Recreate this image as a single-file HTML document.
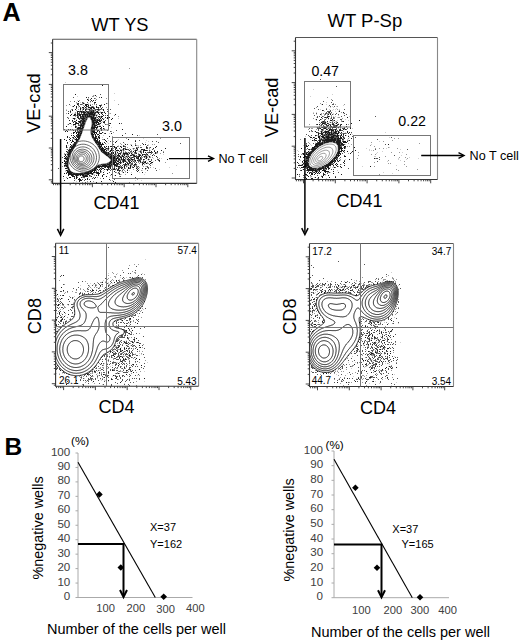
<!DOCTYPE html>
<html><head><meta charset="utf-8"><style>
html,body{margin:0;padding:0;background:#fff;}
body{width:520px;height:642px;overflow:hidden;}
svg{display:block;font-family:"Liberation Sans",sans-serif;}
</style></head><body>
<svg width="520" height="642" viewBox="0 0 520 642">
<text x="2.60" y="20.68" font-size="25.2" font-weight="bold" fill="#000">A</text>
<text x="4.60" y="454.68" font-size="24.5" font-weight="bold" fill="#000">B</text>
<clipPath id="cp1"><rect x="52.6" y="39.3" width="144.1" height="144.10000000000002"/></clipPath>
<g transform="translate(0,0.5)" stroke-width="1" fill="none" shape-rendering="crispEdges">
<path d="M102 85h1M75 94h1M95 95h1M86 97h1M101 97h1M91 98h1M87 99h1M88 100h1M91 100h1M93 100h1M78 101h1M94 102h2M78 103h1M83 103h1M77 104h1M85 104h3M104 104h1M74 105h1M85 105h2M88 105h1M90 105h1M99 105h2M73 106h1M76 106h1M86 106h1M96 106h1M100 106h1M76 107h1M82 107h2M85 107h1M88 107h2M91 107h3M96 107h1M98 107h1M80 108h1M90 108h2M93 108h2M101 108h1M75 109h1M80 109h1M83 109h1M85 109h1M89 109h1M97 109h2M103 109h1M72 110h1M85 110h1M93 110h1M103 110h1M70 111h1M77 111h2M80 111h2M83 111h1M86 111h1M91 111h1M93 111h1M97 111h1M77 112h1M81 112h1M83 112h3M87 112h2M90 112h4M95 112h1M97 112h2M101 112h2M104 112h1M68 113h1M77 113h1M84 113h1M88 113h5M94 113h1M98 113h1M101 113h1M105 113h1M71 114h1M74 114h2M77 114h1M79 114h2M82 114h6M89 114h6M99 114h1M102 114h1M115 114h1M70 115h1M74 115h1M77 115h1M79 115h2M82 115h1M85 115h1M87 115h1M89 115h1M93 115h2M96 115h1M103 115h1M107 115h1M80 116h1M82 116h2M85 116h1M87 116h5M93 116h1M98 116h2M101 116h2M108 116h1M77 117h1M80 117h1M83 117h1M86 117h1M91 117h3M95 117h1M101 117h1M105 117h1M107 117h1M109 117h1M73 118h2M78 118h1M81 118h4M91 118h5M100 118h1M102 118h1M107 118h1M112 118h1M82 119h2M86 119h1M91 119h2M94 119h1M97 119h1M99 119h1M103 119h1M111 119h1M69 120h1M72 120h1M76 120h1M81 120h1M83 120h2M92 120h4M97 120h3M101 120h1M74 121h1M78 121h3M82 121h3M92 121h2M96 121h2M99 121h2M104 121h1M73 122h1M76 122h1M79 122h2M82 122h2M92 122h7M103 122h2M70 123h1M75 123h4M82 123h3M93 123h2M96 123h1M98 123h1M100 123h1M108 123h1M110 123h1M119 123h1M73 124h3M81 124h1M83 124h1M92 124h3M97 124h2M80 125h4M92 125h1M94 125h3M109 125h1M66 126h1M75 126h1M80 126h1M82 126h1M92 126h1M94 126h1M97 126h1M99 126h2M103 126h1M75 127h1M78 127h3M82 127h2M91 127h7M101 127h1M77 128h6M91 128h4M96 128h1M100 128h1M103 128h1M68 129h1M70 129h1M77 129h2M80 129h3M91 129h2M101 129h1M122 129h1M66 130h1M73 130h1M75 130h1M77 130h1M79 130h4M91 130h4M97 130h2M101 130h1M65 131h1M67 131h1M75 131h1M80 131h2M92 131h3M97 131h1M99 131h1M73 132h2M76 132h1M78 132h2M81 132h1M93 132h4M102 132h1M73 133h1M76 133h1M78 133h1M80 133h2M91 133h2M94 133h1M96 133h1M100 133h2M105 133h1M111 133h1M77 134h2M80 134h1M91 134h3M95 134h1M97 134h2M132 134h1M71 135h1M73 135h1M76 135h1M78 135h3M92 135h1M95 135h1M99 135h1M122 135h1M67 136h1M74 136h1M77 136h3M92 136h2M95 136h2M98 136h1M109 136h1M67 137h1M73 137h1M75 137h1M77 137h3M92 137h2M95 137h1M98 137h2M70 138h1M76 138h1M78 138h2M94 138h3M99 138h1M64 139h1M69 139h1M75 139h4M94 139h2M97 139h1M104 139h1M128 139h1M66 140h1M70 140h1M72 140h1M76 140h2M94 140h4M99 140h1M105 140h1M72 141h2M76 141h1M95 141h3M99 141h1M106 141h1M116 141h1M135 141h1M67 142h1M71 142h1M74 142h3M95 142h6M104 142h1M115 142h1M74 143h2M96 143h1M98 143h3M102 143h1M70 144h1M73 144h3M97 144h7M125 144h1M143 144h1M145 144h1M66 145h1M71 145h1M73 145h3M99 145h1M101 145h1M112 145h1M131 145h1M135 145h1M66 146h1M70 146h1M72 146h3M98 146h4M104 146h1M106 146h1M108 146h1M110 146h2M114 146h1M120 146h1M123 146h1M156 146h1M66 147h1M71 147h3M99 147h2M102 147h1M114 147h1M116 147h1M121 147h1M146 147h1M155 147h1M71 148h3M99 148h1M101 148h3M106 148h1M108 148h1M111 148h1M116 148h1M123 148h1M136 148h1M153 148h1M165 148h1M69 149h4M100 149h3M104 149h2M111 149h1M115 149h1M123 149h1M125 149h2M137 149h1M141 149h2M144 149h1M68 150h3M72 150h1M101 150h4M106 150h1M110 150h2M116 150h3M120 150h2M129 150h1M135 150h2M143 150h4M161 150h1M66 151h1M69 151h3M101 151h1M103 151h2M110 151h1M133 151h1M135 151h1M140 151h1M143 151h1M151 151h1M154 151h1M157 151h1M67 152h1M69 152h2M103 152h4M108 152h1M111 152h1M113 152h1M115 152h1M117 152h1M135 152h1M143 152h1M145 152h1M149 152h2M155 152h1M68 153h3M104 153h3M108 153h1M111 153h3M115 153h1M119 153h2M123 153h5M129 153h1M131 153h1M136 153h1M155 153h1M65 154h1M67 154h3M105 154h4M110 154h1M112 154h1M118 154h1M124 154h1M127 154h1M132 154h1M139 154h1M142 154h1M144 154h1M147 154h1M65 155h1M68 155h1M106 155h2M111 155h1M113 155h1M117 155h3M122 155h1M124 155h1M130 155h2M133 155h2M139 155h2M142 155h1M152 155h1M64 156h1M66 156h1M68 156h2M108 156h1M110 156h3M114 156h1M119 156h1M122 156h2M126 156h1M128 156h1M134 156h2M138 156h2M144 156h1M146 156h1M149 156h1M156 156h1M65 157h1M67 157h1M109 157h6M117 157h1M120 157h2M129 157h1M132 157h1M136 157h1M138 157h1M140 157h1M146 157h1M64 158h5M110 158h5M116 158h2M121 158h1M123 158h1M128 158h1M134 158h1M137 158h2M140 158h1M146 158h1M66 159h3M111 159h3M116 159h1M118 159h2M121 159h1M123 159h2M127 159h1M129 159h1M131 159h2M143 159h1M148 159h1M167 159h1M64 160h1M67 160h2M111 160h1M113 160h2M116 160h1M123 160h2M128 160h1M135 160h1M137 160h1M139 160h1M159 160h1M64 161h1M66 161h2M110 161h2M113 161h1M115 161h1M117 161h2M120 161h1M123 161h1M125 161h1M129 161h1M131 161h1M140 161h1M145 161h1M149 161h2M62 162h1M65 162h1M67 162h1M109 162h7M119 162h2M123 162h1M129 162h2M142 162h1M144 162h2M151 162h2M64 163h4M109 163h2M112 163h3M116 163h3M120 163h1M125 163h1M127 163h1M143 163h1M146 163h1M150 163h1M67 164h1M101 164h1M103 164h3M107 164h3M111 164h1M113 164h3M117 164h1M125 164h2M128 164h1M134 164h2M142 164h1M64 165h4M98 165h1M102 165h5M109 165h2M112 165h1M114 165h3M124 165h1M130 165h1M66 166h2M97 166h14M116 166h1M118 166h2M124 166h1M130 166h1M134 166h1M67 167h2M95 167h2M98 167h2M105 167h1M107 167h2M110 167h1M112 167h1M122 167h1M124 167h1M128 167h1M130 167h1M133 167h1M65 168h2M68 168h1M94 168h3M100 168h1M102 168h2M108 168h1M110 168h1M114 168h1M118 168h1M121 168h1M128 168h1M136 168h1M145 168h1M68 169h1M92 169h1M94 169h2M97 169h1M99 169h1M101 169h1M104 169h1M107 169h1M112 169h3M118 169h1M137 169h1M66 170h2M69 170h1M90 170h1M92 170h4M100 170h1M107 170h1M117 170h1M119 170h1M127 170h1M138 170h1M67 171h4M88 171h5M94 171h1M100 171h1M114 171h1M137 171h1M67 172h6M85 172h4M90 172h2M93 172h2M96 172h3M103 172h1M123 172h1M127 172h1M142 172h1M64 173h1M66 173h1M68 173h4M73 173h2M76 173h2M80 173h3M84 173h9M97 173h3M107 173h1M119 173h1M68 174h16M87 174h2M92 174h1M98 174h1M103 174h1M111 174h2M131 174h1M68 175h1M71 175h2M76 175h2M80 175h1M82 175h2M85 175h2M89 175h1M96 175h1M98 175h1M102 175h1M115 175h1M63 176h1M72 176h3M76 176h1M83 176h5M91 176h1M102 176h1M106 176h1M69 177h2M76 177h1M81 177h1M95 177h1M67 178h1M74 178h1M76 178h1M79 178h1M87 178h1M94 178h1M103 178h1M127 178h1M78 179h3M85 179h1M87 179h1M109 179h1M64 180h1M79 180h3M79 181h1M90 181h1M101 181h1M113 181h1M96 182h1M115 182h1" stroke="#1a1a1a"/>
<path d="M100 94h1M73 97h1M88 97h1M99 97h1M94 98h1M90 99h1M95 100h1M74 101h1M90 101h1M92 101h1M82 102h1M87 102h1M77 103h1M94 103h1M106 103h1M69 104h1M78 104h1M80 104h2M96 104h1M78 105h1M101 105h1M79 106h1M84 106h1M87 106h2M92 106h1M80 107h1M90 107h1M97 107h1M102 107h1M76 108h1M83 108h1M86 108h1M98 108h1M72 109h1M86 109h1M88 109h1M91 109h1M95 109h2M99 109h2M107 109h1M110 109h1M89 110h4M95 110h1M98 110h1M68 111h1M79 111h1M82 111h1M84 111h1M87 111h4M92 111h1M96 111h1M107 111h1M70 112h1M79 112h1M82 112h1M89 112h1M94 112h1M96 112h1M78 113h2M81 113h1M83 113h1M86 113h2M93 113h1M95 113h1M78 114h1M81 114h1M88 114h1M73 115h1M75 115h1M83 115h2M86 115h1M88 115h1M90 115h3M105 115h1M77 116h2M81 116h1M84 116h1M86 116h1M92 116h1M67 117h1M78 117h1M81 117h2M84 117h2M87 117h1M90 117h1M94 117h1M97 117h1M99 117h1M68 118h1M79 118h2M85 118h2M98 118h1M74 119h1M79 119h1M84 119h2M93 119h1M95 119h2M101 119h1M80 120h1M82 120h1M85 120h1M96 120h1M100 120h1M105 120h1M72 121h1M75 121h1M81 121h1M85 121h1M94 121h2M75 122h1M84 122h1M108 122h1M69 123h1M80 123h2M92 123h1M99 123h1M109 123h1M121 123h1M68 124h1M78 124h1M80 124h1M82 124h1M84 124h1M99 124h1M105 124h1M78 125h2M93 125h1M76 126h1M81 126h1M83 126h1M93 126h1M95 126h1M63 127h1M101 128h1M64 129h1M72 129h1M79 129h1M93 129h2M96 129h1M104 129h1M107 130h1M116 130h1M77 131h3M91 131h1M110 131h1M77 132h1M80 132h1M91 132h2M99 132h1M79 133h1M99 133h1M104 133h1M125 133h1M79 134h1M157 134h1M77 135h1M93 135h1M137 135h1M76 136h1M69 137h1M72 137h1M94 137h1M96 137h1M73 138h1M93 138h1M97 138h1M107 138h1M135 140h1M139 140h1M77 141h1M98 141h1M110 141h1M152 141h1M156 141h1M123 142h1M158 142h1M67 143h1M76 143h1M97 143h1M105 143h1M142 143h1M180 143h1M113 144h1M127 144h1M98 145h1M123 145h1M147 145h1M113 146h1M117 146h1M124 146h2M146 146h1M70 147h1M104 147h2M108 147h1M115 147h1M136 147h1M138 147h1M140 147h2M147 147h1M150 147h1M189 147h1M100 148h1M107 148h1M115 148h1M119 148h1M124 148h2M133 148h1M137 148h1M146 148h2M67 149h1M103 149h1M108 149h1M127 149h2M130 149h1M143 149h1M152 149h1M71 150h1M113 150h1M123 150h1M147 150h1M149 150h1M154 150h1M102 151h1M105 151h1M109 151h1M115 151h1M119 151h1M121 151h1M130 151h2M68 152h1M102 152h1M107 152h1M121 152h1M123 152h1M125 152h2M128 152h1M134 152h1M140 152h2M147 152h2M151 152h2M157 152h1M163 152h1M107 153h1M109 153h1M118 153h1M135 153h1M141 153h1M146 153h1M151 153h1M109 154h1M111 154h1M114 154h2M120 154h1M123 154h1M126 154h1M128 154h1M133 154h1M138 154h1M143 154h1M145 154h2M153 154h1M69 155h1M108 155h3M112 155h1M115 155h1M136 155h1M145 155h1M154 155h1M109 156h1M113 156h1M115 156h2M118 156h1M120 156h1M133 156h1M136 156h2M141 156h1M145 156h1M62 157h1M68 157h1M115 157h1M118 157h1M123 157h2M127 157h1M131 157h1M133 157h1M137 157h1M144 157h1M149 157h1M157 157h1M115 158h1M118 158h2M125 158h1M130 158h2M136 158h1M141 158h1M114 159h2M122 159h1M128 159h1M133 159h2M138 159h4M144 159h1M151 159h1M157 159h2M112 160h1M115 160h1M118 160h3M122 160h1M125 160h1M129 160h2M132 160h1M134 160h1M138 160h1M140 160h1M151 160h1M155 160h1M158 160h1M65 161h1M112 161h1M114 161h1M122 161h1M124 161h1M128 161h1M133 161h1M135 161h1M138 161h1M143 161h1M159 161h1M66 162h1M116 162h1M121 162h1M126 162h2M134 162h1M136 162h1M140 162h1M107 163h2M111 163h1M128 163h2M131 163h2M135 163h1M142 163h1M65 164h2M102 164h1M106 164h1M110 164h1M112 164h1M116 164h1M119 164h1M123 164h2M131 164h2M136 164h1M149 164h1M99 165h2M107 165h2M111 165h1M117 165h1M120 165h1M122 165h1M125 165h1M133 165h2M150 165h1M64 166h1M96 166h1M112 166h1M114 166h1M117 166h1M121 166h1M126 166h1M136 166h1M138 166h1M147 166h1M97 167h1M101 167h1M104 167h1M109 167h1M114 167h1M118 167h4M132 167h1M137 167h1M147 167h2M58 168h1M67 168h1M112 168h1M116 168h1M119 168h1M124 168h1M129 168h2M138 168h1M142 168h1M148 168h1M155 168h1M69 169h1M93 169h1M106 169h1M108 169h2M111 169h1M115 169h1M117 169h1M123 169h1M68 170h1M91 170h1M98 170h1M110 170h1M118 170h1M120 170h1M122 170h1M136 170h1M147 170h1M156 170h1M96 171h1M119 171h1M89 172h1M95 172h1M100 172h1M109 172h1M115 172h1M118 172h1M72 173h1M75 173h1M78 173h2M83 173h1M96 173h1M84 174h3M119 174h1M73 175h1M75 175h1M78 175h1M84 175h1M87 175h1M120 176h1M74 177h1M77 177h1M83 177h2M93 177h1M135 177h1M92 178h1M82 179h1M89 179h1M114 179h1M74 180h1M84 180h1M85 182h1" stroke="#555"/>
<path d="M129 68h1M93 95h1M92 96h2M96 96h1M95 98h1M106 98h1M88 99h1M96 99h1M79 100h1M70 101h1M76 102h1M83 102h1M82 103h1M84 103h1M82 104h1M88 104h1M90 104h1M92 104h1M94 104h1M101 104h1M118 104h1M66 105h1M83 105h1M72 106h1M91 106h1M93 106h1M86 107h1M94 107h1M100 107h1M106 107h1M84 108h1M71 109h1M78 109h1M82 109h1M87 109h1M90 109h1M92 109h1M94 109h1M101 109h2M66 110h1M70 110h1M76 110h1M80 110h1M82 110h1M94 110h1M99 110h1M85 111h1M94 111h1M104 111h1M75 112h1M86 112h1M99 112h2M66 113h1M75 113h1M85 113h1M110 113h1M95 114h1M76 115h1M78 115h1M95 115h1M114 115h1M75 116h1M94 116h1M96 116h1M100 116h1M118 116h1M96 117h1M100 117h1M75 118h1M81 119h1M98 119h1M103 121h1M81 122h1M101 122h1M95 123h1M104 123h1M95 124h2M106 124h2M73 125h1M75 125h1M98 126h1M76 127h2M81 127h1M104 128h1M75 129h2M95 129h1M111 131h1M113 132h1M71 133h1M94 134h1M99 136h1M112 136h1M74 138h1M126 138h1M160 138h1M72 139h1M74 139h1M102 139h2M113 141h1M120 143h1M135 143h1M121 144h1M135 144h1M152 144h1M154 144h1M100 145h1M136 145h1M140 145h1M71 146h1M118 146h1M121 146h1M67 147h1M69 147h1M101 147h1M125 147h1M127 147h1M137 147h1M149 147h1M105 148h1M113 148h1M134 148h1M149 148h1M107 149h1M120 149h1M122 149h1M133 149h1M108 150h1M131 150h1M134 150h1M137 150h1M140 150h2M67 151h1M106 151h1M123 151h1M125 151h1M139 151h1M141 151h1M149 151h1M163 151h1M120 152h1M129 152h4M136 152h1M156 152h1M64 153h1M110 153h1M134 153h1M138 153h1M156 153h1M160 153h1M64 154h1M116 154h1M122 154h1M125 154h1M131 154h1M134 154h1M140 154h1M150 154h1M114 155h1M121 155h1M127 155h2M132 155h1M138 155h1M146 155h3M117 156h1M121 156h1M125 156h1M127 156h1M143 156h1M66 157h1M125 157h1M130 157h1M134 157h1M141 157h2M147 157h1M150 157h1M152 157h1M145 158h1M159 158h1M65 159h1M120 159h1M125 159h1M130 159h1M149 159h1M66 160h1M117 160h1M143 160h1M126 161h1M134 161h1M139 161h1M144 161h1M118 162h1M132 162h1M138 162h1M141 162h1M143 162h1M147 162h1M165 162h1M130 163h1M139 163h1M147 163h2M151 163h1M118 164h1M127 164h1M130 164h1M144 164h1M101 165h1M126 165h1M128 165h1M131 165h1M135 165h2M142 165h1M62 166h1M65 166h1M111 166h1M120 166h1M132 166h1M137 166h1M143 166h1M146 166h1M136 167h1M139 167h1M150 167h1M101 168h1M113 168h1M122 168h1M125 168h1M146 168h1M96 169h1M127 169h1M133 169h1M145 169h1M96 170h1M124 170h1M141 170h1M101 171h1M122 171h1M125 171h1M66 172h1M116 172h1M93 173h1M118 173h1M172 173h1M91 174h1M104 174h1M120 174h1M125 174h1M90 175h1M94 175h1M110 175h1M82 176h1M89 176h2M119 176h1M66 177h1M82 177h1M97 177h1M100 178h1M137 179h1M110 180h1M112 180h1M87 181h1M93 181h1M82 182h1M129 182h1" stroke="#999"/>
<path d="M65 82h1M114 93h1M94 95h1M77 96h1M88 98h1M77 100h1M114 100h1M80 102h1M90 102h1M76 103h1M88 103h1M107 103h1M70 105h1M96 105h1M78 106h1M78 107h1M99 107h1M81 108h2M85 108h1M87 108h3M66 109h1M93 109h1M86 110h1M97 110h1M95 111h1M98 111h1M100 111h1M80 112h1M103 112h1M72 113h1M74 113h1M102 113h1M109 113h1M96 114h2M97 115h1M101 115h1M68 117h1M72 118h1M96 118h1M103 118h2M106 118h1M118 118h1M76 119h1M80 119h1M100 119h1M73 121h1M102 121h1M78 122h1M100 122h1M67 124h1M71 124h1M79 124h1M108 124h1M97 125h1M99 125h2M102 125h1M108 125h1M71 126h1M108 127h1M111 127h1M76 128h1M97 128h1M103 132h1M93 133h1M109 133h1M97 135h1M103 135h1M139 135h1M102 137h1M98 138h1M143 138h1M98 139h1M118 139h1M75 140h1M108 140h1M117 140h1M146 140h1M69 141h1M75 141h1M148 141h1M102 142h1M107 142h1M145 142h1M73 143h1M108 143h1M124 143h1M106 144h1M130 144h2M148 144h1M68 145h1M72 145h1M118 145h1M124 145h1M137 145h2M148 145h1M132 146h1M138 146h1M112 147h1M109 148h1M129 148h1M132 148h1M66 149h1M106 149h1M117 149h1M121 149h1M124 149h1M135 149h2M149 149h1M153 149h1M107 150h1M112 150h1M115 150h1M122 150h1M124 150h1M128 150h1M150 150h1M114 151h1M116 151h2M138 151h1M109 152h1M124 152h1M127 152h1M66 153h1M116 153h2M121 153h2M128 153h1M132 153h1M148 153h1M154 153h1M157 153h1M66 154h1M163 154h1M116 155h1M123 155h1M126 155h1M135 155h1M141 155h1M124 156h1M129 156h2M147 156h2M150 156h1M116 157h1M126 157h1M145 157h1M120 158h1M126 158h2M148 158h1M153 158h1M157 158h1M161 158h1M126 159h1M137 159h1M147 159h1M121 160h1M127 160h1M131 160h1M133 160h1M146 160h1M148 160h1M116 161h1M132 161h1M142 161h1M153 161h1M122 162h1M121 163h1M144 163h2M64 164h1M152 164h1M127 165h1M129 165h1M176 165h1M115 166h1M123 166h1M127 166h1M131 166h1M145 166h1M66 167h1M102 167h1M126 167h1M129 167h1M153 167h1M169 167h1M99 168h1M109 168h1M137 168h1M67 169h1M100 169h1M105 169h1M116 169h1M122 169h1M139 169h1M159 169h1M65 170h1M103 170h1M115 170h1M129 170h1M142 170h1M65 171h1M98 171h1M104 171h1M121 171h1M101 172h1M119 172h1M122 172h1M125 172h1M131 172h1M139 172h1M145 172h1M117 173h1M89 174h1M93 174h2M121 174h1M144 174h1M79 175h1M81 175h1M114 175h1M77 176h1M88 177h1M109 177h1M63 178h1M84 178h1M75 179h1M135 180h1M141 180h1M76 181h1M73 182h1M87 182h1" stroke="#d0d0d0"/>
</g>
<g clip-path="url(#cp1)" fill="none" stroke="#333" stroke-width="0.75">
<path d="M89.8,117.5 90.1,117.9 90.4,118.4 90.8,119.0 91.2,119.7 91.5,120.4 91.8,121.3 92.0,122.1 92.1,123.0 92.1,123.9 92.0,125.0 91.7,126.1 91.5,127.2 91.2,128.3 91.0,129.4 90.8,130.5 90.8,131.5 90.9,132.4 91.0,133.2 91.2,134.0 91.4,134.8 91.6,135.6 91.9,136.4 92.3,137.2 92.7,138.0 93.2,138.9 93.7,139.8 94.3,140.8 95.0,141.8 95.6,142.7 96.3,143.7 96.9,144.6 97.5,145.5 98.1,146.4 98.6,147.3 99.2,148.2 99.7,149.0 100.2,149.8 100.7,150.6 101.3,151.4 101.8,152.0 102.3,152.5 102.8,153.0 103.3,153.4 103.9,153.7 104.4,154.0 104.9,154.4 105.4,154.7 106.0,155.2 106.6,155.7 107.4,156.3 108.2,156.9 109.0,157.6 109.7,158.2 110.4,158.9 110.8,159.5 111.0,160.0 111.0,160.5 110.8,161.0 110.4,161.4 110.0,161.8 109.4,162.2 108.7,162.6 108.0,163.0 107.2,163.3 106.3,163.6 105.3,163.8 104.2,164.0 103.0,164.1 101.8,164.3 100.6,164.5 99.6,164.7 98.6,165.0 97.8,165.4 97.0,165.8 96.4,166.3 95.8,166.8 95.2,167.3 94.5,167.8 93.9,168.2 93.2,168.7 92.5,169.1 91.7,169.6 91.0,170.0 90.2,170.4 89.4,170.8 88.6,171.2 87.7,171.6 86.8,171.9 85.8,172.2 84.7,172.5 83.6,172.8 82.4,173.0 81.3,173.2 80.2,173.4 79.1,173.5 78.1,173.5 77.2,173.5 76.3,173.4 75.4,173.3 74.6,173.1 73.8,172.9 73.0,172.6 72.3,172.3 71.7,171.9 71.1,171.5 70.6,170.9 70.1,170.4 69.7,169.8 69.3,169.1 69.0,168.4 68.7,167.7 68.5,167.0 68.3,166.3 68.2,165.5 68.2,164.7 68.2,163.9 68.2,163.1 68.3,162.2 68.4,161.4 68.5,160.6 68.6,159.8 68.8,159.0 69.0,158.2 69.3,157.4 69.6,156.6 69.9,155.8 70.2,155.0 70.6,154.1 71.0,153.2 71.5,152.3 72.0,151.4 72.6,150.5 73.1,149.5 73.7,148.6 74.3,147.6 74.9,146.6 75.5,145.6 76.1,144.5 76.8,143.5 77.4,142.4 78.1,141.3 78.7,140.2 79.3,139.1 79.8,138.0 80.3,136.9 80.7,135.8 81.1,134.7 81.5,133.6 81.9,132.6 82.3,131.5 82.6,130.4 83.0,129.4 83.4,128.4 83.7,127.3 84.1,126.3 84.4,125.3 84.8,124.3 85.1,123.4 85.4,122.6 85.7,121.8 86.0,121.1 86.3,120.5 86.5,120.0 86.8,119.5 87.0,119.1 87.3,118.7 87.5,118.4 87.8,118.1 88.1,117.8 88.3,117.6 88.5,117.4 88.8,117.2 89.0,117.1 89.3,117.1 89.5,117.3Z"/>
<path d="M91.2,143.1 93.0,144.2 94.5,145.6 95.9,147.1 97.1,148.9 98.0,150.7 98.7,152.6 99.1,154.6 99.3,156.7 99.2,158.7 98.8,160.7 98.2,162.6 97.3,164.4 96.1,166.1 94.8,167.7 93.3,169.0 91.5,170.1 89.7,171.0 87.8,171.6 85.7,172.0 83.7,172.1 81.6,171.9 79.6,171.5 77.6,170.8 75.8,169.9 74.0,168.8 72.5,167.4 71.1,165.9 69.9,164.1 69.0,162.3 68.3,160.4 67.9,158.4 67.7,156.3 67.8,154.3 68.2,152.3 68.8,150.4 69.7,148.6 70.9,146.9 72.2,145.3 73.7,144.0 75.5,142.9 77.3,142.0 79.2,141.4 81.3,141.0 83.3,140.9 85.4,141.1 87.4,141.5 89.4,142.2Z"/>
<path d="M89.7,146.0 91.2,147.0 92.5,148.1 93.7,149.4 94.6,150.9 95.4,152.4 96.0,154.0 96.4,155.7 96.5,157.4 96.4,159.1 96.1,160.7 95.6,162.3 94.8,163.8 93.9,165.3 92.8,166.5 91.5,167.6 90.0,168.5 88.5,169.3 86.9,169.8 85.2,170.1 83.5,170.2 81.7,170.1 80.1,169.7 78.4,169.1 76.9,168.4 75.4,167.4 74.1,166.3 72.9,165.0 72.0,163.5 71.2,162.0 70.6,160.4 70.2,158.7 70.1,157.0 70.2,155.3 70.5,153.7 71.0,152.1 71.8,150.6 72.7,149.1 73.8,147.9 75.1,146.8 76.6,145.9 78.1,145.1 79.7,144.6 81.4,144.3 83.1,144.2 84.9,144.3 86.5,144.7 88.2,145.3Z"/>
<path d="M88.4,148.4 89.6,149.2 90.7,150.2 91.7,151.2 92.5,152.4 93.1,153.7 93.6,155.1 93.9,156.5 94.0,157.9 93.9,159.3 93.6,160.7 93.2,162.1 92.6,163.3 91.8,164.5 90.8,165.6 89.8,166.5 88.6,167.3 87.3,167.9 85.9,168.4 84.5,168.6 83.1,168.7 81.7,168.6 80.2,168.3 78.9,167.8 77.6,167.2 76.4,166.4 75.3,165.4 74.3,164.4 73.5,163.2 72.9,161.9 72.4,160.5 72.1,159.1 72.0,157.7 72.1,156.3 72.4,154.9 72.8,153.5 73.4,152.3 74.2,151.1 75.2,150.0 76.2,149.1 77.4,148.3 78.7,147.7 80.1,147.2 81.5,147.0 82.9,146.9 84.3,147.0 85.8,147.3 87.1,147.8Z"/>
<path d="M87.1,150.5 88.2,151.2 89.1,152.0 89.9,152.9 90.6,153.9 91.1,154.9 91.5,156.0 91.8,157.2 91.9,158.4 91.8,159.5 91.6,160.7 91.3,161.8 90.8,162.8 90.1,163.8 89.3,164.7 88.4,165.4 87.4,166.1 86.4,166.6 85.2,166.9 84.1,167.1 82.9,167.2 81.7,167.1 80.5,166.8 79.3,166.4 78.3,165.9 77.2,165.2 76.3,164.4 75.5,163.5 74.8,162.5 74.3,161.5 73.9,160.4 73.6,159.2 73.5,158.0 73.6,156.9 73.8,155.7 74.1,154.6 74.6,153.6 75.3,152.6 76.1,151.7 77.0,151.0 78.0,150.3 79.0,149.8 80.2,149.5 81.3,149.3 82.5,149.2 83.7,149.3 84.9,149.6 86.1,150.0Z"/>
<path d="M85.9,152.0 86.8,152.5 87.6,153.2 88.2,153.9 88.8,154.8 89.3,155.6 89.6,156.6 89.8,157.5 89.9,158.5 89.9,159.4 89.7,160.4 89.4,161.3 89.0,162.1 88.4,162.9 87.8,163.7 87.1,164.3 86.2,164.8 85.4,165.2 84.4,165.5 83.5,165.7 82.5,165.7 81.5,165.6 80.5,165.4 79.6,165.1 78.7,164.6 77.8,164.1 77.0,163.4 76.4,162.7 75.8,161.8 75.3,161.0 75.0,160.0 74.8,159.1 74.7,158.1 74.7,157.2 74.9,156.2 75.2,155.3 75.6,154.5 76.2,153.7 76.8,152.9 77.5,152.3 78.4,151.8 79.2,151.4 80.2,151.1 81.1,150.9 82.1,150.9 83.1,151.0 84.1,151.2 85.0,151.5Z"/>
<path d="M85.0,153.3 85.7,153.7 86.3,154.3 86.8,154.8 87.2,155.5 87.6,156.2 87.8,156.9 88.0,157.7 88.0,158.5 88.0,159.3 87.8,160.1 87.6,160.8 87.2,161.5 86.8,162.2 86.3,162.7 85.7,163.3 85.0,163.7 84.3,164.0 83.6,164.3 82.8,164.4 82.0,164.5 81.3,164.4 80.5,164.3 79.8,164.0 79.0,163.7 78.4,163.3 77.8,162.7 77.3,162.2 76.9,161.5 76.5,160.8 76.3,160.1 76.1,159.3 76.0,158.5 76.1,157.7 76.3,156.9 76.5,156.2 76.9,155.5 77.3,154.8 77.8,154.3 78.4,153.7 79.0,153.3 79.8,153.0 80.5,152.7 81.3,152.6 82.0,152.5 82.8,152.6 83.6,152.7 84.3,153.0Z"/>
<path d="M84.1,154.7 84.6,155.0 85.0,155.4 85.4,155.8 85.7,156.3 86.0,156.9 86.2,157.4 86.3,158.0 86.3,158.6 86.2,159.2 86.1,159.8 85.9,160.4 85.7,160.9 85.3,161.4 84.9,161.9 84.5,162.3 84.0,162.6 83.4,162.9 82.9,163.1 82.3,163.2 81.7,163.3 81.1,163.3 80.6,163.2 80.0,163.0 79.5,162.7 79.0,162.4 78.6,162.0 78.2,161.6 77.9,161.1 77.6,160.5 77.4,160.0 77.3,159.4 77.3,158.8 77.4,158.2 77.5,157.6 77.7,157.0 77.9,156.5 78.3,156.0 78.7,155.5 79.1,155.1 79.6,154.8 80.2,154.5 80.7,154.3 81.3,154.2 81.9,154.1 82.5,154.1 83.0,154.2 83.6,154.4Z"/>
<path d="M82.7,156.2 83.1,156.4 83.3,156.7 83.6,156.9 83.8,157.3 83.9,157.6 84.0,158.0 84.1,158.3 84.1,158.7 84.1,159.1 84.0,159.5 83.8,159.8 83.7,160.2 83.5,160.5 83.2,160.8 82.9,161.1 82.6,161.3 82.3,161.5 81.9,161.6 81.5,161.7 81.2,161.7 80.8,161.7 80.4,161.7 80.1,161.6 79.8,161.4 79.4,161.2 79.2,160.9 78.9,160.7 78.7,160.3 78.6,160.0 78.5,159.6 78.4,159.3 78.4,158.9 78.4,158.5 78.5,158.1 78.7,157.8 78.8,157.4 79.0,157.1 79.3,156.8 79.6,156.5 79.9,156.3 80.2,156.1 80.6,156.0 81.0,155.9 81.3,155.9 81.7,155.9 82.1,155.9 82.4,156.0Z"/>
</g>
<clipPath id="cp2"><rect x="295.5" y="37.5" width="142.0" height="142.0"/></clipPath>
<g transform="translate(0,0.5)" stroke-width="1" fill="none" shape-rendering="crispEdges">
<path d="M322 104h1M322 110h1M339 111h1M329 112h1M343 112h1M320 114h1M328 114h1M330 114h1M328 116h1M321 117h1M325 117h1M327 117h1M347 117h1M328 118h1M316 119h1M320 119h1M332 119h1M319 120h1M330 120h2M334 120h1M359 120h1M323 121h1M327 121h1M343 121h1M321 122h1M325 122h1M337 122h1M322 123h3M327 123h1M336 123h1M351 123h1M317 124h1M319 124h1M326 124h1M332 124h2M338 124h1M341 124h1M346 124h1M350 124h1M328 125h1M330 125h1M336 125h1M340 125h1M327 126h1M331 126h1M334 126h1M336 126h1M346 126h1M322 127h1M324 127h3M332 127h4M338 127h1M350 127h1M320 128h1M324 128h2M344 128h1M350 128h1M321 129h2M326 129h1M329 129h3M335 129h1M340 129h1M343 129h1M345 129h1M329 130h1M331 130h3M335 130h1M339 130h2M315 131h1M321 131h1M325 131h4M331 131h1M335 131h2M338 131h1M347 131h1M316 132h1M321 132h1M323 132h1M325 132h2M328 132h2M331 132h1M334 132h2M338 132h1M341 132h1M347 132h1M349 132h1M318 133h1M321 133h2M325 133h1M327 133h1M329 133h1M331 133h1M333 133h1M335 133h4M348 133h1M318 134h1M321 134h2M326 134h1M328 134h5M337 134h1M341 134h1M343 134h1M350 134h1M315 135h1M324 135h1M328 135h1M333 135h3M337 135h2M341 135h1M345 135h1M318 136h2M321 136h3M326 136h3M331 136h3M336 136h2M340 136h1M348 136h1M310 137h2M313 137h1M318 137h2M322 137h3M326 137h8M338 137h1M340 137h2M343 137h1M315 138h2M319 138h1M324 138h1M327 138h2M331 138h2M334 138h2M337 138h5M344 138h1M351 138h1M314 139h1M321 139h1M325 139h11M337 139h2M342 139h1M312 140h1M315 140h2M319 140h2M322 140h14M337 140h4M349 140h1M319 141h2M324 141h1M326 141h6M333 141h2M336 141h5M343 141h3M347 141h1M318 142h2M322 142h1M324 142h4M334 142h1M336 142h5M343 142h4M316 143h7M337 143h3M341 143h2M315 144h8M337 144h3M341 144h3M388 144h1M306 145h1M308 145h1M315 145h3M319 145h2M338 145h3M343 145h1M306 146h2M314 146h5M338 146h2M344 146h2M312 147h3M317 147h1M338 147h4M344 147h1M354 147h1M301 148h1M312 148h5M338 148h5M344 148h1M309 149h1M311 149h5M338 149h2M341 149h1M312 150h3M338 150h1M341 150h2M344 150h1M355 150h1M308 151h1M311 151h3M338 151h4M343 151h1M347 151h1M352 151h1M307 152h1M309 152h3M337 152h3M303 153h1M306 153h1M308 153h4M337 153h4M350 153h1M303 154h1M306 154h5M336 154h1M338 154h1M340 154h1M304 155h1M308 155h3M336 155h4M300 156h1M304 156h5M336 156h1M338 156h1M344 156h2M303 157h2M306 157h4M334 157h4M306 158h3M333 158h3M374 158h1M308 159h1M332 159h1M334 159h1M336 159h1M349 159h1M304 160h1M306 160h3M331 160h2M334 160h2M337 160h1M339 160h1M302 161h1M304 161h3M308 161h1M330 161h4M335 161h1M338 161h1M344 161h1M297 162h1M304 162h1M306 162h2M329 162h4M334 162h1M343 162h1M303 163h1M305 163h4M328 163h3M336 163h1M344 163h1M302 164h1M305 164h4M326 164h5M332 164h1M335 164h1M337 164h1M298 165h4M305 165h4M324 165h7M333 165h1M336 165h1M344 165h1M303 166h4M308 166h2M322 166h2M325 166h4M337 166h1M340 166h1M370 166h1M301 167h3M307 167h5M322 167h2M325 167h1M327 167h2M334 167h1M341 167h1M307 168h1M309 168h7M318 168h6M325 168h2M328 168h2M303 169h1M307 169h7M315 169h1M317 169h4M323 169h1M301 170h1M307 170h10M319 170h1M322 170h4M312 171h1M315 171h2M319 171h1M324 171h5M333 171h1M307 172h1M310 172h1M314 172h1M316 172h1M318 172h1M320 172h1M325 172h1M309 173h1M311 173h2M315 173h1M317 173h1M319 173h1M323 173h1M333 173h1M297 174h1M305 174h2M311 174h2M314 174h1M323 174h2M341 174h1M307 175h1M323 175h1M328 175h1M308 176h1M322 176h1M305 177h1M315 177h1M318 177h1M322 177h1M329 177h1M335 177h1M306 178h1M311 178h2" stroke="#1a1a1a"/>
<path d="M320 79h1M336 86h1M332 100h1M323 101h1M331 102h1M332 104h2M329 105h1M317 106h1M330 106h1M334 106h1M314 108h1M318 109h1M326 109h1M344 109h1M323 110h1M330 110h1M327 111h4M326 112h1M328 112h1M331 112h1M316 113h1M325 113h2M330 113h1M336 113h1M344 113h1M325 114h1M332 114h1M335 114h1M338 114h1M346 114h1M314 115h1M344 115h1M317 116h1M319 116h1M322 116h1M327 116h1M329 116h1M341 116h1M375 116h1M317 117h1M324 117h1M326 117h1M331 117h1M333 117h1M322 118h1M331 118h1M333 118h1M325 119h1M340 119h2M324 120h1M322 121h1M324 121h1M342 121h1M322 122h3M330 122h1M332 122h1M334 122h1M325 123h1M328 123h1M332 123h2M316 124h1M321 124h2M325 124h1M329 124h2M337 124h1M340 124h1M321 125h1M323 125h1M326 125h2M333 125h3M337 125h1M323 126h2M330 126h1M333 126h1M335 126h1M340 126h1M317 127h1M319 127h1M321 127h1M323 127h1M330 127h1M340 127h1M344 127h1M309 128h1M317 128h3M323 128h1M328 128h1M330 128h1M332 128h1M336 128h1M342 128h2M347 128h1M318 129h1M327 129h1M332 129h3M336 129h1M339 129h1M346 129h1M311 130h1M318 130h1M322 130h1M328 130h1M337 130h1M341 130h2M309 131h1M312 131h1M324 131h1M333 131h1M317 132h2M324 132h1M327 132h1M330 132h1M333 132h1M336 132h1M339 132h1M351 132h1M319 133h2M328 133h1M332 133h1M334 133h1M340 133h1M343 133h3M306 134h1M324 134h2M327 134h1M333 134h2M308 135h1M311 135h1M316 135h1M318 135h1M320 135h1M322 135h2M325 135h3M329 135h4M336 135h1M340 135h1M343 135h1M309 136h1M325 136h1M329 136h1M334 136h2M338 136h1M342 136h2M352 136h1M314 137h1M325 137h1M334 137h4M355 137h1M391 137h1M321 138h1M323 138h1M325 138h2M329 138h2M333 138h1M336 138h1M319 139h2M322 139h3M336 139h1M339 139h2M343 139h1M377 139h1M314 140h1M318 140h1M336 140h1M317 141h1M322 141h2M325 141h1M332 141h1M342 141h1M317 142h1M320 142h2M323 142h1M328 142h1M333 142h1M335 142h1M341 142h1M306 143h1M313 143h1M323 143h2M336 143h1M340 143h1M340 144h1M344 144h1M385 144h1M318 145h1M341 145h2M340 146h2M315 147h2M345 147h1M307 148h1M308 149h1M375 149h1M407 149h1M339 150h1M304 151h1M310 151h1M306 152h1M312 152h1M344 152h1M351 152h1M302 153h1M342 153h1M298 154h1M337 154h1M307 155h1M344 155h1M394 155h1M298 156h1M309 156h1M335 156h1M300 157h1M340 157h1M379 157h1M336 158h2M376 158h2M299 159h1M306 159h2M333 159h1M379 159h1M303 160h1M333 160h1M344 160h1M307 161h1M334 161h1M377 161h1M302 162h1M298 163h1M331 163h1M333 163h1M331 164h1M340 164h1M302 165h1M307 166h1M324 166h1M297 167h1M305 167h2M319 167h3M324 167h1M335 167h1M306 168h1M316 168h1M324 168h1M348 168h1M296 169h1M314 169h1M316 169h1M321 169h1M324 169h1M326 169h1M328 169h1M331 169h1M333 169h1M300 170h1M306 170h1M317 170h2M308 171h1M317 171h1M309 172h1M311 172h1M313 172h1M329 172h1M338 172h1M304 173h1M327 173h1M299 174h1M303 175h1M310 175h1M317 175h1M299 176h1M321 176h1M335 176h1M318 178h1" stroke="#555"/>
<path d="M327 97h1M331 99h1M320 103h1M333 103h1M335 104h1M344 104h1M337 106h1M316 107h1M326 108h1M337 109h1M339 110h1M341 112h1M313 113h1M321 113h1M323 113h1M327 113h3M321 114h1M324 114h1M327 114h1M324 115h1M327 115h1M331 115h1M323 116h1M331 116h1M334 117h1M338 117h2M313 118h1M326 118h1M330 118h1M334 118h1M342 118h1M321 119h1M324 119h1M332 120h2M341 120h1M325 121h1M332 121h1M336 121h1M341 121h1M319 122h1M336 122h1M320 123h1M335 123h1M309 124h1M324 124h1M328 124h1M334 124h1M348 124h1M320 125h1M319 126h1M326 126h1M339 126h1M318 127h1M329 127h1M331 127h1M336 127h2M311 128h2M326 128h1M329 128h1M340 128h1M308 129h1M316 129h1M323 129h1M344 129h1M321 130h1M323 130h1M325 130h1M330 130h1M311 131h1M320 131h1M322 131h1M332 131h1M334 131h1M337 131h1M343 131h1M322 132h1M332 132h1M326 133h1M330 133h1M341 133h2M346 133h1M323 134h1M335 134h1M339 135h1M330 136h1M344 137h1M312 138h1M320 138h1M342 138h2M348 138h1M394 138h1M398 138h1M300 139h1M313 140h1M321 140h1M342 140h2M347 140h2M392 140h1M335 141h1M383 141h1M308 142h1M371 142h1M309 143h1M315 143h1M348 143h1M419 143h1M306 144h1M351 144h1M370 145h1M347 146h1M349 146h1M374 146h1M305 147h1M343 147h1M388 147h1M311 148h1M345 148h1M375 148h1M379 148h1M383 148h1M397 148h1M306 149h1M310 149h1M311 150h1M373 150h1M308 152h1M358 152h1M391 152h1M399 152h1M348 153h1M301 154h1M304 154h1M371 154h1M375 154h1M406 154h1M358 155h1M421 155h1M337 156h1M385 156h1M399 157h1M405 157h1M339 158h1M357 158h1M375 158h1M407 158h1M337 159h1M340 159h1M388 160h1M337 161h1M404 161h1M305 162h1M374 162h1M332 163h1M388 163h1M390 163h1M303 164h1M404 164h1M333 166h1M338 166h1M374 166h1M406 166h1M299 167h1M300 168h1M317 168h1M325 169h1M396 169h1M417 169h1M398 170h1M353 171h1M312 172h1M327 172h2M325 174h1M379 174h1M306 175h1M311 176h1M303 177h1M317 178h1" stroke="#999"/>
<path d="M313 89h1M332 94h1M310 96h1M326 102h1M321 104h1M326 104h1M343 105h1M328 106h1M332 106h1M336 106h1M330 107h1M333 107h1M336 108h1M320 109h1M329 109h1M333 109h1M335 109h1M339 109h1M332 110h1M324 111h1M335 111h1M338 111h1M313 112h1M316 112h1M331 113h1M333 113h1M343 113h1M316 114h1M333 114h1M321 115h1M338 115h1M333 116h1M335 116h1M349 116h1M316 117h1M328 117h1M337 117h1M315 119h1M328 119h1M330 119h1M345 119h1M316 120h1M337 120h1M348 120h1M321 121h1M329 121h1M333 121h1M335 121h1M326 122h2M329 122h1M331 122h1M338 123h1M331 124h1M319 125h1M321 126h1M325 126h1M329 126h1M316 127h1M328 127h1M339 127h1M327 128h1M338 128h1M352 128h1M327 130h1M336 130h1M314 131h1M329 131h1M339 131h1M345 132h1M385 132h1M323 133h1M351 133h1M336 134h1M352 134h1M317 135h1M319 135h1M346 135h1M348 135h1M305 136h1M310 136h1M315 136h1M320 136h1M324 136h1M320 137h2M349 137h1M389 137h1M314 138h1M322 138h1M310 139h1M347 139h1M314 141h1M379 141h1M315 142h1M310 144h1M345 144h1M371 144h1M303 145h1M311 145h1M389 147h1M366 148h1M386 148h1M340 149h1M369 149h1M400 149h1M297 150h1M309 150h1M343 150h1M369 150h1M371 150h1M298 151h1M305 151h1M309 151h1M344 151h1M382 151h1M305 152h1M341 152h1M377 152h1M402 152h1M307 153h1M376 153h1M302 154h1M339 154h1M401 155h1M374 156h2M409 157h1M398 158h1M418 158h1M304 159h1M335 159h1M345 159h1M398 159h1M406 159h1M300 160h1M305 160h1M340 160h1M400 160h1M387 161h1M303 162h1M299 164h1M301 164h1M333 164h1M341 164h1M304 165h1M396 165h1M330 166h1M362 166h1M326 167h1M329 167h2M332 167h2M340 167h1M308 168h1M302 169h1M337 170h1M313 171h2M318 171h1M321 171h1M315 172h1M323 172h1M330 172h1M383 172h1M318 173h1M392 173h1M299 175h1M304 175h1M321 175h1M325 175h1M310 176h1M310 177h1M314 177h1M326 178h1" stroke="#d0d0d0"/>
</g>
<g clip-path="url(#cp2)" fill="none" stroke="#555" stroke-width="0.6">
<path d="M337.0,144.6 337.2,144.9 337.3,145.1 337.5,145.4 337.6,145.7 337.7,146.0 337.8,146.3 337.9,146.6 338.0,146.9 338.0,147.2 338.1,147.5 338.1,147.9 338.1,148.2 338.1,148.6 338.1,149.0 338.1,149.3 338.0,149.7 337.9,150.1 337.8,150.5 337.7,150.9 337.6,151.3 337.5,151.7 337.3,152.1 337.2,152.5 337.0,152.9 336.8,153.3 336.6,153.8 336.4,154.2 336.1,154.6 335.9,155.0 335.6,155.4 335.4,155.9 335.1,156.3 334.8,156.7 334.5,157.1 334.1,157.5 333.8,157.9 333.4,158.4 333.1,158.8 332.7,159.2 332.3,159.6 331.9,160.0 331.6,160.3 331.1,160.7 330.7,161.1 330.3,161.5 329.9,161.9 329.4,162.2 329.0,162.6 328.5,162.9 328.1,163.2 327.6,163.6 327.2,163.9 326.7,164.2 326.2,164.5 325.7,164.8 325.3,165.0 324.8,165.3 324.3,165.6 323.8,165.8 323.3,166.0 322.8,166.3 322.3,166.5 321.9,166.7 321.4,166.9 320.9,167.0 320.4,167.2 320.0,167.3 319.5,167.5 319.0,167.6 318.5,167.7 318.1,167.8 317.6,167.9 317.2,168.0 316.8,168.0 316.3,168.0 315.9,168.1 315.5,168.1 315.1,168.1 314.7,168.1 314.3,168.0 313.9,168.0 313.5,167.9 313.2,167.9 312.8,167.8 312.5,167.7 312.2,167.6 311.9,167.5 311.6,167.3 311.3,167.2 311.0,167.0 310.7,166.8 310.5,166.6 310.2,166.4 310.0,166.2 309.8,166.0 309.6,165.8 309.4,165.5 309.3,165.3 309.1,165.0 309.0,164.7 308.9,164.4 308.8,164.1 308.7,163.8 308.6,163.5 308.6,163.2 308.5,162.9 308.5,162.5 308.5,162.2 308.5,161.8 308.5,161.4 308.5,161.1 308.6,160.7 308.7,160.3 308.8,159.9 308.9,159.5 309.0,159.1 309.1,158.7 309.3,158.3 309.4,157.9 309.6,157.5 309.8,157.1 310.0,156.6 310.2,156.2 310.5,155.8 310.7,155.4 311.0,155.0 311.2,154.5 311.5,154.1 311.8,153.7 312.1,153.3 312.5,152.9 312.8,152.5 313.2,152.0 313.5,151.6 313.9,151.2 314.3,150.8 314.7,150.4 315.0,150.1 315.5,149.7 315.9,149.3 316.3,148.9 316.7,148.5 317.2,148.2 317.6,147.8 318.1,147.5 318.5,147.2 319.0,146.8 319.4,146.5 319.9,146.2 320.4,145.9 320.9,145.6 321.3,145.4 321.8,145.1 322.3,144.8 322.8,144.6 323.3,144.4 323.8,144.1 324.3,143.9 324.7,143.7 325.2,143.5 325.7,143.4 326.2,143.2 326.6,143.1 327.1,142.9 327.6,142.8 328.1,142.7 328.5,142.6 329.0,142.5 329.4,142.4 329.8,142.4 330.3,142.4 330.7,142.3 331.1,142.3 331.5,142.3 331.9,142.3 332.3,142.4 332.7,142.4 333.1,142.5 333.4,142.5 333.8,142.6 334.1,142.7 334.4,142.8 334.7,142.9 335.0,143.1 335.3,143.2 335.6,143.4 335.9,143.6 336.1,143.8 336.4,144.0 336.6,144.2 336.8,144.4Z"/>
<path d="M335.3,146.0 335.8,146.9 336.1,148.0 336.2,149.2 336.1,150.5 335.7,151.9 335.2,153.3 334.4,154.8 333.4,156.3 332.3,157.8 331.0,159.2 329.5,160.6 328.0,161.9 326.3,163.1 324.6,164.1 322.9,165.0 321.2,165.8 319.5,166.4 317.8,166.7 316.3,166.9 314.9,166.9 313.6,166.7 312.4,166.3 311.5,165.7 310.7,165.0 310.2,164.1 309.9,163.0 309.8,161.8 309.9,160.5 310.3,159.1 310.8,157.7 311.6,156.2 312.6,154.7 313.7,153.2 315.0,151.8 316.5,150.4 318.0,149.1 319.7,147.9 321.4,146.9 323.1,146.0 324.8,145.2 326.5,144.6 328.2,144.3 329.7,144.1 331.1,144.1 332.4,144.3 333.6,144.7 334.5,145.3Z"/>
<path d="M332.1,148.7 332.5,149.4 332.8,150.3 332.9,151.2 332.8,152.3 332.5,153.4 332.0,154.5 331.4,155.7 330.6,156.9 329.7,158.1 328.7,159.3 327.5,160.4 326.3,161.4 324.9,162.3 323.6,163.2 322.2,163.9 320.8,164.5 319.5,164.9 318.2,165.2 316.9,165.4 315.8,165.4 314.8,165.2 313.9,164.9 313.1,164.4 312.5,163.8 312.1,163.1 311.8,162.3 311.7,161.3 311.8,160.3 312.1,159.2 312.6,158.0 313.2,156.8 314.0,155.6 314.9,154.4 315.9,153.3 317.1,152.2 318.3,151.2 319.7,150.2 321.0,149.4 322.4,148.6 323.8,148.1 325.1,147.6 326.4,147.3 327.7,147.2 328.8,147.2 329.8,147.3 330.7,147.6 331.5,148.1Z"/>
<path d="M328.9,151.4 329.2,151.9 329.4,152.6 329.5,153.3 329.4,154.1 329.2,154.9 328.9,155.8 328.4,156.7 327.8,157.5 327.1,158.4 326.4,159.3 325.5,160.1 324.6,160.9 323.6,161.6 322.6,162.2 321.5,162.8 320.5,163.2 319.5,163.5 318.5,163.8 317.6,163.9 316.7,163.9 316.0,163.7 315.3,163.5 314.7,163.2 314.3,162.7 314.0,162.2 313.8,161.5 313.7,160.8 313.8,160.0 314.0,159.2 314.3,158.3 314.8,157.4 315.4,156.6 316.1,155.7 316.8,154.8 317.7,154.0 318.6,153.2 319.6,152.5 320.6,151.9 321.7,151.3 322.7,150.9 323.7,150.6 324.7,150.3 325.6,150.2 326.5,150.2 327.2,150.4 327.9,150.6 328.5,150.9Z"/>
<path d="M325.7,154.1 326.0,154.4 326.1,154.9 326.1,155.3 326.1,155.9 325.9,156.4 325.7,157.0 325.4,157.6 325.0,158.2 324.6,158.7 324.1,159.3 323.5,159.9 322.9,160.4 322.2,160.8 321.6,161.3 320.9,161.6 320.2,161.9 319.5,162.1 318.9,162.3 318.3,162.3 317.7,162.3 317.2,162.3 316.7,162.1 316.4,161.9 316.1,161.6 315.8,161.2 315.7,160.8 315.7,160.3 315.7,159.8 315.9,159.2 316.1,158.7 316.4,158.1 316.8,157.5 317.2,156.9 317.7,156.3 318.3,155.8 318.9,155.3 319.6,154.8 320.2,154.4 320.9,154.0 321.6,153.7 322.3,153.5 322.9,153.4 323.5,153.3 324.1,153.3 324.6,153.4 325.1,153.5 325.4,153.8Z"/>
<path d="M322.6,156.8 322.7,156.9 322.7,157.2 322.8,157.4 322.7,157.6 322.7,157.9 322.6,158.2 322.4,158.5 322.2,158.8 322.0,159.1 321.8,159.3 321.5,159.6 321.2,159.9 320.9,160.1 320.5,160.3 320.2,160.5 319.9,160.6 319.5,160.7 319.2,160.8 318.9,160.8 318.6,160.8 318.4,160.8 318.2,160.7 318.0,160.6 317.8,160.4 317.7,160.3 317.7,160.0 317.6,159.8 317.7,159.6 317.7,159.3 317.8,159.0 318.0,158.7 318.2,158.4 318.4,158.1 318.6,157.9 318.9,157.6 319.2,157.3 319.5,157.1 319.9,156.9 320.2,156.7 320.5,156.6 320.9,156.5 321.2,156.4 321.5,156.4 321.8,156.4 322.0,156.4 322.2,156.5 322.4,156.6Z"/>
</g>
<clipPath id="cp3"><rect x="55.6" y="243.2" width="143.0" height="143.10000000000002"/></clipPath>
<g transform="translate(0,0.5)" stroke-width="1" fill="none" shape-rendering="crispEdges">
<path d="M63 275h1M116 280h1M102 282h1M114 282h1M100 285h1M113 285h1M61 287h1M63 290h1M92 290h2M57 294h1M63 295h1M61 298h1M68 299h1M58 304h1M58 305h1M59 312h1M64 312h1M59 313h1M68 314h1M64 316h1M61 317h1M130 318h1M56 319h1M62 319h1M61 320h1M122 320h1M137 323h1M56 325h1M126 325h1M56 326h1M124 326h1M134 327h1M128 328h1M126 330h1M132 330h1M129 333h1M127 337h1M136 338h1M134 339h1M124 342h1M132 342h1M137 342h1M126 343h1M139 345h1M118 347h1M140 347h1M120 348h1M124 348h1M126 348h1M120 349h1M137 349h1M122 350h1M126 350h1M110 351h1M117 351h1M120 351h1M112 352h1M129 352h1M113 355h1M129 355h1M114 356h1M120 356h1M119 357h1M122 357h1M136 358h1M123 359h1M125 359h1M139 359h1M121 361h1M101 363h1M118 363h1M133 364h1M118 365h1M141 365h1M94 367h1M124 367h1M139 369h1M60 370h1M112 370h1M126 370h1M94 371h1M131 371h1M99 372h1M108 372h1M133 372h1M118 373h1M87 374h1M103 374h1M126 374h1M113 375h1M104 377h1M116 377h1M144 378h1M111 379h1M76 380h1M108 380h1M93 381h1M120 382h1M66 384h1" stroke="#1a1a1a"/>
<path d="M108 247h1M136 266h1M128 268h1M135 270h1M123 272h1M128 273h1M130 273h1M141 274h1M61 275h1M120 275h1M138 275h1M60 276h1M123 277h1M130 277h1M132 277h1M138 277h1M142 277h1M105 278h1M122 278h1M118 280h1M123 280h1M82 281h1M110 281h1M116 281h1M119 281h1M78 282h1M111 282h1M117 282h1M94 283h1M98 283h1M107 283h1M63 284h1M99 284h1M102 284h1M88 285h1M92 285h1M95 285h1M108 285h1M112 285h1M100 286h1M108 286h1M78 287h1M105 287h1M73 288h1M87 288h1M98 288h1M76 289h1M88 289h1M92 289h1M105 289h1M56 290h1M90 290h1M96 290h1M99 290h2M103 290h1M60 291h2M67 291h1M87 291h1M91 291h1M98 291h1M80 292h1M95 292h1M100 292h1M79 293h2M82 293h1M84 293h1M88 293h1M92 293h1M99 293h1M79 294h1M82 294h1M60 295h1M62 295h1M79 296h1M70 297h1M72 297h1M57 298h1M72 298h1M57 299h1M60 299h1M74 299h1M58 300h1M57 301h1M60 301h1M69 301h1M144 301h1M61 302h1M60 303h1M62 303h1M56 304h1M59 304h1M62 304h2M68 304h1M71 304h2M57 305h1M73 306h1M142 306h1M57 307h1M61 307h2M71 307h2M58 308h1M63 308h1M140 308h1M145 308h1M70 309h1M56 310h1M68 310h1M71 310h1M138 310h1M60 311h1M72 312h1M142 312h1M139 313h1M59 314h1M62 314h1M74 314h1M135 314h1M60 315h1M134 315h2M58 316h1M71 316h2M129 316h1M131 316h1M57 317h1M60 317h1M133 317h1M62 318h1M125 318h1M129 318h1M61 319h1M64 319h1M70 319h1M120 319h1M129 319h2M136 319h1M138 319h1M56 320h1M60 320h1M117 320h1M126 320h2M137 320h1M58 321h1M60 321h2M65 321h2M114 321h1M116 321h1M130 321h1M138 321h1M59 322h1M63 322h1M65 322h1M116 322h1M118 322h1M120 322h2M123 322h1M128 322h1M130 322h1M135 322h1M60 323h1M63 323h1M65 323h1M116 323h1M124 323h1M126 323h2M56 324h1M58 324h1M130 324h1M62 325h1M118 325h1M61 326h1M120 326h1M127 326h1M60 327h1M118 327h1M124 327h1M144 327h1M131 328h1M140 328h1M122 329h2M129 329h1M124 330h2M129 330h1M56 331h2M124 331h3M125 332h3M131 332h1M125 333h1M128 333h1M136 333h1M125 334h1M130 334h2M121 335h2M124 335h2M127 335h1M121 336h2M143 336h1M119 337h6M134 337h1M118 338h1M127 338h2M117 339h1M133 339h1M117 340h2M121 340h1M129 340h1M134 340h1M138 340h1M116 341h2M120 341h1M124 341h1M126 341h1M131 341h2M134 341h1M119 342h1M121 342h1M125 342h2M128 342h1M133 342h1M136 342h1M138 342h1M119 343h1M125 343h1M127 343h1M129 343h1M139 343h2M120 344h1M128 344h1M132 344h1M114 345h2M118 345h2M122 345h1M126 345h1M131 345h1M133 345h2M142 345h1M118 346h2M127 346h2M132 346h1M135 346h1M116 347h2M124 347h1M136 347h1M139 347h1M116 348h1M128 348h2M131 348h1M135 348h1M144 348h1M113 349h1M115 349h1M124 349h1M112 350h1M116 350h2M120 350h1M127 350h1M129 350h1M132 350h1M121 351h1M124 351h1M127 351h1M129 351h1M131 351h1M137 351h1M110 352h1M115 352h1M119 352h1M123 352h1M131 352h1M113 353h4M118 353h1M121 353h1M126 353h1M130 353h1M132 353h1M105 354h2M113 354h3M118 354h1M120 354h2M123 354h1M125 354h3M129 354h1M132 354h2M143 354h1M104 355h1M106 355h1M111 355h2M118 355h1M130 355h1M132 355h1M136 355h2M102 356h1M104 356h1M107 356h1M109 356h1M111 356h1M117 356h2M121 356h1M126 356h1M129 356h2M101 357h1M111 357h1M116 357h1M127 357h2M131 357h1M134 357h1M144 357h1M114 358h2M119 358h1M123 358h1M125 358h1M129 358h1M102 359h1M105 359h1M116 359h3M120 359h1M126 359h1M135 359h1M108 360h1M120 360h1M122 360h3M102 361h1M110 361h1M120 361h1M122 361h1M125 361h1M129 361h1M135 361h1M137 361h1M98 362h1M106 362h1M112 362h4M122 362h1M103 363h1M110 363h1M112 363h1M116 363h1M121 363h1M123 363h1M126 363h1M129 363h1M144 363h1M100 364h1M107 364h1M109 364h1M115 364h2M119 364h1M122 364h1M124 364h1M132 364h1M136 364h1M57 365h1M102 365h1M115 365h1M126 365h1M131 365h1M56 366h1M95 366h1M98 366h1M120 366h1M126 366h1M132 366h1M135 366h1M137 366h1M144 366h1M57 367h1M108 367h1M112 367h1M115 367h1M117 367h1M120 367h1M129 367h2M141 367h1M56 368h2M59 368h1M96 368h1M106 368h1M114 368h1M122 368h1M124 368h1M129 368h1M143 368h1M56 369h1M59 369h1M92 369h1M101 369h2M110 369h1M112 369h1M128 369h3M62 370h1M96 370h1M98 370h1M103 370h1M110 370h1M113 370h2M116 370h2M123 370h1M127 370h1M130 370h1M132 370h1M135 370h1M63 371h1M90 371h1M92 371h1M95 371h1M108 371h1M119 371h1M63 372h1M89 372h1M95 372h1M103 372h2M123 372h5M66 373h1M86 373h3M99 373h1M106 373h1M108 373h1M116 373h1M69 374h1M85 374h1M88 374h2M101 374h1M104 374h1M129 374h1M138 374h1M80 375h1M84 375h1M90 375h1M92 375h1M99 375h1M105 375h1M107 375h2M115 375h1M119 375h1M122 375h2M130 375h1M135 375h1M86 376h1M91 376h1M97 376h1M102 376h1M107 376h1M115 376h3M119 376h1M122 376h1M124 376h1M129 376h1M81 377h1M90 377h1M108 377h1M120 377h1M83 378h1M88 378h1M90 378h3M95 378h1M100 378h1M111 378h1M115 378h2M120 378h1M132 378h1M134 378h1M136 378h1M139 378h1M80 379h1M88 379h2M91 379h1M95 379h1M102 379h1M112 379h1M117 379h1M122 379h1M127 379h1M129 379h1M139 379h1M80 380h1M83 380h1M85 380h1M87 380h1M91 380h1M98 380h1M122 380h1M126 380h1M129 380h1M67 381h1M88 381h1M104 381h1M121 381h1M125 381h1M115 382h1M130 382h1M133 382h1M77 383h1M88 383h1M99 383h1M117 383h1M83 384h1M103 384h1M111 384h1M124 384h1M128 384h1M83 385h1M111 385h1M129 385h1" stroke="#555"/>
<path d="M134 264h1M138 264h1M129 265h1M122 270h1M132 271h1M112 272h1M134 272h2M113 273h1M135 273h1M116 274h1M144 274h1M108 275h1M114 276h2M137 276h1M115 277h1M129 277h1M136 277h1M108 278h1M124 278h1M132 278h2M107 279h1M112 279h1M123 279h1M145 279h1M59 280h1M111 280h1M113 280h1M119 280h1M124 280h1M85 281h1M97 282h1M100 282h2M105 282h1M118 282h1M87 283h1M110 283h1M64 284h1M95 284h1M101 284h1M109 284h1M96 285h1M109 285h1M89 286h1M95 286h1M102 286h1M110 286h1M88 287h1M90 287h1M94 287h1M96 287h1M99 287h1M80 288h1M99 288h1M104 288h1M106 288h1M108 288h1M80 289h1M83 289h1M87 289h1M76 290h1M84 290h1M63 291h1M72 291h1M85 291h1M88 291h1M92 291h1M65 292h1M67 292h1M75 292h2M90 292h1M93 292h1M64 293h1M83 294h2M86 294h1M56 295h1M82 295h1M69 296h1M78 297h1M59 298h1M62 298h1M58 299h1M74 300h1M58 301h1M59 302h1M73 303h1M67 304h1M73 304h1M63 305h1M64 306h1M72 306h1M59 307h1M64 307h2M72 308h1M142 308h1M60 309h1M59 310h1M74 310h1M139 310h1M141 310h1M58 311h1M74 311h1M140 311h1M136 312h1M57 313h1M65 313h1M72 313h1M137 313h1M132 315h2M61 316h1M73 316h1M132 316h1M138 316h1M56 317h1M63 317h1M67 317h1M141 317h1M70 318h1M69 319h1M121 319h1M124 319h1M66 320h1M118 320h1M121 320h1M129 320h1M133 320h1M133 321h1M118 324h1M116 325h1M129 325h1M60 326h1M125 326h1M59 327h1M116 327h2M57 328h1M58 329h1M124 329h1M130 331h1M124 332h1M131 333h1M139 333h1M123 334h1M133 334h1M120 336h1M124 336h1M131 337h1M134 338h1M118 339h2M128 339h1M116 340h1M123 341h1M130 341h1M117 343h1M123 343h1M130 343h1M122 344h1M143 344h1M117 345h1M127 345h1M114 346h1M116 346h1M133 346h1M115 347h1M129 347h1M142 347h1M114 348h1M117 348h1M133 348h1M112 349h1M114 349h1M117 349h3M128 349h1M133 349h1M110 350h1M121 350h1M111 351h1M113 351h2M125 351h1M139 351h1M142 351h1M107 352h1M122 352h1M132 352h1M106 353h1M109 353h1M120 353h1M122 353h1M124 353h1M128 353h1M141 353h1M107 354h1M134 354h2M103 355h1M107 355h1M119 355h1M125 355h1M128 355h1M119 356h1M122 356h2M127 356h1M109 357h1M112 357h1M117 357h1M132 357h1M105 358h1M113 358h1M128 358h1M133 358h1M100 359h1M108 359h1M113 359h1M124 359h1M128 359h1M129 360h1M145 360h1M108 361h1M113 361h1M124 361h1M119 362h1M129 362h1M135 362h1M139 362h1M99 363h1M106 363h1M113 363h1M124 363h1M127 364h1M96 365h1M103 365h1M129 365h1M133 365h1M58 366h1M107 366h1M118 366h1M121 366h1M124 366h1M96 367h1M100 367h1M102 367h2M95 368h1M99 368h2M103 368h1M107 368h1M116 368h2M121 368h1M125 368h1M60 369h1M93 369h1M113 369h2M123 369h1M91 370h2M94 370h1M100 370h1M120 370h1M91 371h1M118 371h1M120 371h1M122 371h1M126 371h1M128 371h1M130 371h1M140 371h1M62 372h1M64 372h1M92 372h1M94 372h1M101 372h1M117 372h1M136 372h1M64 373h1M90 373h1M92 373h1M101 373h1M115 373h1M117 373h1M119 373h1M131 373h1M59 374h1M68 374h1M84 374h1M96 374h1M105 374h1M88 375h1M97 375h1M101 375h1M114 375h1M139 375h1M79 376h1M81 376h1M83 376h1M92 376h1M80 377h1M97 377h1M103 377h1M81 378h1M102 378h1M90 379h1M93 379h1M118 379h1M88 380h1M86 381h1M106 381h1M136 381h1M85 382h1M94 383h1M82 384h1M136 385h1" stroke="#999"/>
<path d="M145 259h1M108 273h1M117 273h1M142 273h1M110 277h1M120 277h1M126 277h1M137 277h1M140 277h1M119 279h1M103 280h1M102 281h1M105 281h1M108 282h1M90 283h1M108 283h1M112 283h1M93 284h1M96 284h1M108 284h1M80 285h1M89 285h1M102 285h1M111 286h1M97 287h1M91 288h1M96 289h1M82 292h1M58 296h1M74 296h1M73 297h1M73 302h1M60 305h1M62 305h1M68 305h1M62 309h1M143 309h1M63 311h1M61 313h1M65 315h1M62 316h1M57 318h1M122 318h1M63 321h1M115 321h1M122 321h1M131 321h1M129 323h1M63 324h1M58 327h1M119 328h1M121 328h1M57 330h1M131 331h1M56 333h1M129 334h1M128 337h2M117 338h1M120 340h1M126 340h1M119 341h1M133 343h1M130 345h1M132 345h1M115 346h1M113 347h1M121 347h1M126 347h1M125 349h1M113 350h1M139 350h1M109 351h1M123 351h1M108 352h1M113 352h1M118 352h1M125 353h1M135 353h1M139 353h1M104 354h1M109 354h1M141 354h1M123 355h1M139 355h1M124 356h1M106 357h1M135 357h1M107 360h1M116 362h2M147 362h1M104 363h1M107 363h1M115 363h1M101 364h1M103 364h1M112 365h1M110 366h1M56 367h1M126 367h1M98 368h1M108 368h1M61 370h1M99 370h1M97 371h1M121 371h1M144 371h1M56 373h1M59 373h1M62 373h1M91 373h1M97 373h1M86 375h1M98 375h1M127 375h1M137 375h1M93 376h1M105 376h1M112 376h1M84 378h1M97 378h1M129 378h1M68 379h1M92 379h1M100 379h1M104 379h1M101 380h1M104 380h2M108 381h1M144 381h1M63 382h1M92 382h1M72 383h1M124 383h1M102 384h1" stroke="#d0d0d0"/>
</g>
<g clip-path="url(#cp3)" fill="none" stroke="#111" stroke-width="0.95">
<path d="M77.1,375.7 76.6,375.7 76.2,375.7 75.8,375.7 75.3,375.7 74.8,375.6 74.3,375.6 73.8,375.5 73.4,375.4 73.1,375.4 72.6,375.3 72.1,375.2 71.8,375.2 71.3,375.0 71.0,374.9 70.6,374.8 70.2,374.7 69.8,374.6 69.5,374.4 69.1,374.3 68.8,374.2 68.3,374.0 68.1,373.9 67.6,373.7 67.3,373.6 67.1,373.4 66.6,373.2 66.3,373.1 66.1,372.9 65.7,372.7 65.3,372.5 65.1,372.3 64.8,372.2 64.5,371.9 64.1,371.7 63.9,371.5 63.6,371.3 63.4,371.1 63.1,370.9 62.8,370.7 62.5,370.4 62.2,370.2 61.9,369.9 61.6,369.7 61.4,369.4 61.1,369.2 60.9,369.0 60.6,368.7 60.4,368.4 60.1,368.2 59.9,367.9 59.7,367.7 59.4,367.4 59.2,367.2 59.0,366.9 58.8,366.7 58.6,366.4 58.4,366.1 58.1,365.7 57.9,365.4 57.7,365.2 57.5,364.9 57.4,364.7 57.1,364.3 56.9,363.9 56.7,363.7 56.6,363.4 56.4,363.0 56.2,362.7 56.0,362.4 55.9,362.1 55.7,361.7 55.5,361.4 55.4,361.0 55.2,360.7 55.1,360.4 54.9,359.9 54.8,359.7 54.6,359.3 54.5,358.9 54.4,358.6 54.2,358.2 54.1,357.9 54.0,357.4 53.9,357.1 53.7,356.7 53.6,356.2 53.5,355.9 53.4,355.4 53.4,355.1 53.3,354.7 53.2,354.2 53.1,353.9 53.0,353.4 52.9,352.9 52.9,352.4 52.8,352.2 52.8,351.7 52.7,351.2 52.7,350.7 52.7,350.2 52.6,349.7 52.6,349.2 52.6,348.7 52.6,348.2 52.6,347.7 52.6,347.2 52.7,346.7 52.7,346.2 52.7,345.7 52.8,345.2 52.9,344.8 52.9,344.4 53.0,343.9 53.0,343.4 53.1,343.2 53.2,342.7 53.3,342.2 53.4,341.9 53.5,341.4 53.6,340.9 53.7,340.7 53.8,340.2 53.9,339.9 54.0,339.4 54.1,339.2 54.3,338.7 54.4,338.4 54.5,337.9 54.6,337.7 54.8,337.2 54.9,336.9 55.1,336.6 55.3,336.2 55.4,335.9 55.6,335.5 55.8,335.2 55.9,334.9 56.1,334.5 56.3,334.2 56.4,333.9 56.6,333.7 56.9,333.2 57.0,332.9 57.2,332.7 57.4,332.4 57.6,332.1 57.9,331.7 58.0,331.4 58.2,331.2 58.4,330.9 58.6,330.7 58.9,330.4 59.1,330.0 59.4,329.7 59.6,329.4 59.8,329.2 60.0,328.9 60.3,328.7 60.5,328.4 60.7,328.2 61.0,327.9 61.2,327.7 61.5,327.4 61.7,327.2 62.0,326.9 62.3,326.7 62.5,326.4 62.8,326.2 63.1,326.0 63.4,325.8 63.6,325.6 63.9,325.3 64.1,325.1 64.4,324.9 64.7,324.7 65.0,324.4 65.3,324.2 65.6,324.0 65.8,323.8 66.1,323.7 66.4,323.4 66.7,323.2 67.1,323.0 67.3,322.8 67.6,322.6 67.8,322.4 68.2,322.2 68.6,321.9 68.8,321.8 69.1,321.6 69.3,321.4 69.7,321.2 70.0,320.9 70.3,320.7 70.6,320.5 70.8,320.3 71.1,320.1 71.3,319.9 71.6,319.7 71.9,319.4 72.2,319.2 72.4,318.9 72.7,318.7 72.9,318.4 73.1,318.2 73.3,317.9 73.6,317.5 73.8,317.2 73.9,316.9 74.1,316.5 74.2,316.2 74.3,315.8 74.4,315.4 74.5,314.9 74.6,314.6 74.7,314.2 74.7,313.7 74.7,313.2 74.7,312.7 74.7,312.2 74.7,311.7 74.6,311.2 74.6,310.7 74.6,310.4 74.5,309.9 74.5,309.4 74.4,308.9 74.4,308.4 74.3,308.2 74.3,307.7 74.2,307.2 74.2,306.7 74.2,306.2 74.2,305.7 74.2,305.2 74.3,304.7 74.3,304.2 74.4,303.9 74.5,303.4 74.6,302.9 74.7,302.7 74.8,302.2 74.9,301.9 75.1,301.6 75.3,301.2 75.4,300.9 75.6,300.7 75.8,300.3 76.1,299.9 76.3,299.7 76.5,299.4 76.7,299.2 76.9,298.9 77.2,298.7 77.4,298.4 77.7,298.2 78.0,297.9 78.3,297.7 78.6,297.5 78.8,297.3 79.1,297.2 79.5,296.9 79.8,296.7 80.1,296.6 80.4,296.4 80.8,296.2 81.1,296.1 81.5,295.9 81.8,295.8 82.1,295.7 82.6,295.5 82.8,295.4 83.3,295.3 83.7,295.2 84.1,295.1 84.6,295.0 84.8,294.9 85.3,294.8 85.8,294.8 86.3,294.7 86.6,294.7 87.1,294.6 87.6,294.6 88.1,294.5 88.6,294.5 89.1,294.5 89.6,294.5 90.1,294.5 90.6,294.5 91.1,294.5 91.6,294.5 92.1,294.5 92.6,294.5 93.1,294.5 93.6,294.5 94.1,294.5 94.4,294.4 94.8,294.4 95.3,294.4 95.8,294.4 96.3,294.3 96.8,294.2 97.1,294.2 97.6,294.1 98.1,294.0 98.3,293.9 98.8,293.8 99.1,293.7 99.6,293.5 99.8,293.4 100.3,293.2 100.6,293.1 100.9,292.9 101.3,292.8 101.6,292.6 102.0,292.4 102.3,292.3 102.6,292.1 102.9,291.9 103.3,291.7 103.6,291.6 103.9,291.4 104.3,291.2 104.6,291.0 104.8,290.9 105.1,290.7 105.6,290.4 105.8,290.3 106.1,290.1 106.4,289.9 106.8,289.7 107.1,289.5 107.3,289.4 107.6,289.2 108.0,288.9 108.3,288.7 108.6,288.6 108.8,288.4 109.2,288.2 109.6,288.0 109.8,287.8 110.1,287.7 110.5,287.4 110.8,287.2 111.1,287.1 111.3,286.9 111.7,286.7 112.1,286.5 112.3,286.3 112.6,286.2 113.0,285.9 113.3,285.7 113.6,285.6 113.9,285.4 114.3,285.2 114.6,285.1 114.8,284.9 115.3,284.7 115.6,284.5 115.8,284.4 116.3,284.2 116.6,284.0 116.8,283.9 117.3,283.7 117.6,283.6 117.8,283.4 118.3,283.2 118.6,283.1 119.0,282.9 119.3,282.8 119.6,282.7 120.1,282.5 120.3,282.4 120.8,282.2 121.1,282.2 121.6,282.0 121.8,281.9 122.3,281.7 122.6,281.7 123.1,281.5 123.3,281.4 123.8,281.3 124.2,281.2 124.6,281.1 125.1,280.9 125.3,280.9 125.8,280.7 126.1,280.7 126.6,280.5 126.9,280.4 127.3,280.3 127.8,280.2 128.1,280.1 128.6,280.0 128.8,279.9 129.3,279.7 129.6,279.7 130.1,279.5 130.3,279.4 130.8,279.3 131.1,279.2 131.6,279.1 132.0,278.9 132.3,278.8 132.8,278.7 133.1,278.6 133.6,278.5 133.8,278.4 134.3,278.3 134.8,278.2 135.1,278.2 135.6,278.1 136.1,278.0 136.6,277.9 136.8,277.9 137.3,277.9 137.8,277.9 138.3,277.9 138.8,277.9 139.3,277.9 139.6,277.9 140.1,278.0 140.6,278.1 140.9,278.2 141.3,278.3 141.7,278.4 142.1,278.6 142.3,278.7 142.8,278.9 143.1,279.1 143.3,279.3 143.6,279.5 143.9,279.7 144.2,279.9 144.5,280.2 144.7,280.4 144.9,280.7 145.2,280.9 145.3,281.2 145.6,281.6 145.8,281.9 146.0,282.2 146.1,282.4 146.3,282.9 146.5,283.2 146.6,283.5 146.7,283.9 146.8,284.3 147.0,284.7 147.1,285.2 147.1,285.4 147.2,285.9 147.3,286.4 147.3,286.7 147.4,287.2 147.4,287.7 147.5,288.2 147.5,288.7 147.5,289.2 147.5,289.7 147.4,290.2 147.4,290.7 147.3,291.1 147.3,291.4 147.3,291.9 147.2,292.4 147.1,292.9 147.1,293.2 147.0,293.7 146.9,294.2 146.8,294.4 146.7,294.9 146.6,295.4 146.5,295.7 146.4,296.2 146.3,296.4 146.2,296.9 146.1,297.2 146.0,297.7 145.8,298.0 145.7,298.4 145.6,298.7 145.4,299.2 145.3,299.4 145.1,299.9 145.0,300.2 144.8,300.7 144.7,300.9 144.6,301.2 144.4,301.7 144.3,301.9 144.1,302.3 143.9,302.7 143.8,302.9 143.6,303.2 143.4,303.7 143.2,303.9 143.1,304.2 142.8,304.6 142.6,304.9 142.4,305.2 142.3,305.4 142.1,305.7 141.8,306.1 141.6,306.4 141.4,306.7 141.2,306.9 141.0,307.2 140.8,307.4 140.6,307.7 140.3,308.0 140.1,308.3 139.8,308.6 139.6,308.9 139.3,309.2 139.1,309.4 138.8,309.7 138.6,309.9 138.3,310.2 138.1,310.4 137.8,310.7 137.6,310.9 137.3,311.1 137.1,311.3 136.8,311.5 136.6,311.8 136.3,312.0 136.0,312.2 135.7,312.4 135.4,312.7 135.1,312.9 134.8,313.1 134.6,313.3 134.3,313.4 133.9,313.7 133.6,313.9 133.3,314.1 133.1,314.2 132.7,314.4 132.3,314.7 132.1,314.8 131.8,314.9 131.4,315.2 131.1,315.3 130.8,315.5 130.3,315.7 130.1,315.8 129.8,315.9 129.3,316.2 129.1,316.3 128.6,316.4 128.3,316.6 128.0,316.7 127.6,316.9 127.3,316.9 126.8,317.1 126.6,317.2 126.1,317.4 125.8,317.5 125.3,317.6 125.1,317.7 124.6,317.8 124.2,317.9 123.8,318.1 123.3,318.2 123.1,318.3 122.6,318.4 122.3,318.4 121.8,318.6 121.3,318.7 121.1,318.8 120.6,318.9 120.3,318.9 119.8,319.1 119.3,319.2 119.1,319.3 118.6,319.4 118.3,319.5 117.8,319.6 117.6,319.7 117.1,319.9 116.8,320.0 116.3,320.1 116.1,320.3 115.7,320.4 115.3,320.6 115.1,320.8 114.8,320.9 114.5,321.2 114.2,321.4 113.9,321.7 113.7,321.9 113.5,322.2 113.3,322.4 113.1,322.9 113.0,323.2 112.9,323.7 112.9,324.2 113.0,324.7 113.1,325.2 113.2,325.4 113.3,325.7 113.6,326.1 113.8,326.4 114.1,326.6 114.3,326.8 114.6,327.0 114.9,327.2 115.3,327.4 115.6,327.5 116.0,327.7 116.3,327.8 116.8,327.9 117.1,328.0 117.6,328.1 117.9,328.2 118.3,328.3 118.8,328.4 119.2,328.4 119.6,328.5 120.1,328.7 120.3,328.7 120.8,328.9 121.1,328.9 121.6,329.1 121.8,329.2 122.3,329.4 122.6,329.6 122.8,329.8 123.1,329.9 123.4,330.2 123.7,330.4 123.8,330.7 124.1,331.1 124.2,331.4 124.3,331.9 124.2,332.4 124.1,332.8 123.9,333.2 123.7,333.4 123.5,333.7 123.3,333.9 123.0,334.2 122.6,334.4 122.3,334.6 122.1,334.7 121.7,334.9 121.3,335.1 121.1,335.2 120.6,335.4 120.3,335.6 120.1,335.7 119.6,335.9 119.3,336.1 119.1,336.2 118.7,336.4 118.4,336.7 118.1,336.9 117.8,337.2 117.6,337.4 117.4,337.7 117.2,337.9 117.1,338.2 116.8,338.6 116.7,338.9 116.6,339.2 116.4,339.7 116.3,339.9 116.2,340.4 116.1,340.7 115.9,341.2 115.8,341.5 115.7,341.9 115.6,342.3 115.5,342.7 115.3,343.1 115.2,343.4 115.1,343.7 114.9,344.2 114.8,344.4 114.6,344.9 114.5,345.2 114.3,345.4 114.1,345.9 113.9,346.2 113.8,346.4 113.6,346.8 113.3,347.1 113.1,347.4 113.0,347.7 112.8,347.9 112.6,348.2 112.3,348.5 112.1,348.8 111.8,349.1 111.6,349.3 111.3,349.6 111.1,349.8 110.8,350.1 110.6,350.3 110.3,350.5 110.1,350.7 109.8,350.9 109.4,351.2 109.1,351.4 108.8,351.6 108.6,351.7 108.3,351.9 107.8,352.2 107.6,352.3 107.3,352.5 106.9,352.7 106.6,352.9 106.3,353.0 106.0,353.2 105.6,353.4 105.3,353.6 105.1,353.7 104.7,353.9 104.3,354.2 104.1,354.4 103.8,354.5 103.6,354.7 103.3,355.0 103.1,355.2 102.8,355.4 102.6,355.7 102.3,356.0 102.1,356.2 101.8,356.6 101.6,356.9 101.4,357.2 101.2,357.4 101.0,357.7 100.8,357.9 100.6,358.3 100.4,358.7 100.2,358.9 100.0,359.2 99.8,359.5 99.6,359.9 99.4,360.2 99.3,360.4 99.1,360.7 98.8,361.1 98.6,361.4 98.5,361.7 98.3,361.9 98.1,362.3 97.8,362.7 97.7,362.9 97.5,363.2 97.3,363.4 97.1,363.8 96.8,364.1 96.6,364.4 96.4,364.7 96.2,364.9 96.0,365.2 95.8,365.4 95.6,365.8 95.3,366.1 95.1,366.4 94.8,366.7 94.6,366.9 94.4,367.2 94.2,367.4 93.9,367.7 93.7,367.9 93.4,368.2 93.2,368.4 92.9,368.7 92.7,368.9 92.4,369.2 92.1,369.4 91.8,369.7 91.6,369.9 91.3,370.1 91.1,370.3 90.8,370.5 90.6,370.7 90.3,370.9 90.0,371.2 89.6,371.4 89.3,371.6 89.1,371.8 88.8,372.0 88.5,372.2 88.1,372.4 87.8,372.6 87.6,372.7 87.2,372.9 86.8,373.1 86.6,373.3 86.2,373.4 85.8,373.6 85.6,373.7 85.1,373.9 84.8,374.1 84.5,374.2 84.1,374.4 83.8,374.5 83.3,374.6 83.1,374.7 82.6,374.9 82.3,374.9 81.8,375.1 81.3,375.2 81.1,375.2 80.6,375.3 80.1,375.4 79.8,375.5 79.3,375.5 78.8,375.6 78.3,375.6 77.8,375.7 77.3,375.7 77.1,375.7Z"/>
<path d="M77.8,373.2 77.3,373.2 76.8,373.3 76.3,373.3 75.8,373.3 75.3,373.2 74.8,373.2 74.6,373.2 74.1,373.1 73.6,373.1 73.1,373.0 72.8,372.9 72.3,372.8 71.8,372.7 71.6,372.6 71.1,372.5 70.8,372.4 70.3,372.3 70.1,372.2 69.6,372.0 69.3,371.9 68.8,371.7 68.6,371.6 68.3,371.4 67.8,371.3 67.6,371.1 67.3,370.9 66.8,370.7 66.6,370.6 66.3,370.4 66.0,370.2 65.6,370.0 65.3,369.8 65.1,369.6 64.8,369.4 64.5,369.2 64.2,368.9 63.9,368.7 63.6,368.5 63.4,368.3 63.1,368.1 62.9,367.8 62.6,367.6 62.4,367.4 62.1,367.1 61.9,366.9 61.6,366.6 61.4,366.3 61.1,366.0 60.9,365.8 60.6,365.5 60.4,365.2 60.2,364.9 60.0,364.7 59.8,364.4 59.6,364.2 59.4,363.8 59.1,363.4 58.9,363.2 58.8,362.9 58.6,362.7 58.4,362.2 58.2,361.9 58.0,361.7 57.9,361.3 57.6,360.9 57.5,360.7 57.4,360.4 57.2,359.9 57.0,359.7 56.9,359.3 56.7,358.9 56.6,358.6 56.4,358.2 56.3,357.9 56.2,357.4 56.1,357.2 55.9,356.7 55.8,356.4 55.7,355.9 55.6,355.6 55.5,355.2 55.4,354.7 55.3,354.4 55.2,353.9 55.1,353.4 55.1,353.2 55.0,352.7 54.9,352.2 54.9,351.7 54.9,351.3 54.8,350.9 54.8,350.4 54.8,349.9 54.7,349.4 54.7,348.9 54.7,348.4 54.7,347.9 54.8,347.4 54.8,346.9 54.8,346.4 54.9,346.2 54.9,345.7 55.0,345.2 55.0,344.7 55.1,344.3 55.2,343.9 55.2,343.4 55.4,343.0 55.4,342.7 55.5,342.2 55.6,341.9 55.7,341.4 55.9,341.0 56.0,340.7 56.1,340.3 56.2,339.9 56.4,339.5 56.5,339.2 56.6,338.9 56.8,338.4 56.9,338.2 57.1,337.7 57.2,337.4 57.4,337.2 57.6,336.7 57.7,336.4 57.9,336.2 58.1,335.8 58.3,335.4 58.4,335.2 58.6,334.9 58.9,334.5 59.1,334.2 59.2,333.9 59.4,333.7 59.6,333.4 59.9,333.1 60.1,332.7 60.3,332.4 60.5,332.2 60.7,331.9 61.0,331.7 61.2,331.4 61.4,331.2 61.6,330.9 61.9,330.7 62.1,330.4 62.4,330.2 62.6,329.9 62.9,329.7 63.2,329.4 63.5,329.2 63.7,328.9 64.0,328.7 64.3,328.5 64.6,328.3 64.8,328.1 65.1,327.9 65.3,327.7 65.7,327.4 66.1,327.2 66.3,327.0 66.6,326.8 66.8,326.7 67.2,326.4 67.6,326.2 67.8,326.1 68.1,325.9 68.5,325.7 68.8,325.5 69.1,325.4 69.5,325.2 69.8,325.0 70.1,324.9 70.5,324.7 70.8,324.5 71.1,324.4 71.6,324.2 71.8,324.1 72.1,323.9 72.6,323.7 72.8,323.6 73.2,323.4 73.6,323.3 73.8,323.2 74.3,322.9 74.6,322.8 74.9,322.7 75.3,322.5 75.6,322.3 75.8,322.2 76.3,321.9 76.6,321.7 76.8,321.6 77.1,321.4 77.4,321.2 77.7,320.9 78.0,320.7 78.2,320.4 78.4,320.2 78.6,319.9 78.8,319.7 79.1,319.3 79.3,318.9 79.4,318.7 79.6,318.2 79.7,317.9 79.8,317.4 79.9,317.2 80.0,316.7 80.0,316.2 80.1,315.7 80.0,315.2 80.0,314.7 80.0,314.2 79.9,313.7 79.8,313.4 79.7,312.9 79.6,312.6 79.5,312.2 79.3,311.8 79.2,311.4 79.1,311.2 78.9,310.7 78.8,310.4 78.6,310.0 78.5,309.7 78.3,309.4 78.1,308.9 78.0,308.7 77.8,308.2 77.7,307.9 77.6,307.5 77.5,307.2 77.3,306.7 77.3,306.4 77.2,305.9 77.1,305.4 77.1,305.2 77.1,304.7 77.1,304.2 77.1,303.9 77.2,303.4 77.3,302.9 77.3,302.7 77.5,302.2 77.6,301.9 77.8,301.5 78.0,301.2 78.1,300.9 78.3,300.7 78.6,300.3 78.8,300.0 79.1,299.8 79.3,299.5 79.6,299.3 79.8,299.1 80.1,298.9 80.3,298.7 80.7,298.4 81.1,298.2 81.3,298.1 81.6,297.9 82.1,297.7 82.3,297.6 82.6,297.4 83.1,297.3 83.3,297.2 83.8,297.0 84.1,296.9 84.6,296.8 85.0,296.7 85.3,296.6 85.8,296.5 86.3,296.5 86.6,296.4 87.1,296.4 87.6,296.3 88.1,296.3 88.6,296.3 89.1,296.3 89.6,296.3 90.1,296.3 90.6,296.3 91.1,296.3 91.6,296.4 92.1,296.4 92.6,296.4 92.9,296.4 93.3,296.5 93.8,296.5 94.3,296.6 94.8,296.6 95.3,296.6 95.8,296.6 96.3,296.6 96.8,296.6 97.3,296.5 97.8,296.4 98.1,296.4 98.6,296.3 98.9,296.2 99.3,296.1 99.7,295.9 100.1,295.8 100.3,295.7 100.8,295.5 101.1,295.3 101.4,295.2 101.8,295.0 102.1,294.8 102.3,294.7 102.8,294.4 103.1,294.3 103.3,294.1 103.6,293.9 104.0,293.7 104.3,293.5 104.6,293.3 104.8,293.2 105.2,292.9 105.5,292.7 105.8,292.5 106.1,292.3 106.3,292.2 106.7,291.9 107.1,291.7 107.3,291.5 107.6,291.3 107.8,291.2 108.2,290.9 108.5,290.7 108.8,290.5 109.1,290.3 109.3,290.2 109.7,289.9 110.1,289.7 110.3,289.5 110.6,289.3 110.8,289.2 111.2,288.9 111.6,288.7 111.8,288.5 112.1,288.4 112.4,288.2 112.8,287.9 113.1,287.8 113.3,287.6 113.6,287.4 114.1,287.2 114.3,287.0 114.6,286.9 114.9,286.7 115.3,286.5 115.6,286.3 115.9,286.2 116.3,285.9 116.6,285.8 116.8,285.7 117.3,285.4 117.6,285.3 117.9,285.2 118.3,285.0 118.6,284.9 119.0,284.7 119.3,284.5 119.6,284.4 120.1,284.2 120.3,284.1 120.8,283.9 121.1,283.8 121.5,283.7 121.8,283.6 122.2,283.4 122.6,283.3 123.0,283.2 123.3,283.1 123.7,282.9 124.1,282.8 124.5,282.7 124.8,282.6 125.3,282.4 125.6,282.3 126.0,282.2 126.3,282.1 126.8,281.9 127.1,281.8 127.5,281.7 127.8,281.6 128.2,281.4 128.6,281.3 128.9,281.2 129.3,281.0 129.6,280.9 130.1,280.8 130.3,280.7 130.8,280.5 131.1,280.4 131.6,280.2 131.8,280.1 132.3,280.0 132.6,279.9 133.1,279.7 133.3,279.7 133.8,279.5 134.1,279.4 134.6,279.3 135.1,279.2 135.3,279.2 135.8,279.1 136.3,279.0 136.8,279.0 137.1,278.9 137.6,278.9 138.1,278.9 138.6,278.9 138.9,278.9 139.3,279.0 139.8,279.1 140.3,279.2 140.6,279.3 141.1,279.4 141.3,279.5 141.8,279.7 142.1,279.9 142.3,280.0 142.7,280.2 143.0,280.4 143.3,280.7 143.6,280.9 143.8,281.2 144.1,281.4 144.3,281.7 144.5,281.9 144.7,282.2 144.9,282.4 145.1,282.9 145.3,283.2 145.4,283.4 145.6,283.9 145.7,284.2 145.8,284.6 146.0,284.9 146.1,285.4 146.2,285.7 146.3,286.2 146.3,286.7 146.4,286.9 146.4,287.4 146.4,287.9 146.5,288.4 146.5,288.9 146.5,289.4 146.4,289.9 146.4,290.4 146.4,290.9 146.3,291.2 146.3,291.7 146.2,292.2 146.1,292.7 146.1,292.9 146.0,293.4 145.8,293.9 145.8,294.2 145.7,294.7 145.6,294.9 145.4,295.4 145.3,295.8 145.2,296.2 145.1,296.6 145.0,296.9 144.8,297.3 144.7,297.7 144.6,298.0 144.4,298.4 144.3,298.7 144.1,299.2 144.0,299.4 143.8,299.8 143.7,300.2 143.5,300.4 143.3,300.8 143.2,301.2 143.0,301.4 142.8,301.8 142.6,302.2 142.5,302.4 142.3,302.7 142.1,303.1 141.9,303.4 141.7,303.7 141.6,303.9 141.3,304.3 141.1,304.7 140.9,304.9 140.7,305.2 140.5,305.4 140.3,305.7 140.1,306.0 139.8,306.3 139.6,306.7 139.3,306.9 139.1,307.2 138.9,307.4 138.7,307.7 138.5,307.9 138.2,308.2 138.0,308.4 137.7,308.7 137.5,308.9 137.2,309.2 136.9,309.4 136.7,309.7 136.4,309.9 136.1,310.2 135.8,310.4 135.6,310.6 135.3,310.8 135.1,311.0 134.8,311.2 134.5,311.4 134.2,311.7 133.8,311.9 133.6,312.1 133.3,312.2 133.0,312.4 132.6,312.7 132.3,312.9 132.1,313.0 131.8,313.2 131.3,313.4 131.1,313.6 130.8,313.7 130.4,313.9 130.1,314.1 129.8,314.2 129.3,314.4 129.1,314.5 128.7,314.7 128.3,314.8 128.1,314.9 127.6,315.1 127.3,315.2 126.8,315.4 126.6,315.5 126.1,315.7 125.8,315.7 125.3,315.9 125.1,316.0 124.6,316.1 124.3,316.2 123.8,316.3 123.3,316.4 123.1,316.5 122.6,316.6 122.2,316.7 121.8,316.8 121.3,316.9 121.0,316.9 120.6,317.0 120.1,317.1 119.7,317.2 119.3,317.3 118.8,317.4 118.3,317.4 118.1,317.5 117.6,317.6 117.1,317.7 116.8,317.7 116.3,317.8 115.8,317.9 115.6,318.0 115.1,318.1 114.7,318.2 114.3,318.3 113.9,318.4 113.6,318.5 113.2,318.7 112.8,318.8 112.6,318.9 112.1,319.2 111.8,319.3 111.6,319.5 111.3,319.7 111.0,319.9 110.7,320.2 110.5,320.4 110.3,320.7 110.1,321.0 109.8,321.4 109.7,321.7 109.6,321.9 109.4,322.4 109.3,322.7 109.2,323.2 109.1,323.7 109.1,324.2 109.1,324.7 109.2,325.2 109.2,325.7 109.3,326.2 109.4,326.4 109.6,326.9 109.7,327.2 109.9,327.4 110.1,327.8 110.3,328.2 110.6,328.4 110.8,328.7 111.1,328.9 111.3,329.1 111.6,329.3 111.8,329.5 112.2,329.7 112.6,329.9 112.8,330.0 113.2,330.2 113.6,330.4 113.8,330.5 114.3,330.6 114.6,330.7 115.1,330.9 115.4,330.9 115.8,331.1 116.3,331.2 116.6,331.2 117.1,331.3 117.6,331.4 117.8,331.5 118.3,331.7 118.6,331.9 118.8,332.2 118.6,332.7 118.3,332.9 118.1,333.1 117.8,333.3 117.6,333.5 117.3,333.7 116.9,333.9 116.7,334.2 116.4,334.4 116.2,334.7 116.0,334.9 115.8,335.2 115.6,335.5 115.3,335.9 115.2,336.2 115.1,336.4 114.9,336.9 114.8,337.2 114.6,337.7 114.6,337.9 114.4,338.4 114.3,338.8 114.2,339.2 114.1,339.7 114.1,339.9 113.9,340.4 113.8,340.7 113.7,341.2 113.6,341.5 113.5,341.9 113.3,342.2 113.2,342.7 113.1,342.9 112.8,343.4 112.7,343.7 112.6,343.9 112.3,344.3 112.1,344.7 112.0,344.9 111.8,345.2 111.6,345.5 111.3,345.8 111.1,346.1 110.8,346.3 110.6,346.6 110.3,346.8 110.1,347.0 109.8,347.2 109.5,347.4 109.2,347.7 108.8,347.9 108.6,348.0 108.2,348.2 107.8,348.4 107.6,348.5 107.1,348.6 106.8,348.7 106.3,348.9 106.0,348.9 105.6,349.0 105.1,349.1 104.8,349.2 104.3,349.3 103.8,349.4 103.6,349.5 103.1,349.7 102.8,349.8 102.6,349.9 102.1,350.2 101.8,350.4 101.6,350.6 101.3,350.8 101.1,351.1 100.8,351.4 100.6,351.7 100.4,351.9 100.2,352.2 100.0,352.4 99.8,352.7 99.6,353.1 99.4,353.4 99.3,353.7 99.1,354.0 98.9,354.4 98.8,354.7 98.6,355.0 98.4,355.4 98.3,355.7 98.1,356.0 97.9,356.4 97.8,356.7 97.6,357.0 97.4,357.4 97.3,357.7 97.1,358.0 96.9,358.4 96.8,358.7 96.6,359.0 96.4,359.4 96.2,359.7 96.1,359.9 95.8,360.4 95.7,360.7 95.5,360.9 95.3,361.2 95.1,361.7 94.9,361.9 94.8,362.2 94.6,362.4 94.3,362.8 94.1,363.2 93.9,363.4 93.7,363.7 93.5,363.9 93.3,364.2 93.1,364.5 92.8,364.8 92.6,365.1 92.3,365.4 92.1,365.7 91.9,365.9 91.7,366.2 91.4,366.4 91.2,366.7 90.9,366.9 90.7,367.2 90.4,367.4 90.1,367.7 89.9,367.9 89.6,368.2 89.3,368.4 89.1,368.6 88.8,368.8 88.6,369.0 88.3,369.2 88.0,369.4 87.6,369.7 87.3,369.9 87.1,370.0 86.8,370.2 86.4,370.4 86.1,370.6 85.8,370.8 85.5,370.9 85.1,371.2 84.8,371.3 84.5,371.4 84.1,371.6 83.8,371.8 83.4,371.9 83.1,372.0 82.7,372.2 82.3,372.3 81.9,372.4 81.6,372.5 81.1,372.7 80.8,372.7 80.3,372.8 79.8,372.9 79.6,373.0 79.1,373.1 78.6,373.1 78.1,373.2 77.8,373.2Z"/>
<path d="M78.1,370.5 77.6,370.5 77.1,370.5 76.6,370.6 76.1,370.6 75.6,370.6 75.1,370.5 74.6,370.5 74.1,370.4 73.8,370.4 73.3,370.3 72.8,370.2 72.6,370.2 72.1,370.1 71.6,369.9 71.3,369.9 70.8,369.7 70.6,369.6 70.1,369.4 69.8,369.3 69.5,369.2 69.1,369.0 68.8,368.9 68.4,368.7 68.1,368.5 67.8,368.4 67.5,368.2 67.1,368.0 66.8,367.8 66.6,367.6 66.3,367.4 66.0,367.2 65.6,366.9 65.3,366.7 65.1,366.5 64.8,366.3 64.6,366.1 64.3,365.9 64.1,365.7 63.9,365.4 63.6,365.2 63.4,364.9 63.1,364.7 62.9,364.4 62.6,364.1 62.4,363.8 62.1,363.5 61.9,363.2 61.7,362.9 61.5,362.7 61.3,362.4 61.1,362.2 60.9,361.8 60.6,361.4 60.5,361.2 60.3,360.9 60.1,360.6 59.9,360.2 59.8,359.9 59.6,359.6 59.4,359.2 59.3,358.9 59.1,358.6 58.9,358.2 58.8,357.9 58.6,357.4 58.5,357.2 58.4,356.7 58.3,356.4 58.1,355.9 58.0,355.7 57.9,355.2 57.8,354.9 57.7,354.4 57.6,354.0 57.5,353.7 57.4,353.2 57.4,352.7 57.3,352.4 57.3,351.9 57.2,351.4 57.1,350.9 57.1,350.4 57.1,350.2 57.1,349.7 57.1,349.2 57.1,348.7 57.1,348.2 57.1,347.7 57.1,347.4 57.1,346.9 57.2,346.4 57.2,345.9 57.3,345.4 57.4,345.2 57.4,344.7 57.5,344.2 57.6,343.9 57.7,343.4 57.8,342.9 57.9,342.7 58.0,342.2 58.1,341.9 58.3,341.4 58.4,341.2 58.5,340.7 58.6,340.4 58.8,339.9 58.9,339.7 59.1,339.4 59.3,338.9 59.4,338.7 59.6,338.3 59.8,337.9 59.9,337.7 60.1,337.4 60.4,337.0 60.5,336.7 60.7,336.4 60.9,336.2 61.1,335.8 61.4,335.5 61.6,335.2 61.8,334.9 62.0,334.7 62.2,334.4 62.4,334.2 62.6,333.9 62.9,333.7 63.1,333.4 63.4,333.1 63.6,332.9 63.9,332.6 64.1,332.4 64.3,332.2 64.6,331.9 64.9,331.7 65.2,331.4 65.5,331.2 65.8,331.0 66.1,330.8 66.3,330.6 66.6,330.4 67.0,330.2 67.3,330.0 67.6,329.8 67.8,329.7 68.2,329.4 68.6,329.2 68.8,329.1 69.2,328.9 69.6,328.8 69.8,328.6 70.3,328.4 70.6,328.3 70.9,328.2 71.3,328.0 71.6,327.9 72.1,327.8 72.3,327.7 72.8,327.5 73.1,327.4 73.6,327.3 74.0,327.2 74.3,327.1 74.8,327.0 75.1,326.9 75.6,326.8 76.0,326.7 76.3,326.6 76.8,326.5 77.2,326.4 77.6,326.4 78.1,326.2 78.3,326.2 78.8,326.1 79.2,325.9 79.6,325.8 80.0,325.7 80.3,325.6 80.7,325.4 81.1,325.3 81.3,325.2 81.8,324.9 82.1,324.8 82.3,324.6 82.6,324.4 82.9,324.2 83.2,323.9 83.4,323.7 83.7,323.4 83.9,323.2 84.1,322.9 84.3,322.5 84.6,322.2 84.7,321.9 84.8,321.7 85.1,321.2 85.2,320.9 85.3,320.5 85.5,320.2 85.6,319.7 85.7,319.4 85.8,318.9 85.9,318.7 86.0,318.2 86.1,317.7 86.1,317.3 86.1,316.9 86.2,316.4 86.2,315.9 86.2,315.4 86.2,314.9 86.1,314.4 86.1,314.2 86.0,313.7 85.9,313.2 85.8,312.9 85.6,312.6 85.4,312.2 85.2,311.9 85.1,311.7 84.8,311.4 84.6,311.1 84.3,310.8 84.1,310.5 83.8,310.3 83.6,310.0 83.3,309.7 83.1,309.5 82.8,309.2 82.6,309.0 82.3,308.7 82.1,308.4 81.9,308.2 81.7,307.9 81.5,307.7 81.3,307.4 81.1,307.1 80.8,306.7 80.7,306.4 80.6,306.2 80.4,305.7 80.3,305.4 80.2,304.9 80.1,304.5 80.1,304.2 80.1,303.7 80.1,303.4 80.2,302.9 80.3,302.5 80.5,302.2 80.6,301.9 80.8,301.5 81.1,301.2 81.3,300.9 81.5,300.7 81.8,300.4 82.1,300.2 82.3,300.0 82.6,299.8 82.8,299.7 83.2,299.4 83.6,299.3 83.8,299.2 84.3,298.9 84.6,298.9 85.1,298.7 85.3,298.6 85.8,298.5 86.1,298.4 86.6,298.4 87.1,298.3 87.6,298.3 88.1,298.2 88.6,298.2 89.1,298.2 89.6,298.2 90.1,298.3 90.6,298.3 91.1,298.4 91.6,298.4 91.8,298.5 92.3,298.6 92.8,298.7 93.1,298.7 93.6,298.8 94.1,298.9 94.3,299.0 94.8,299.1 95.3,299.2 95.6,299.2 96.1,299.3 96.6,299.3 97.1,299.4 97.6,299.4 98.1,299.3 98.6,299.3 99.1,299.2 99.3,299.1 99.8,299.0 100.1,298.9 100.6,298.7 100.8,298.6 101.1,298.4 101.6,298.2 101.8,298.1 102.1,297.9 102.4,297.7 102.8,297.4 103.1,297.3 103.3,297.1 103.6,296.9 103.9,296.7 104.2,296.4 104.6,296.2 104.8,296.0 105.1,295.8 105.3,295.6 105.6,295.4 105.9,295.2 106.2,294.9 106.5,294.7 106.8,294.5 107.1,294.3 107.3,294.1 107.6,293.9 107.8,293.7 108.2,293.4 108.5,293.2 108.8,292.9 109.1,292.8 109.3,292.6 109.6,292.4 109.9,292.2 110.2,291.9 110.5,291.7 110.8,291.5 111.1,291.3 111.3,291.1 111.6,290.9 112.0,290.7 112.3,290.4 112.6,290.3 112.8,290.1 113.1,289.9 113.5,289.7 113.8,289.5 114.1,289.3 114.3,289.1 114.7,288.9 115.1,288.7 115.3,288.5 115.6,288.4 115.9,288.2 116.3,288.0 116.6,287.8 116.9,287.7 117.3,287.4 117.6,287.3 117.8,287.2 118.3,286.9 118.6,286.8 118.8,286.7 119.3,286.5 119.6,286.4 120.0,286.2 120.3,286.0 120.6,285.9 121.1,285.7 121.3,285.6 121.8,285.4 122.1,285.3 122.4,285.2 122.8,285.0 123.1,284.9 123.6,284.8 123.8,284.7 124.3,284.5 124.6,284.4 125.0,284.2 125.3,284.1 125.7,283.9 126.1,283.8 126.3,283.7 126.8,283.5 127.1,283.4 127.4,283.2 127.8,283.0 128.1,282.9 128.6,282.7 128.8,282.6 129.2,282.4 129.6,282.3 129.8,282.1 130.3,281.9 130.6,281.8 130.9,281.7 131.3,281.5 131.6,281.4 132.1,281.2 132.3,281.1 132.8,281.0 133.1,280.9 133.6,280.7 133.8,280.6 134.3,280.5 134.6,280.4 135.1,280.3 135.6,280.2 135.8,280.2 136.3,280.1 136.8,280.1 137.3,280.0 137.8,280.0 138.3,280.1 138.8,280.1 139.3,280.2 139.6,280.2 140.1,280.4 140.4,280.4 140.8,280.6 141.1,280.7 141.5,280.9 141.8,281.1 142.1,281.3 142.3,281.5 142.6,281.7 142.9,281.9 143.2,282.2 143.4,282.4 143.6,282.7 143.8,283.1 144.1,283.4 144.2,283.7 144.4,283.9 144.6,284.4 144.7,284.7 144.8,285.1 145.0,285.4 145.1,285.9 145.2,286.2 145.3,286.7 145.3,287.2 145.4,287.4 145.4,287.9 145.4,288.4 145.4,288.9 145.4,289.4 145.4,289.9 145.4,290.4 145.3,290.7 145.3,291.2 145.2,291.7 145.1,292.2 145.1,292.4 145.0,292.9 144.9,293.4 144.8,293.7 144.7,294.2 144.6,294.5 144.5,294.9 144.3,295.3 144.2,295.7 144.1,296.1 144.0,296.4 143.8,296.7 143.7,297.2 143.6,297.4 143.4,297.9 143.2,298.2 143.1,298.5 142.9,298.9 142.8,299.2 142.6,299.6 142.4,299.9 142.3,300.2 142.1,300.5 141.8,300.9 141.7,301.2 141.6,301.4 141.3,301.8 141.1,302.2 140.9,302.4 140.8,302.7 140.6,302.9 140.3,303.3 140.1,303.7 139.9,303.9 139.7,304.2 139.5,304.4 139.3,304.7 139.1,305.0 138.8,305.3 138.6,305.6 138.3,305.8 138.1,306.1 137.8,306.4 137.6,306.7 137.3,306.9 137.1,307.2 136.8,307.4 136.6,307.6 136.3,307.9 136.1,308.1 135.8,308.3 135.6,308.5 135.3,308.8 135.1,309.0 134.8,309.2 134.5,309.4 134.1,309.7 133.8,309.9 133.6,310.1 133.3,310.3 133.1,310.4 132.7,310.7 132.3,310.9 132.1,311.1 131.8,311.2 131.5,311.4 131.1,311.7 130.8,311.8 130.5,311.9 130.1,312.2 129.8,312.3 129.5,312.4 129.1,312.6 128.8,312.8 128.4,312.9 128.1,313.1 127.8,313.2 127.3,313.4 127.1,313.4 126.6,313.6 126.3,313.7 125.8,313.9 125.6,313.9 125.1,314.1 124.7,314.2 124.3,314.3 123.8,314.4 123.6,314.5 123.1,314.6 122.6,314.7 122.3,314.7 121.8,314.8 121.3,314.9 121.1,315.0 120.6,315.0 120.1,315.1 119.6,315.2 119.3,315.2 118.8,315.3 118.3,315.3 117.8,315.4 117.3,315.4 117.1,315.5 116.6,315.5 116.1,315.6 115.6,315.6 115.1,315.7 114.7,315.7 114.3,315.7 113.8,315.8 113.3,315.8 112.8,315.9 112.6,316.0 112.1,316.0 111.6,316.1 111.2,316.2 110.8,316.3 110.3,316.4 110.1,316.5 109.6,316.7 109.3,316.8 108.9,316.9 108.6,317.1 108.3,317.3 108.0,317.4 107.7,317.7 107.4,317.9 107.1,318.2 106.9,318.4 106.7,318.7 106.5,318.9 106.3,319.2 106.1,319.7 106.0,319.9 105.8,320.2 105.7,320.7 105.6,321.0 105.5,321.4 105.4,321.9 105.3,322.2 105.3,322.7 105.2,323.2 105.1,323.7 105.1,324.2 105.1,324.5 105.1,324.9 105.1,325.4 105.1,325.9 105.1,326.4 105.1,326.9 105.1,327.2 105.1,327.7 105.2,328.2 105.2,328.7 105.3,329.2 105.3,329.7 105.3,330.0 105.4,330.4 105.5,330.9 105.6,331.4 105.7,331.7 105.8,332.2 105.9,332.4 106.1,332.9 106.3,333.2 106.4,333.4 106.6,333.7 106.8,334.0 107.1,334.3 107.3,334.5 107.6,334.7 107.9,334.9 108.2,335.2 108.6,335.4 108.8,335.7 109.1,335.9 109.3,336.2 109.4,336.4 109.6,336.7 109.8,337.2 109.9,337.4 109.9,337.9 110.0,338.4 110.0,338.9 109.9,339.4 109.8,339.7 109.6,340.2 109.5,340.4 109.3,340.8 109.1,341.1 108.8,341.4 108.6,341.6 108.3,341.8 108.1,341.9 107.6,342.1 107.1,342.1 106.6,342.1 106.1,342.0 105.8,341.9 105.4,341.7 105.1,341.6 104.8,341.4 104.3,341.3 104.1,341.2 103.6,341.1 103.1,341.0 102.6,341.1 102.3,341.2 101.8,341.4 101.6,341.5 101.3,341.7 100.9,341.9 100.6,342.2 100.4,342.4 100.1,342.7 99.9,342.9 99.7,343.2 99.5,343.4 99.3,343.7 99.1,344.0 98.8,344.4 98.7,344.7 98.5,344.9 98.3,345.3 98.2,345.7 98.0,345.9 97.8,346.4 97.7,346.7 97.6,347.0 97.4,347.4 97.3,347.7 97.2,348.2 97.1,348.4 96.9,348.9 96.8,349.2 96.7,349.7 96.6,349.9 96.4,350.4 96.3,350.7 96.2,351.2 96.1,351.5 95.9,351.9 95.8,352.2 95.7,352.7 95.6,353.0 95.5,353.4 95.3,353.8 95.2,354.2 95.1,354.5 94.9,354.9 94.8,355.2 94.6,355.7 94.5,355.9 94.3,356.4 94.2,356.7 94.1,357.0 93.9,357.4 93.8,357.7 93.6,358.1 93.4,358.4 93.3,358.7 93.1,359.1 92.9,359.4 92.8,359.7 92.6,360.0 92.4,360.4 92.2,360.7 92.1,360.9 91.8,361.3 91.6,361.7 91.4,361.9 91.2,362.2 91.0,362.4 90.8,362.7 90.6,363.0 90.3,363.4 90.1,363.7 89.9,363.9 89.6,364.2 89.4,364.4 89.2,364.7 88.9,364.9 88.7,365.2 88.4,365.4 88.2,365.7 87.9,365.9 87.6,366.2 87.3,366.4 87.1,366.6 86.8,366.8 86.6,367.0 86.3,367.2 86.0,367.4 85.6,367.7 85.3,367.9 85.1,368.0 84.8,368.2 84.3,368.4 84.1,368.6 83.8,368.7 83.4,368.9 83.1,369.1 82.8,369.2 82.3,369.4 82.1,369.5 81.6,369.7 81.3,369.7 80.8,369.9 80.6,370.0 80.1,370.1 79.7,370.2 79.3,370.3 78.8,370.4 78.3,370.4 78.1,370.5Z"/>
<path d="M118.8,313.0 118.3,313.0 117.8,313.0 117.3,313.0 116.8,313.0 116.3,313.0 115.8,313.0 115.3,313.0 114.8,313.0 114.3,313.0 113.8,313.0 113.6,312.9 113.1,312.9 112.6,312.9 112.1,312.9 111.6,312.8 111.1,312.8 110.6,312.7 110.1,312.7 109.8,312.7 109.3,312.7 108.8,312.6 108.3,312.6 107.8,312.6 107.3,312.5 106.8,312.5 106.3,312.5 105.8,312.5 105.6,312.4 105.1,312.4 104.6,312.4 104.1,312.4 103.6,312.4 103.1,312.4 102.6,312.4 102.1,312.4 101.6,312.4 101.1,312.4 100.6,312.4 100.1,312.3 99.7,312.2 99.3,312.0 99.1,311.8 98.9,311.4 98.7,311.2 98.6,310.9 98.4,310.4 98.3,310.2 98.2,309.7 98.1,309.4 98.0,308.9 97.9,308.4 97.8,308.2 97.8,307.7 97.9,307.4 98.1,306.9 98.3,306.7 98.5,306.4 98.8,306.2 99.1,306.0 99.3,305.8 99.6,305.5 99.8,305.3 100.1,305.1 100.3,304.9 100.6,304.6 100.8,304.4 101.1,304.2 101.3,303.9 101.6,303.7 101.8,303.4 102.1,303.1 102.3,302.9 102.6,302.6 102.8,302.3 103.1,302.1 103.3,301.8 103.6,301.5 103.8,301.3 104.1,301.0 104.3,300.7 104.6,300.4 104.8,300.2 105.0,299.9 105.3,299.7 105.5,299.4 105.7,299.2 106.0,298.9 106.2,298.7 106.5,298.4 106.7,298.2 107.0,297.9 107.2,297.7 107.5,297.4 107.7,297.2 108.0,296.9 108.2,296.7 108.5,296.4 108.8,296.2 109.0,295.9 109.3,295.7 109.6,295.4 109.8,295.2 110.1,295.0 110.3,294.8 110.6,294.6 110.8,294.4 111.1,294.1 111.3,293.9 111.6,293.7 112.0,293.4 112.3,293.2 112.6,292.9 112.8,292.8 113.1,292.6 113.3,292.4 113.6,292.2 113.9,291.9 114.3,291.7 114.6,291.5 114.8,291.3 115.1,291.2 115.4,290.9 115.8,290.7 116.1,290.5 116.3,290.4 116.6,290.2 117.0,289.9 117.3,289.8 117.6,289.6 117.9,289.4 118.3,289.2 118.6,289.1 118.8,288.9 119.3,288.7 119.6,288.6 119.8,288.4 120.3,288.2 120.6,288.1 120.9,287.9 121.3,287.7 121.6,287.6 122.0,287.4 122.3,287.3 122.6,287.2 123.1,286.9 123.3,286.8 123.6,286.7 124.1,286.5 124.3,286.3 124.7,286.2 125.1,286.0 125.3,285.9 125.7,285.7 126.1,285.5 126.3,285.3 126.6,285.2 127.1,285.0 127.3,284.8 127.6,284.7 128.0,284.4 128.3,284.3 128.6,284.2 129.0,283.9 129.3,283.8 129.6,283.6 130.0,283.4 130.3,283.3 130.6,283.1 131.0,282.9 131.3,282.8 131.6,282.7 132.1,282.5 132.3,282.4 132.8,282.2 133.1,282.1 133.5,281.9 133.8,281.8 134.3,281.7 134.6,281.6 135.1,281.5 135.3,281.4 135.8,281.4 136.3,281.3 136.8,281.3 137.3,281.2 137.8,281.2 138.3,281.3 138.8,281.4 139.2,281.4 139.6,281.5 140.0,281.7 140.3,281.8 140.6,281.9 141.1,282.2 141.3,282.4 141.6,282.6 141.8,282.8 142.1,283.0 142.3,283.3 142.6,283.5 142.8,283.9 143.1,284.2 143.2,284.4 143.4,284.7 143.6,285.2 143.7,285.4 143.8,285.9 143.9,286.2 144.1,286.7 144.1,286.9 144.2,287.4 144.3,287.9 144.3,288.4 144.3,288.9 144.3,289.4 144.3,289.9 144.3,290.4 144.2,290.9 144.2,291.4 144.1,291.9 144.1,292.2 144.0,292.7 143.8,293.1 143.8,293.4 143.6,293.9 143.6,294.2 143.4,294.7 143.3,294.9 143.2,295.4 143.1,295.7 142.9,296.2 142.8,296.4 142.6,296.8 142.4,297.2 142.3,297.4 142.1,297.9 142.0,298.2 141.8,298.4 141.6,298.9 141.4,299.2 141.3,299.4 141.1,299.8 140.8,300.2 140.7,300.4 140.5,300.7 140.3,301.0 140.1,301.3 139.8,301.7 139.7,301.9 139.5,302.2 139.3,302.4 139.1,302.7 138.8,303.0 138.6,303.3 138.3,303.6 138.1,303.9 137.9,304.2 137.6,304.4 137.4,304.7 137.2,304.9 136.9,305.2 136.7,305.4 136.4,305.7 136.1,305.9 135.9,306.2 135.6,306.4 135.3,306.6 135.1,306.9 134.8,307.1 134.6,307.3 134.3,307.5 134.0,307.7 133.7,307.9 133.3,308.2 133.1,308.4 132.8,308.5 132.6,308.7 132.2,308.9 131.8,309.2 131.6,309.3 131.3,309.5 130.9,309.7 130.6,309.9 130.3,310.0 129.9,310.2 129.6,310.4 129.3,310.5 128.8,310.7 128.6,310.8 128.2,310.9 127.8,311.1 127.6,311.2 127.1,311.4 126.8,311.5 126.3,311.6 126.1,311.7 125.6,311.8 125.2,311.9 124.8,312.1 124.3,312.2 124.1,312.2 123.6,312.3 123.1,312.4 122.8,312.5 122.3,312.6 121.8,312.6 121.5,312.7 121.1,312.8 120.6,312.8 120.1,312.9 119.6,312.9 119.1,312.9 118.8,313.0Z"/>
<path d="M94.1,307.7 93.6,307.8 93.1,307.9 92.6,307.9 92.1,307.9 91.6,307.9 91.1,307.9 90.6,307.9 90.1,307.8 89.6,307.7 89.3,307.7 88.8,307.6 88.3,307.5 88.1,307.4 87.6,307.2 87.3,307.1 86.9,306.9 86.6,306.8 86.3,306.7 86.0,306.4 85.6,306.2 85.3,306.0 85.1,305.7 84.8,305.5 84.6,305.2 84.5,304.9 84.3,304.7 84.2,304.2 84.2,303.7 84.2,303.2 84.3,302.9 84.6,302.5 84.8,302.2 85.1,301.9 85.3,301.8 85.6,301.6 85.9,301.4 86.3,301.3 86.6,301.2 87.1,301.0 87.6,301.0 87.8,300.9 88.3,300.9 88.8,300.9 89.3,300.9 89.6,301.0 90.1,301.1 90.6,301.2 90.8,301.2 91.3,301.4 91.6,301.5 92.1,301.7 92.3,301.8 92.6,302.0 93.0,302.2 93.3,302.4 93.6,302.6 93.8,302.8 94.1,303.0 94.3,303.3 94.6,303.5 94.8,303.8 95.1,304.1 95.3,304.4 95.5,304.7 95.7,304.9 95.8,305.2 96.1,305.7 96.1,305.9 96.2,306.4 96.1,306.7 95.8,307.0 95.6,307.2 95.1,307.4 94.8,307.5 94.3,307.7 94.1,307.7Z"/>
<path d="M77.1,367.5 76.6,367.5 76.1,367.5 75.6,367.5 75.1,367.5 74.6,367.5 74.3,367.4 73.8,367.4 73.3,367.3 73.0,367.2 72.6,367.1 72.1,367.0 71.8,366.9 71.3,366.8 71.1,366.7 70.6,366.5 70.3,366.4 70.0,366.2 69.6,366.0 69.3,365.9 69.0,365.7 68.6,365.5 68.3,365.3 68.1,365.2 67.7,364.9 67.4,364.7 67.1,364.5 66.8,364.3 66.6,364.1 66.3,363.9 66.1,363.7 65.8,363.4 65.6,363.2 65.3,362.9 65.0,362.7 64.8,362.4 64.6,362.2 64.3,361.9 64.1,361.6 63.9,361.3 63.6,361.0 63.4,360.7 63.2,360.4 63.0,360.2 62.9,359.9 62.6,359.5 62.4,359.2 62.3,358.9 62.1,358.6 61.9,358.2 61.7,357.9 61.6,357.7 61.4,357.2 61.3,356.9 61.1,356.5 61.0,356.2 60.9,355.8 60.7,355.4 60.6,355.0 60.5,354.7 60.4,354.2 60.3,353.9 60.2,353.4 60.1,353.0 60.0,352.7 60.0,352.2 59.9,351.7 59.9,351.4 59.8,350.9 59.8,350.4 59.7,349.9 59.7,349.4 59.7,348.9 59.7,348.4 59.8,347.9 59.8,347.4 59.8,346.9 59.9,346.7 59.9,346.2 60.0,345.7 60.1,345.3 60.2,344.9 60.3,344.4 60.4,344.2 60.5,343.7 60.6,343.3 60.7,342.9 60.9,342.5 61.0,342.2 61.1,341.9 61.3,341.4 61.4,341.2 61.6,340.7 61.7,340.4 61.9,340.2 62.1,339.7 62.3,339.4 62.4,339.2 62.6,338.9 62.9,338.5 63.0,338.2 63.2,337.9 63.4,337.7 63.6,337.4 63.9,337.1 64.1,336.8 64.3,336.5 64.6,336.3 64.8,336.0 65.1,335.7 65.3,335.5 65.6,335.3 65.8,335.0 66.1,334.8 66.3,334.6 66.6,334.4 66.9,334.2 67.2,333.9 67.6,333.7 67.8,333.5 68.1,333.4 68.4,333.2 68.8,332.9 69.1,332.8 69.3,332.7 69.8,332.4 70.1,332.3 70.3,332.2 70.8,332.0 71.1,331.9 71.6,331.7 71.8,331.6 72.3,331.5 72.6,331.4 73.1,331.3 73.5,331.2 73.8,331.1 74.3,331.0 74.8,330.9 75.1,330.9 75.6,330.9 76.1,330.8 76.6,330.8 77.1,330.7 77.6,330.7 78.1,330.7 78.6,330.7 78.6,330.7 79.1,330.7 79.6,330.7 80.1,330.7 80.6,330.7 81.1,330.8 81.6,330.8 82.1,330.8 82.6,330.8 83.1,330.8 83.6,330.8 84.1,330.8 84.6,330.8 85.1,330.8 85.6,330.8 86.1,330.7 86.3,330.7 86.8,330.5 87.2,330.4 87.6,330.3 87.8,330.2 88.3,329.9 88.6,329.7 88.8,329.5 89.1,329.3 89.3,329.0 89.6,328.7 89.8,328.4 90.0,328.2 90.1,327.9 90.3,327.5 90.5,327.2 90.6,326.9 90.8,326.5 91.0,326.2 91.1,325.9 91.3,325.4 91.4,325.2 91.6,324.7 91.7,324.4 91.8,324.1 92.0,323.7 92.1,323.4 92.3,323.0 92.5,322.7 92.6,322.4 92.8,321.9 92.9,321.7 93.1,321.4 93.3,320.9 93.5,320.7 93.6,320.4 93.8,320.0 94.0,319.7 94.2,319.4 94.4,319.2 94.6,318.9 94.8,318.6 95.1,318.3 95.3,318.0 95.6,317.8 95.8,317.6 96.1,317.4 96.6,317.2 96.8,317.2 97.1,317.2 97.5,317.4 97.7,317.7 97.8,318.0 98.1,318.4 98.2,318.7 98.3,319.2 98.4,319.4 98.5,319.9 98.6,320.2 98.7,320.7 98.8,321.2 98.8,321.5 98.9,321.9 99.0,322.4 99.0,322.9 99.1,323.4 99.1,323.7 99.1,324.2 99.1,324.7 99.1,325.2 99.1,325.7 99.1,326.1 99.1,326.4 99.0,326.9 98.9,327.4 98.9,327.9 98.8,328.2 98.7,328.7 98.6,329.0 98.4,329.4 98.3,329.7 98.2,330.2 98.0,330.4 97.8,330.9 97.7,331.2 97.5,331.4 97.3,331.8 97.1,332.2 96.9,332.4 96.8,332.7 96.6,333.0 96.3,333.3 96.1,333.7 95.9,333.9 95.7,334.2 95.6,334.4 95.3,334.8 95.1,335.2 95.0,335.4 94.8,335.7 94.6,336.2 94.5,336.4 94.3,336.8 94.2,337.2 94.1,337.5 94.0,337.9 93.8,338.4 93.8,338.7 93.7,339.2 93.6,339.7 93.6,339.9 93.5,340.4 93.4,340.9 93.4,341.4 93.3,341.9 93.3,342.2 93.3,342.7 93.2,343.2 93.2,343.7 93.2,344.2 93.1,344.7 93.1,345.0 93.1,345.4 93.0,345.9 93.0,346.4 92.9,346.9 92.9,347.4 92.8,347.7 92.8,348.2 92.7,348.7 92.7,349.2 92.6,349.6 92.5,349.9 92.5,350.4 92.4,350.9 92.3,351.2 92.2,351.7 92.1,352.2 92.0,352.4 91.9,352.9 91.8,353.2 91.7,353.7 91.6,354.1 91.5,354.4 91.3,354.9 91.2,355.2 91.1,355.6 91.0,355.9 90.8,356.2 90.6,356.7 90.5,356.9 90.3,357.4 90.2,357.7 90.1,357.9 89.8,358.4 89.7,358.7 89.5,358.9 89.3,359.3 89.1,359.7 88.9,359.9 88.8,360.2 88.6,360.4 88.3,360.8 88.1,361.1 87.8,361.4 87.6,361.7 87.4,361.9 87.2,362.2 87.0,362.4 86.7,362.7 86.5,362.9 86.2,363.2 86.0,363.4 85.7,363.7 85.4,363.9 85.1,364.2 84.8,364.4 84.6,364.6 84.3,364.8 84.1,364.9 83.7,365.2 83.3,365.4 83.1,365.6 82.8,365.7 82.4,365.9 82.1,366.1 81.8,366.2 81.3,366.4 81.1,366.5 80.7,366.7 80.3,366.8 79.9,366.9 79.6,367.0 79.1,367.2 78.8,367.2 78.3,367.3 77.8,367.4 77.3,367.4 77.1,367.5Z"/>
<path d="M121.1,310.2 120.6,310.2 120.1,310.2 119.6,310.2 119.1,310.2 118.6,310.2 118.2,310.2 117.8,310.2 117.3,310.1 116.8,310.1 116.3,310.0 115.9,309.9 115.6,309.9 115.1,309.8 114.7,309.7 114.3,309.6 113.8,309.5 113.6,309.4 113.1,309.2 112.8,309.2 112.3,309.0 112.1,308.9 111.8,308.7 111.3,308.5 111.1,308.3 110.8,308.2 110.5,307.9 110.2,307.7 109.9,307.4 109.6,307.2 109.4,306.9 109.2,306.7 109.1,306.4 108.8,306.0 108.7,305.7 108.6,305.3 108.5,304.9 108.5,304.4 108.5,303.9 108.5,303.4 108.6,303.0 108.7,302.7 108.8,302.2 108.9,301.9 109.1,301.5 109.2,301.2 109.4,300.9 109.6,300.5 109.8,300.2 109.9,299.9 110.1,299.7 110.3,299.3 110.6,298.9 110.8,298.7 111.0,298.4 111.2,298.2 111.4,297.9 111.6,297.7 111.8,297.4 112.1,297.1 112.3,296.8 112.6,296.6 112.8,296.3 113.1,296.0 113.3,295.8 113.6,295.6 113.8,295.3 114.1,295.1 114.3,294.9 114.6,294.7 114.9,294.4 115.2,294.2 115.5,293.9 115.8,293.7 116.1,293.5 116.3,293.3 116.6,293.1 116.8,292.9 117.2,292.7 117.5,292.4 117.8,292.2 118.1,292.1 118.3,291.9 118.7,291.7 119.1,291.5 119.3,291.3 119.6,291.2 120.0,290.9 120.3,290.7 120.6,290.6 120.8,290.4 121.3,290.2 121.6,290.0 121.8,289.9 122.1,289.7 122.6,289.4 122.8,289.3 123.1,289.2 123.4,288.9 123.8,288.7 124.1,288.6 124.3,288.4 124.7,288.2 125.1,287.9 125.3,287.8 125.6,287.6 125.8,287.4 126.2,287.2 126.6,287.0 126.8,286.8 127.1,286.6 127.4,286.4 127.8,286.2 128.1,286.0 128.3,285.8 128.6,285.7 129.0,285.4 129.3,285.2 129.6,285.1 129.8,284.9 130.2,284.7 130.6,284.5 130.8,284.4 131.2,284.2 131.6,284.0 131.8,283.9 132.2,283.7 132.6,283.5 132.8,283.4 133.3,283.2 133.6,283.1 134.1,283.0 134.3,282.9 134.8,282.8 135.2,282.7 135.6,282.6 136.1,282.6 136.6,282.5 137.1,282.5 137.6,282.5 138.1,282.6 138.6,282.7 138.8,282.8 139.3,282.9 139.6,283.0 140.0,283.2 140.3,283.4 140.6,283.6 140.8,283.8 141.1,284.0 141.3,284.2 141.6,284.5 141.8,284.8 142.1,285.2 142.2,285.4 142.4,285.7 142.6,286.2 142.7,286.4 142.8,286.9 142.9,287.2 143.0,287.7 143.1,288.2 143.1,288.4 143.2,288.9 143.2,289.4 143.2,289.9 143.2,290.4 143.1,290.9 143.1,291.2 143.0,291.7 142.9,292.2 142.8,292.6 142.8,292.9 142.6,293.4 142.6,293.7 142.4,294.2 142.3,294.4 142.2,294.9 142.1,295.2 141.9,295.7 141.8,295.9 141.6,296.3 141.4,296.7 141.3,296.9 141.1,297.4 140.9,297.7 140.8,297.9 140.6,298.3 140.4,298.7 140.2,298.9 140.0,299.2 139.8,299.5 139.6,299.9 139.4,300.2 139.2,300.4 139.0,300.7 138.8,300.9 138.6,301.2 138.3,301.6 138.1,301.9 137.8,302.1 137.6,302.4 137.3,302.7 137.1,302.9 136.9,303.2 136.6,303.4 136.4,303.7 136.1,303.9 135.8,304.2 135.6,304.4 135.3,304.6 135.1,304.8 134.8,305.0 134.6,305.2 134.3,305.4 134.0,305.7 133.6,305.9 133.3,306.1 133.1,306.3 132.8,306.5 132.5,306.7 132.1,306.9 131.8,307.1 131.6,307.2 131.2,307.4 130.8,307.6 130.6,307.7 130.2,307.9 129.8,308.1 129.6,308.2 129.1,308.4 128.8,308.5 128.4,308.7 128.1,308.8 127.7,308.9 127.3,309.1 126.9,309.2 126.6,309.3 126.1,309.4 125.8,309.5 125.3,309.6 124.9,309.7 124.6,309.8 124.1,309.9 123.6,309.9 123.3,310.0 122.8,310.0 122.3,310.1 121.8,310.1 121.3,310.2 121.1,310.2Z"/>
<path d="M76.1,364.0 75.6,364.0 75.3,363.9 74.8,363.9 74.3,363.9 73.8,363.8 73.3,363.7 73.1,363.6 72.6,363.5 72.3,363.4 71.8,363.3 71.6,363.2 71.1,363.0 70.8,362.9 70.5,362.7 70.1,362.5 69.8,362.3 69.6,362.2 69.2,361.9 68.9,361.7 68.6,361.5 68.3,361.3 68.1,361.1 67.8,360.9 67.6,360.7 67.3,360.4 67.1,360.2 66.8,359.9 66.6,359.6 66.3,359.3 66.1,359.0 65.9,358.7 65.7,358.4 65.5,358.2 65.3,357.9 65.1,357.6 64.9,357.2 64.7,356.9 64.6,356.7 64.4,356.2 64.2,355.9 64.1,355.6 63.9,355.2 63.8,354.9 63.7,354.4 63.6,354.2 63.4,353.7 63.4,353.4 63.2,352.9 63.1,352.4 63.1,352.2 63.0,351.7 62.9,351.2 62.9,350.7 62.9,350.2 62.8,349.9 62.8,349.4 62.8,348.9 62.9,348.6 62.9,348.2 62.9,347.7 63.0,347.2 63.1,346.7 63.1,346.4 63.2,345.9 63.3,345.4 63.4,345.2 63.5,344.7 63.6,344.4 63.8,343.9 63.9,343.7 64.1,343.2 64.2,342.9 64.3,342.6 64.5,342.2 64.7,341.9 64.8,341.7 65.1,341.2 65.3,340.9 65.5,340.7 65.6,340.4 65.8,340.1 66.1,339.8 66.3,339.5 66.6,339.2 66.8,339.0 67.1,338.7 67.3,338.5 67.6,338.3 67.8,338.0 68.1,337.8 68.3,337.6 68.6,337.4 69.0,337.2 69.3,337.0 69.6,336.8 69.8,336.7 70.2,336.4 70.6,336.3 70.8,336.2 71.3,335.9 71.6,335.8 72.0,335.7 72.3,335.6 72.8,335.5 73.1,335.4 73.6,335.3 74.1,335.2 74.3,335.2 74.8,335.1 75.3,335.1 75.8,335.1 76.3,335.1 76.8,335.1 77.3,335.1 77.8,335.2 78.1,335.2 78.6,335.3 79.1,335.4 79.4,335.4 79.8,335.6 80.3,335.7 80.6,335.8 81.0,335.9 81.3,336.1 81.6,336.2 82.1,336.4 82.3,336.5 82.7,336.7 83.1,336.9 83.3,337.1 83.6,337.3 83.9,337.4 84.2,337.7 84.5,337.9 84.8,338.2 85.1,338.4 85.3,338.7 85.6,338.9 85.8,339.2 86.0,339.4 86.2,339.7 86.3,340.0 86.6,340.3 86.8,340.7 87.0,340.9 87.1,341.2 87.3,341.7 87.4,341.9 87.6,342.4 87.7,342.7 87.8,343.1 88.0,343.4 88.1,343.9 88.2,344.2 88.3,344.7 88.3,345.2 88.4,345.4 88.5,345.9 88.5,346.4 88.6,346.9 88.6,347.4 88.6,347.7 88.6,348.2 88.6,348.7 88.6,349.0 88.6,349.4 88.5,349.9 88.5,350.4 88.4,350.9 88.4,351.4 88.3,351.7 88.2,352.2 88.1,352.7 88.1,352.9 87.9,353.4 87.8,353.7 87.7,354.2 87.6,354.5 87.4,354.9 87.3,355.2 87.1,355.7 87.0,355.9 86.8,356.4 86.7,356.7 86.5,356.9 86.3,357.3 86.1,357.7 86.0,357.9 85.8,358.2 85.6,358.5 85.3,358.8 85.1,359.2 84.9,359.4 84.7,359.7 84.4,359.9 84.2,360.2 84.0,360.4 83.7,360.7 83.4,360.9 83.1,361.2 82.8,361.4 82.6,361.6 82.3,361.8 82.1,362.0 81.8,362.2 81.3,362.4 81.1,362.6 80.8,362.7 80.4,362.9 80.1,363.1 79.8,363.2 79.3,363.3 79.0,363.4 78.6,363.6 78.1,363.7 77.8,363.8 77.3,363.8 76.8,363.9 76.3,363.9 76.1,364.0Z"/>
<path d="M125.8,306.7 125.3,306.8 124.8,306.8 124.3,306.8 123.8,306.9 123.3,306.9 122.8,306.8 122.3,306.8 121.8,306.8 121.3,306.7 121.1,306.7 120.6,306.6 120.1,306.5 119.7,306.4 119.3,306.4 118.8,306.2 118.6,306.1 118.1,305.9 117.8,305.8 117.6,305.7 117.1,305.4 116.8,305.3 116.6,305.1 116.3,304.9 116.1,304.6 115.8,304.3 115.6,304.0 115.4,303.7 115.3,303.4 115.1,302.9 115.1,302.7 115.0,302.2 115.0,301.7 115.1,301.2 115.2,300.9 115.3,300.4 115.4,300.2 115.6,299.7 115.7,299.4 115.8,299.2 116.1,298.8 116.3,298.4 116.5,298.2 116.7,297.9 116.8,297.7 117.1,297.4 117.3,297.1 117.6,296.8 117.8,296.5 118.1,296.3 118.3,296.0 118.6,295.8 118.8,295.6 119.1,295.3 119.3,295.1 119.6,294.9 119.8,294.7 120.1,294.4 120.4,294.2 120.7,293.9 121.0,293.7 121.3,293.4 121.6,293.2 121.8,293.0 122.1,292.8 122.3,292.6 122.6,292.4 122.9,292.2 123.1,291.9 123.4,291.7 123.7,291.4 124.0,291.2 124.3,290.9 124.6,290.7 124.8,290.5 125.1,290.3 125.3,290.1 125.6,289.9 125.8,289.7 126.1,289.4 126.4,289.2 126.7,288.9 127.0,288.7 127.3,288.4 127.6,288.2 127.8,288.0 128.1,287.8 128.3,287.6 128.6,287.4 128.9,287.2 129.2,286.9 129.6,286.7 129.8,286.5 130.1,286.4 130.4,286.2 130.8,285.9 131.1,285.7 131.3,285.6 131.6,285.4 132.1,285.2 132.3,285.1 132.7,284.9 133.1,284.8 133.3,284.7 133.8,284.5 134.1,284.4 134.6,284.3 134.9,284.2 135.3,284.1 135.8,284.0 136.3,284.0 136.8,284.0 137.3,284.1 137.8,284.1 138.1,284.2 138.6,284.4 138.8,284.5 139.3,284.7 139.6,284.9 139.8,285.1 140.1,285.3 140.3,285.5 140.6,285.8 140.8,286.2 141.0,286.4 141.1,286.7 141.3,287.2 141.5,287.4 141.6,287.9 141.7,288.2 141.8,288.7 141.8,289.2 141.8,289.5 141.9,289.9 141.9,290.4 141.8,290.7 141.8,291.2 141.7,291.7 141.7,292.2 141.6,292.5 141.5,292.9 141.4,293.4 141.3,293.7 141.1,294.2 141.0,294.4 140.8,294.9 140.7,295.2 140.6,295.5 140.4,295.9 140.3,296.2 140.1,296.6 139.9,296.9 139.8,297.2 139.6,297.5 139.3,297.9 139.2,298.2 139.0,298.4 138.8,298.7 138.6,299.0 138.3,299.4 138.1,299.7 137.9,299.9 137.7,300.2 137.5,300.4 137.2,300.7 137.0,300.9 136.8,301.2 136.5,301.4 136.3,301.7 136.0,301.9 135.7,302.2 135.5,302.4 135.2,302.7 134.9,302.9 134.6,303.2 134.3,303.3 134.1,303.5 133.8,303.7 133.5,303.9 133.1,304.2 132.8,304.3 132.6,304.5 132.2,304.7 131.8,304.9 131.6,305.0 131.2,305.2 130.8,305.4 130.6,305.5 130.1,305.7 129.8,305.8 129.3,305.9 129.1,306.0 128.6,306.2 128.3,306.2 127.8,306.4 127.5,306.4 127.1,306.5 126.6,306.6 126.1,306.7 125.8,306.7Z"/>
<path d="M77.1,358.8 76.6,358.9 76.1,358.9 75.6,358.9 75.1,358.9 74.6,358.9 74.1,358.8 73.6,358.7 73.3,358.6 72.8,358.5 72.6,358.4 72.3,358.2 71.8,358.0 71.6,357.8 71.3,357.7 71.0,357.4 70.7,357.2 70.4,356.9 70.1,356.7 69.9,356.4 69.7,356.2 69.4,355.9 69.2,355.7 69.1,355.4 68.8,355.1 68.6,354.7 68.4,354.4 68.3,354.2 68.1,353.8 68.0,353.4 67.8,353.1 67.7,352.7 67.6,352.4 67.5,351.9 67.4,351.4 67.3,351.2 67.3,350.7 67.2,350.2 67.2,349.7 67.2,349.2 67.3,348.7 67.3,348.2 67.4,347.9 67.4,347.4 67.6,346.9 67.6,346.7 67.8,346.2 67.9,345.9 68.1,345.5 68.2,345.2 68.4,344.9 68.6,344.5 68.8,344.2 69.0,343.9 69.2,343.7 69.4,343.4 69.6,343.2 69.8,342.9 70.1,342.7 70.3,342.4 70.6,342.2 71.0,341.9 71.3,341.7 71.6,341.6 71.8,341.4 72.3,341.2 72.6,341.1 73.0,340.9 73.3,340.8 73.8,340.7 74.1,340.7 74.6,340.6 75.1,340.6 75.6,340.6 76.1,340.6 76.6,340.7 76.8,340.7 77.3,340.8 77.7,340.9 78.1,341.1 78.4,341.2 78.8,341.4 79.1,341.5 79.4,341.7 79.8,341.9 80.1,342.2 80.3,342.4 80.6,342.6 80.8,342.9 81.1,343.1 81.3,343.4 81.6,343.7 81.8,343.9 81.9,344.2 82.1,344.5 82.3,344.9 82.5,345.2 82.6,345.4 82.8,345.9 82.9,346.2 83.1,346.7 83.2,346.9 83.3,347.4 83.3,347.8 83.4,348.2 83.5,348.7 83.5,349.2 83.5,349.7 83.5,350.2 83.5,350.7 83.4,351.2 83.3,351.5 83.3,351.9 83.1,352.4 83.1,352.7 82.9,353.2 82.8,353.4 82.6,353.9 82.5,354.2 82.3,354.5 82.1,354.9 81.9,355.2 81.8,355.4 81.6,355.7 81.3,356.0 81.1,356.3 80.8,356.6 80.6,356.8 80.3,357.1 80.1,357.3 79.8,357.5 79.5,357.7 79.1,357.9 78.8,358.1 78.6,358.2 78.1,358.4 77.8,358.5 77.3,358.7 77.1,358.8Z"/>
<path d="M128.3,303.5 127.8,303.5 127.3,303.5 127.1,303.4 126.6,303.4 126.1,303.3 125.8,303.2 125.3,303.0 125.1,302.9 124.6,302.7 124.3,302.6 124.1,302.4 123.8,302.2 123.6,301.9 123.3,301.7 123.1,301.4 122.9,300.9 122.8,300.7 122.6,300.2 122.6,299.9 122.6,299.4 122.6,298.9 122.6,298.7 122.7,298.2 122.8,297.8 123.0,297.4 123.1,297.1 123.3,296.7 123.4,296.4 123.6,296.0 123.8,295.7 123.9,295.4 124.1,295.1 124.3,294.7 124.5,294.4 124.7,294.2 124.9,293.9 125.1,293.6 125.3,293.2 125.6,292.9 125.8,292.7 126.0,292.4 126.2,292.2 126.4,291.9 126.6,291.7 126.8,291.4 127.1,291.1 127.3,290.8 127.6,290.5 127.8,290.3 128.1,290.0 128.3,289.8 128.6,289.5 128.8,289.3 129.1,289.1 129.3,288.9 129.6,288.6 129.8,288.4 130.2,288.2 130.5,287.9 130.8,287.7 131.1,287.5 131.3,287.4 131.6,287.2 132.0,286.9 132.3,286.8 132.6,286.7 133.1,286.4 133.3,286.3 133.7,286.2 134.1,286.1 134.5,285.9 134.8,285.9 135.3,285.8 135.8,285.8 136.3,285.8 136.8,285.8 137.3,285.9 137.6,286.0 138.0,286.2 138.3,286.4 138.6,286.6 138.8,286.8 139.1,287.0 139.3,287.3 139.6,287.7 139.7,287.9 139.8,288.2 140.0,288.7 140.1,288.9 140.2,289.4 140.3,289.9 140.3,290.4 140.3,290.9 140.3,291.4 140.2,291.9 140.1,292.4 140.1,292.7 140.0,293.2 139.8,293.6 139.7,293.9 139.6,294.3 139.4,294.7 139.3,294.9 139.1,295.4 139.0,295.7 138.8,296.0 138.6,296.4 138.4,296.7 138.3,296.9 138.1,297.2 137.8,297.6 137.6,297.9 137.4,298.2 137.2,298.4 137.0,298.7 136.8,298.9 136.6,299.2 136.3,299.4 136.1,299.7 135.8,299.9 135.5,300.2 135.3,300.4 135.0,300.7 134.6,300.9 134.3,301.2 134.1,301.3 133.8,301.5 133.6,301.7 133.2,301.9 132.8,302.1 132.6,302.3 132.2,302.4 131.8,302.6 131.6,302.7 131.1,302.9 130.8,303.0 130.3,303.1 130.1,303.2 129.6,303.3 129.1,303.4 128.6,303.4 128.3,303.5Z"/>
<path d="M131.6,300.0 131.1,300.1 130.6,300.1 130.1,300.1 129.6,300.1 129.1,299.9 128.8,299.8 128.6,299.7 128.2,299.4 127.9,299.2 127.7,298.9 127.6,298.7 127.3,298.2 127.3,297.9 127.2,297.4 127.1,296.9 127.2,296.4 127.2,295.9 127.3,295.5 127.4,295.2 127.6,294.7 127.7,294.4 127.8,294.1 128.0,293.7 128.2,293.4 128.3,293.2 128.6,292.7 128.8,292.4 129.0,292.2 129.2,291.9 129.3,291.7 129.6,291.4 129.8,291.1 130.1,290.8 130.3,290.6 130.6,290.3 130.8,290.1 131.1,289.9 131.4,289.7 131.7,289.4 132.1,289.2 132.3,289.0 132.6,288.9 132.9,288.7 133.3,288.5 133.6,288.4 134.1,288.3 134.4,288.2 134.8,288.1 135.3,288.1 135.8,288.2 136.1,288.2 136.6,288.4 136.8,288.5 137.1,288.7 137.4,288.9 137.6,289.2 137.8,289.7 138.0,289.9 138.1,290.3 138.2,290.7 138.2,291.2 138.2,291.7 138.2,292.2 138.1,292.7 138.1,292.9 137.9,293.4 137.8,293.8 137.7,294.2 137.6,294.4 137.4,294.9 137.2,295.2 137.1,295.4 136.8,295.8 136.6,296.2 136.4,296.4 136.2,296.7 136.0,296.9 135.8,297.2 135.6,297.5 135.3,297.7 135.1,298.0 134.8,298.2 134.5,298.4 134.2,298.7 133.8,298.9 133.6,299.1 133.3,299.2 133.0,299.4 132.6,299.6 132.3,299.7 131.8,299.9 131.6,300.0Z"/>
<path d="M133.1,295.0 132.6,295.1 132.2,294.9 132.0,294.7 132.0,294.2 132.1,293.9 132.3,293.4 132.5,293.2 132.7,292.9 133.1,292.7 133.3,292.6 133.8,292.5 134.2,292.7 134.3,293.1 134.4,293.4 134.3,293.7 134.1,294.1 133.9,294.4 133.6,294.7 133.3,294.9 133.1,295.0Z"/>
</g>
<clipPath id="cp4"><rect x="309.5" y="243.5" width="144.0" height="143.0"/></clipPath>
<g transform="translate(0,0.5)" stroke-width="1" fill="none" shape-rendering="crispEdges">
<path d="M345 282h1M360 282h1M325 283h1M377 283h1M338 285h1M353 285h2M345 286h1M315 287h1M357 287h1M311 288h1M314 289h1M322 289h1M329 289h1M343 289h1M330 290h1M340 290h1M350 290h1M325 291h1M321 292h1M324 292h1M318 293h1M356 294h1M313 299h1M314 305h1M312 308h1M315 316h1M391 320h1M322 321h1M359 322h1M378 322h1M371 323h1M314 324h2M387 324h1M365 326h1M392 329h1M371 330h1M377 330h1M312 331h1M390 331h1M381 332h1M367 333h1M371 333h1M379 333h1M369 335h1M372 335h1M388 335h1M368 336h1M382 336h1M393 336h1M365 337h1M374 337h1M369 339h1M388 339h1M371 340h1M383 340h1M358 341h1M374 342h1M384 342h1M363 343h1M368 344h1M372 344h1M384 346h1M383 347h1M357 348h1M375 348h1M387 348h2M380 349h1M377 350h1M386 350h1M368 351h1M379 351h1M382 351h1M390 351h1M375 352h1M371 353h2M387 353h1M390 353h1M370 354h1M379 355h1M389 355h1M393 358h1M362 359h1M363 360h1M365 360h1M381 361h1M354 364h1M365 364h1M376 364h1M375 366h1M389 366h1M386 367h1M396 367h1M371 368h1M385 368h1M391 368h1M382 369h1M317 371h1M366 371h1M375 371h1M371 372h1M323 373h1M326 373h1M369 377h2M387 377h1M347 378h1M358 378h1M342 379h1M355 381h1M366 381h1M373 381h1M337 382h1M346 382h1" stroke="#1a1a1a"/>
<path d="M338 261h1M364 264h1M311 265h1M313 267h1M386 274h1M312 275h1M310 277h1M382 277h1M323 278h1M376 278h1M351 279h1M378 279h1M319 280h1M341 281h1M347 281h1M368 281h3M375 281h1M385 281h1M389 281h1M391 281h1M393 281h1M311 282h1M335 282h1M346 282h1M349 282h1M354 282h1M364 282h1M368 282h1M377 282h1M380 282h1M317 283h1M322 283h1M330 283h1M340 283h1M352 283h1M355 283h1M359 283h1M373 283h1M395 283h1M316 284h1M319 284h1M322 284h3M328 284h1M330 284h2M335 284h1M337 284h1M344 284h1M358 284h2M369 284h1M373 284h2M399 284h1M312 285h2M317 285h2M324 285h1M330 285h1M345 285h1M362 285h2M366 285h2M311 286h3M316 286h3M330 286h1M334 286h1M336 286h1M338 286h1M342 286h1M344 286h1M351 286h1M357 286h1M361 286h1M363 286h1M366 286h1M368 286h2M312 287h1M320 287h1M326 287h1M328 287h3M336 287h2M341 287h1M344 287h1M348 287h1M350 287h2M354 287h3M361 287h1M363 287h1M365 287h1M367 287h1M310 288h1M337 288h2M347 288h1M350 288h1M355 288h1M361 288h2M365 288h1M400 288h1M310 289h2M313 289h1M316 289h2M331 289h1M337 289h1M339 289h2M342 289h1M345 289h1M348 289h1M352 289h1M358 289h1M362 289h2M313 290h1M320 290h2M325 290h1M328 290h1M335 290h2M338 290h1M341 290h2M351 290h2M358 290h1M321 291h2M334 291h1M336 291h1M339 291h1M346 291h1M353 291h1M357 291h1M311 292h1M313 292h1M319 292h1M327 292h1M329 292h1M336 292h1M342 292h1M345 292h1M348 292h3M354 292h1M357 292h3M313 293h1M324 293h1M350 293h1M311 294h1M317 294h1M311 295h1M355 295h2M312 297h1M316 297h1M314 298h1M311 299h1M314 299h1M316 299h1M310 300h1M316 300h1M314 301h1M398 301h1M312 302h1M398 302h1M310 303h1M315 303h1M310 304h1M313 304h1M315 304h1M397 304h1M312 306h1M314 306h1M312 307h1M310 308h1M316 308h1M398 308h1M312 310h3M317 310h1M310 311h1M312 311h1M318 311h1M393 311h1M312 312h1M397 312h1M319 313h1M310 314h1M392 314h1M311 315h1M315 315h1M317 315h1M317 317h1M319 317h1M360 317h1M388 317h1M313 318h1M319 318h1M388 318h1M391 318h1M396 318h1M363 319h1M368 319h1M388 319h1M390 319h1M311 320h1M315 320h1M323 320h1M360 320h1M366 320h1M370 320h1M310 321h1M314 321h1M361 321h1M365 321h1M369 321h2M393 321h1M312 322h1M322 322h2M370 322h2M373 322h2M377 322h1M398 322h1M312 323h1M368 323h2M374 323h1M380 323h1M393 323h1M311 324h1M318 324h2M370 324h1M375 324h1M378 324h1M382 324h1M311 325h2M316 325h1M360 325h1M362 325h1M365 325h1M371 325h1M373 325h1M314 326h2M361 326h1M367 326h1M374 326h2M377 326h1M312 327h1M316 327h1M364 327h1M375 327h1M380 327h1M360 328h1M370 328h1M375 328h1M384 328h1M311 329h1M360 329h1M362 329h1M385 329h1M313 330h1M361 330h1M367 330h1M374 330h1M379 330h1M385 330h1M391 330h1M310 331h1M367 331h1M369 331h1M376 331h1M379 331h1M381 331h1M388 331h1M391 331h1M361 332h1M363 332h1M368 332h2M373 332h2M383 332h1M385 332h2M361 333h1M364 333h1M366 333h1M369 333h1M381 333h1M389 333h1M360 334h3M369 334h2M372 334h1M382 334h1M386 334h1M395 334h1M362 335h1M365 335h2M368 335h1M384 335h1M390 335h1M361 336h1M372 336h1M374 336h1M386 336h1M389 336h1M359 337h1M367 337h1M375 337h1M377 337h1M381 337h2M390 337h1M361 338h1M367 338h3M371 338h2M374 338h3M384 338h1M387 338h1M359 339h1M378 339h1M380 339h1M387 339h1M365 340h1M369 340h1M376 340h1M378 340h2M382 340h1M384 340h1M387 340h1M362 341h1M364 341h1M368 341h2M379 341h1M381 341h1M387 341h1M395 341h1M359 342h1M364 342h1M367 342h1M372 342h1M375 342h1M378 342h1M381 342h1M389 342h1M391 342h1M367 343h1M370 343h1M373 343h3M382 343h1M393 343h1M366 344h1M370 344h1M374 344h1M376 344h1M385 344h1M387 344h2M390 344h1M392 344h1M395 344h1M356 345h1M361 345h1M364 345h1M368 345h1M375 345h2M378 345h1M381 345h1M383 345h1M356 346h2M360 346h1M371 346h1M377 346h1M380 346h3M360 347h1M365 347h1M367 347h2M371 347h2M377 347h2M380 347h1M384 347h1M389 347h1M392 347h1M356 348h1M360 348h1M367 348h1M370 348h1M372 348h1M376 348h1M383 348h1M390 348h1M393 348h1M353 349h1M357 349h2M365 349h1M373 349h1M376 349h2M379 349h1M382 349h1M384 349h1M356 350h2M360 350h1M362 350h1M371 350h2M393 350h1M354 351h1M357 351h1M359 351h1M362 351h1M365 351h1M369 351h1M372 351h1M375 351h1M377 351h1M386 351h2M356 352h1M360 352h1M370 352h2M376 352h2M384 352h1M351 353h1M354 353h2M363 353h1M369 353h1M373 353h1M376 353h1M378 353h2M381 353h1M384 353h2M360 354h2M365 354h1M367 354h2M371 354h1M373 354h2M380 354h1M387 354h1M348 355h1M357 355h1M360 355h1M367 355h1M374 355h1M376 355h1M380 355h1M368 356h1M374 356h2M381 356h1M385 356h1M387 356h1M392 356h1M366 357h1M369 357h1M372 357h1M374 357h1M378 357h3M382 357h1M387 357h1M389 357h1M395 357h1M397 357h1M351 358h1M362 358h1M369 358h2M373 358h1M377 358h1M381 358h1M383 358h1M385 358h3M368 359h1M370 359h1M375 359h1M377 359h2M384 359h1M387 359h1M390 359h1M397 359h1M348 360h1M354 360h1M367 360h1M371 360h1M374 360h2M380 360h1M388 360h2M393 360h1M396 360h1M367 361h2M371 361h1M375 361h3M379 361h1M383 361h1M385 361h1M388 361h1M391 361h1M357 362h1M360 362h2M369 362h1M373 362h1M378 362h2M382 362h1M389 362h1M366 363h1M369 363h2M372 363h1M375 363h2M382 363h1M396 363h1M343 364h1M346 364h1M362 364h1M366 364h1M373 364h3M379 364h1M382 364h1M311 365h1M366 365h1M372 365h2M375 365h1M381 365h1M311 366h1M341 366h2M350 366h1M363 366h1M370 366h1M372 366h1M377 366h1M379 366h1M391 366h1M311 367h2M340 367h1M342 367h1M346 367h1M358 367h1M369 367h1M371 367h2M374 367h1M390 367h1M392 367h1M312 368h1M314 368h1M339 368h1M342 368h1M372 368h1M374 368h1M388 368h1M340 369h1M370 369h1M388 369h1M316 370h1M358 370h1M362 370h1M364 370h1M373 370h1M376 370h1M381 370h2M385 370h1M319 371h1M332 371h1M358 371h1M361 371h1M374 371h1M379 371h1M381 371h1M386 371h1M312 372h2M315 372h1M325 372h1M328 372h1M334 372h1M349 372h1M361 372h1M379 372h1M386 372h1M330 373h1M357 373h1M361 373h1M380 373h1M383 373h1M388 373h1M317 374h1M341 374h1M350 374h1M375 374h1M381 374h1M392 374h1M321 375h1M376 375h1M386 375h1M361 376h1M370 376h3M385 376h1M358 377h1M361 377h1M371 377h1M373 377h2M376 377h1M382 377h1M334 378h1M344 378h1M349 378h1M352 378h1M365 378h1M381 378h1M387 378h1M397 378h1M339 379h1M356 379h2M359 379h1M366 379h3M373 379h1M378 379h1M388 379h1M393 379h1M337 380h1M343 380h1M354 380h1M341 381h1M357 381h1M372 381h1M380 381h1M334 382h1M348 382h1M365 382h1M380 382h1M365 383h1M391 383h1M348 384h1M375 384h1M394 384h1" stroke="#555"/>
<path d="M388 275h1M386 276h1M362 277h1M392 277h1M378 278h1M381 278h1M392 278h2M375 279h1M383 279h3M393 279h1M396 279h1M356 280h1M383 280h1M387 280h1M394 280h1M327 281h1M331 281h1M359 281h1M378 281h1M386 281h2M392 281h1M395 281h1M371 282h2M393 282h1M395 282h1M311 283h2M320 283h1M363 283h1M312 284h1M341 284h1M343 284h1M351 284h1M354 284h1M363 284h2M368 284h1M371 284h1M315 285h1M320 285h3M328 285h1M352 285h1M358 285h1M364 285h1M368 285h1M396 285h1M322 286h1M329 286h1M332 286h1M343 286h1M346 286h1M349 286h1M353 286h1M355 286h1M358 286h1M367 286h1M313 287h1M316 287h1M321 287h1M334 287h1M342 287h1M353 287h1M366 287h1M343 288h1M346 288h1M359 288h1M364 288h1M315 289h1M319 289h1M334 289h1M336 289h1M360 289h2M398 289h1M315 290h1M324 290h1M332 290h1M344 290h1M359 290h2M317 291h1M328 291h1M330 291h1M335 291h1M345 291h1M348 291h1M361 291h1M312 292h1M325 292h1M338 292h3M351 293h1M359 293h1M316 294h1M320 294h2M316 295h1M319 295h1M317 297h1M317 298h1M398 299h1M311 300h1M313 301h1M314 303h1M315 305h1M316 306h1M396 306h1M398 307h1M396 308h1M313 309h1M315 309h1M317 309h1M395 309h1M310 310h1M316 311h1M395 311h1M318 312h1M314 313h1M396 313h1M312 314h1M317 314h1M395 314h1M316 315h1M320 315h1M392 315h1M389 316h1M311 317h1M322 317h1M363 317h1M362 318h1M323 319h1M361 319h1M314 320h1M318 320h1M371 320h1M384 320h1M315 321h2M366 321h1M372 321h2M375 321h1M377 321h1M318 322h1M369 322h1M380 322h1M386 322h1M311 323h1M361 323h1M388 323h1M392 323h1M310 324h1M313 324h1M317 324h1M376 324h1M379 324h2M374 325h1M312 326h1M376 326h1M385 326h1M361 329h1M368 329h1M372 329h1M379 329h1M311 332h1M389 332h1M311 333h1M363 334h1M377 334h1M385 334h1M382 335h1M369 337h1M371 337h1M387 337h1M377 338h1M382 338h1M368 339h1M374 339h1M377 339h1M385 339h1M391 339h1M361 340h1M366 341h2M360 342h1M388 342h1M395 342h1M377 343h1M384 343h1M357 344h1M363 344h1M367 344h1M379 344h1M372 345h1M368 346h1M376 346h1M379 346h1M355 347h1M374 347h1M385 347h1M382 348h1M384 348h1M373 350h1M375 350h1M356 351h1M380 352h1M393 352h1M366 353h1M377 353h1M372 354h1M362 355h1M371 355h3M379 356h1M382 356h1M365 357h1M347 358h1M361 358h1M378 358h1M345 359h1M380 359h1M383 359h1M370 360h1M373 360h1M352 361h1M363 361h1M359 362h1M372 362h1M396 362h1M357 363h1M360 363h1M387 363h1M349 364h1M368 364h1M342 365h1M344 365h1M352 365h2M367 365h1M371 365h1M391 365h1M351 366h2M365 366h1M390 366h1M313 367h1M373 367h1M313 368h1M338 368h1M392 368h1M335 369h1M338 369h1M346 369h1M379 369h1M315 370h1M333 370h1M378 370h1M380 370h1M391 370h1M311 371h1M333 371h1M335 371h1M337 371h1M341 371h1M343 371h1M316 372h1M322 372h1M324 372h1M329 372h1M331 372h1M338 372h1M355 372h1M373 372h1M328 373h1M334 373h1M352 373h1M367 373h1M376 373h1M381 373h1M320 374h1M377 374h1M338 375h1M345 375h1M362 375h2M366 375h1M387 375h1M360 376h1M364 376h1M340 377h1M344 377h1M372 377h1M392 377h1M339 378h1M361 378h1M363 378h1M369 378h2M334 379h1M362 379h1M382 379h1M341 380h1M342 381h1M349 382h1M351 382h1M362 382h1M340 383h1M343 385h1M366 385h1" stroke="#999"/>
<path d="M391 272h1M354 280h1M386 280h1M389 280h1M344 281h1M356 281h1M382 281h1M388 281h1M390 281h1M356 283h1M361 283h1M325 284h1M345 284h1M370 284h1M327 285h1M335 285h1M339 285h1M369 285h1M398 285h1M340 286h1M347 286h1M339 287h2M347 287h1M320 288h1M327 288h1M344 288h1M332 289h1M356 289h1M316 290h1M343 290h1M359 291h1M315 292h1M314 293h1M317 293h1M315 297h1M397 300h1M395 306h1M315 308h1M311 311h1M314 311h1M312 313h1M394 317h1M322 320h1M376 321h1M378 321h1M381 321h1M364 322h1M384 322h1M398 323h1M320 324h1M371 324h1M373 324h1M313 326h1M371 327h1M314 329h1M383 330h1M392 330h1M366 331h1M360 332h1M379 332h1M380 336h1M361 339h1M371 339h1M358 340h1M364 340h1M370 340h1M375 341h1M378 341h1M386 341h1M373 342h1M376 342h1M379 342h1M400 342h1M364 343h1M382 344h1M393 344h1M358 345h1M363 345h1M367 346h1M363 347h1M354 348h1M374 349h1M381 349h1M387 349h1M359 350h1M366 350h1M376 351h1M372 352h1M385 352h1M370 353h1M380 353h1M362 354h1M384 354h1M369 355h1M352 356h1M372 356h1M377 356h1M394 356h1M347 357h1M368 357h1M366 359h1M369 359h1M371 359h2M376 360h1M372 361h1M348 362h1M355 362h1M377 362h1M373 363h1M385 363h1M388 363h1M389 364h1M363 365h1M374 365h1M366 366h1M388 366h1M364 367h1M370 367h1M341 368h1M351 368h1M376 368h1M374 369h1M335 370h1M337 370h1M370 370h1M383 370h1M318 371h1M347 373h1M323 374h1M336 374h1M394 374h1M328 375h1M373 375h1M353 376h1M366 377h1M356 378h1M377 378h1M385 378h1M338 379h1M367 380h1M375 381h1M396 382h1M369 383h1M379 383h1M391 385h1" stroke="#d0d0d0"/>
</g>
<g clip-path="url(#cp4)" fill="none" stroke="#111" stroke-width="0.95">
<path d="M328.2,372.3 327.8,372.3 327.2,372.4 326.8,372.5 326.2,372.5 325.8,372.5 325.2,372.5 324.8,372.5 324.2,372.4 323.8,372.4 323.2,372.3 322.8,372.2 322.5,372.2 322.0,372.1 321.7,372.0 321.2,371.9 320.8,371.8 320.5,371.7 320.1,371.5 319.8,371.4 319.4,371.2 319.0,371.1 318.8,371.0 318.3,370.8 318.0,370.6 317.8,370.5 317.4,370.2 317.0,370.0 316.8,369.9 316.5,369.7 316.2,369.5 315.8,369.2 315.5,369.0 315.2,368.8 315.0,368.6 314.8,368.4 314.5,368.2 314.2,368.0 314.0,367.8 313.7,367.5 313.4,367.2 313.2,367.0 313.0,366.8 312.7,366.5 312.5,366.2 312.2,366.0 312.0,365.7 311.8,365.4 311.5,365.0 311.3,364.8 311.1,364.5 310.9,364.2 310.7,364.0 310.5,363.6 310.3,363.2 310.1,363.0 309.9,362.8 309.8,362.4 309.5,362.0 309.4,361.8 309.2,361.5 309.0,361.0 308.9,360.8 308.8,360.5 308.5,360.0 308.4,359.8 308.2,359.3 308.1,359.0 308.0,358.6 307.9,358.2 307.8,357.9 307.6,357.5 307.5,357.1 307.4,356.8 307.3,356.2 307.2,356.0 307.1,355.5 307.0,355.1 306.9,354.8 306.8,354.2 306.8,353.8 306.7,353.5 306.6,353.0 306.6,352.5 306.5,352.0 306.5,351.6 306.5,351.2 306.4,350.8 306.4,350.2 306.4,349.8 306.4,349.2 306.4,348.8 306.5,348.2 306.5,347.8 306.5,347.5 306.5,347.0 306.6,346.5 306.7,346.0 306.7,345.5 306.8,345.2 306.9,344.8 307.0,344.2 307.0,344.0 307.1,343.5 307.2,343.0 307.3,342.8 307.4,342.2 307.5,342.0 307.7,341.5 307.8,341.2 307.9,340.8 308.0,340.5 308.2,340.0 308.3,339.8 308.5,339.3 308.6,339.0 308.8,338.7 309.0,338.2 309.1,338.0 309.2,337.7 309.5,337.2 309.6,337.0 309.8,336.7 310.0,336.3 310.2,336.0 310.3,335.8 310.5,335.4 310.8,335.1 311.0,334.8 311.1,334.5 311.3,334.2 311.5,334.0 311.8,333.6 312.0,333.3 312.2,333.0 312.4,332.8 312.7,332.5 312.9,332.2 313.1,332.0 313.3,331.8 313.5,331.5 313.8,331.2 314.0,331.0 314.2,330.7 314.5,330.5 314.8,330.2 315.0,330.0 315.3,329.8 315.6,329.5 315.8,329.2 316.1,329.0 316.4,328.8 316.7,328.5 317.0,328.3 317.2,328.1 317.5,327.9 317.8,327.7 318.0,327.5 318.3,327.2 318.7,327.0 319.0,326.8 319.2,326.6 319.5,326.4 319.8,326.2 320.1,326.0 320.4,325.8 320.8,325.5 321.0,325.3 321.2,325.2 321.5,325.0 321.8,324.8 322.1,324.5 322.5,324.2 322.8,324.0 323.0,323.8 323.2,323.6 323.5,323.3 323.8,323.1 324.0,322.8 324.2,322.5 324.3,322.2 324.5,321.8 324.5,321.5 324.5,321.0 324.5,320.7 324.4,320.2 324.2,319.9 324.0,319.5 323.9,319.2 323.8,319.0 323.5,318.6 323.2,318.3 323.1,318.0 322.9,317.8 322.7,317.5 322.5,317.2 322.2,316.9 322.0,316.6 321.8,316.3 321.5,316.0 321.3,315.8 321.2,315.5 321.0,315.2 320.8,314.9 320.5,314.6 320.3,314.2 320.1,314.0 319.9,313.8 319.8,313.5 319.5,313.1 319.3,312.8 319.2,312.5 319.0,312.2 318.8,311.8 318.6,311.5 318.5,311.2 318.3,310.8 318.1,310.5 318.0,310.2 317.8,309.8 317.7,309.5 317.5,309.0 317.4,308.8 317.2,308.3 317.2,308.0 317.0,307.5 316.9,307.2 316.8,306.8 316.7,306.5 316.6,306.0 316.5,305.5 316.5,305.2 316.4,304.8 316.4,304.2 316.3,303.8 316.3,303.2 316.3,302.8 316.4,302.2 316.4,301.8 316.5,301.4 316.6,301.0 316.7,300.5 316.8,300.2 317.0,299.8 317.1,299.5 317.2,299.1 317.4,298.8 317.6,298.5 317.8,298.2 318.0,297.9 318.2,297.5 318.5,297.2 318.7,297.0 318.9,296.8 319.2,296.5 319.4,296.2 319.7,296.0 320.0,295.8 320.2,295.6 320.5,295.4 320.8,295.2 321.1,295.0 321.5,294.8 321.8,294.7 322.0,294.5 322.5,294.3 322.8,294.2 323.2,294.0 323.5,293.9 323.9,293.8 324.2,293.6 324.7,293.5 325.0,293.4 325.5,293.3 325.8,293.2 326.2,293.2 326.8,293.1 327.2,293.0 327.5,293.0 328.0,293.0 328.5,292.9 329.0,292.9 329.5,292.9 330.0,292.9 330.5,292.9 331.0,292.9 331.5,292.9 332.0,293.0 332.5,293.0 332.8,293.0 333.2,293.0 333.8,293.1 334.2,293.1 334.8,293.1 335.2,293.1 335.8,293.1 336.2,293.1 336.8,293.1 337.2,293.1 337.8,293.1 338.2,293.1 338.8,293.1 339.2,293.1 339.8,293.1 340.2,293.0 340.7,293.0 341.0,293.0 341.5,293.0 342.0,292.9 342.5,292.9 343.0,292.9 343.5,292.9 344.0,292.9 344.5,292.9 345.0,293.0 345.5,293.0 345.8,293.0 346.2,293.1 346.8,293.1 347.2,293.2 347.5,293.3 348.0,293.3 348.5,293.5 348.8,293.5 349.2,293.6 349.7,293.8 350.0,293.8 350.5,294.0 350.8,294.1 351.2,294.2 351.5,294.3 351.9,294.5 352.2,294.6 352.6,294.8 353.0,294.9 353.3,295.0 353.8,295.2 354.0,295.2 354.5,295.4 354.9,295.5 355.2,295.6 355.8,295.7 356.2,295.7 356.8,295.7 357.2,295.6 357.6,295.5 358.0,295.3 358.2,295.2 358.6,295.0 359.0,294.8 359.2,294.6 359.5,294.4 359.8,294.2 360.0,293.9 360.2,293.7 360.5,293.5 360.8,293.2 361.0,293.0 361.3,292.8 361.5,292.5 361.8,292.2 362.0,292.0 362.3,291.8 362.5,291.5 362.8,291.2 363.1,291.0 363.3,290.8 363.6,290.5 363.9,290.2 364.2,290.0 364.5,289.8 364.8,289.5 365.0,289.3 365.2,289.1 365.5,288.9 365.8,288.7 366.1,288.5 366.4,288.2 366.8,288.0 367.0,287.9 367.2,287.7 367.6,287.5 368.0,287.3 368.2,287.1 368.5,287.0 369.0,286.8 369.2,286.6 369.6,286.5 370.0,286.3 370.2,286.2 370.8,286.0 371.0,285.9 371.5,285.8 371.8,285.7 372.2,285.5 372.5,285.5 373.0,285.3 373.4,285.2 373.8,285.2 374.2,285.1 374.5,285.0 375.0,284.9 375.5,284.8 375.9,284.8 376.2,284.7 376.8,284.6 377.2,284.5 377.5,284.4 378.0,284.3 378.3,284.2 378.8,284.1 379.2,284.0 379.5,283.9 380.0,283.8 380.2,283.7 380.8,283.6 381.0,283.5 381.5,283.3 381.8,283.2 382.2,283.0 382.5,283.0 383.0,282.8 383.2,282.7 383.8,282.5 384.0,282.5 384.5,282.3 384.8,282.2 385.2,282.1 385.7,282.0 386.0,281.9 386.5,281.8 387.0,281.8 387.2,281.7 387.8,281.7 388.2,281.6 388.8,281.6 389.2,281.6 389.8,281.6 390.2,281.7 390.8,281.7 391.0,281.8 391.5,281.9 391.8,282.0 392.2,282.1 392.5,282.2 393.0,282.5 393.2,282.6 393.5,282.8 394.0,283.0 394.2,283.2 394.5,283.4 394.8,283.6 395.0,283.8 395.2,284.1 395.5,284.3 395.8,284.6 396.0,284.9 396.2,285.2 396.4,285.5 396.5,285.8 396.8,286.1 396.9,286.5 397.1,286.8 397.2,287.2 397.4,287.5 397.5,287.9 397.6,288.2 397.8,288.7 397.8,289.0 397.9,289.5 398.0,289.9 398.1,290.2 398.1,290.8 398.2,291.2 398.2,291.8 398.2,292.2 398.2,292.8 398.2,293.2 398.2,293.8 398.2,294.2 398.2,294.8 398.1,295.2 398.0,295.8 398.0,296.1 397.9,296.5 397.9,297.0 397.8,297.5 397.7,297.8 397.6,298.2 397.5,298.8 397.5,299.0 397.3,299.5 397.2,299.9 397.2,300.2 397.0,300.8 397.0,301.0 396.8,301.5 396.8,301.8 396.6,302.2 396.5,302.7 396.4,303.0 396.2,303.5 396.2,303.8 396.0,304.2 395.9,304.5 395.8,305.0 395.7,305.2 395.5,305.8 395.4,306.0 395.3,306.5 395.2,306.8 395.0,307.2 394.9,307.5 394.8,307.9 394.6,308.2 394.5,308.5 394.3,309.0 394.2,309.2 394.0,309.7 393.9,310.0 393.7,310.2 393.5,310.7 393.3,311.0 393.2,311.2 393.0,311.6 392.8,312.0 392.6,312.2 392.5,312.5 392.2,312.8 392.0,313.2 391.8,313.5 391.6,313.8 391.4,314.0 391.2,314.2 391.0,314.5 390.8,314.8 390.5,315.1 390.2,315.3 390.0,315.6 389.8,315.8 389.5,316.1 389.2,316.3 389.0,316.5 388.8,316.8 388.5,317.0 388.1,317.2 387.8,317.5 387.5,317.7 387.2,317.9 387.0,318.1 386.7,318.2 386.3,318.5 386.0,318.7 385.8,318.8 385.4,319.0 385.0,319.2 384.8,319.3 384.4,319.5 384.0,319.7 383.8,319.8 383.2,320.0 383.0,320.1 382.5,320.2 382.2,320.3 381.8,320.4 381.5,320.5 381.0,320.6 380.5,320.7 380.2,320.8 379.8,320.9 379.2,320.9 378.8,321.0 378.5,321.0 378.0,321.1 377.5,321.1 377.0,321.1 376.5,321.1 376.0,321.1 375.5,321.1 375.0,321.0 374.8,321.0 374.2,320.9 373.8,320.9 373.2,320.8 373.0,320.7 372.5,320.6 372.0,320.5 371.8,320.5 371.2,320.3 370.9,320.2 370.5,320.1 370.0,320.0 369.8,319.9 369.3,319.8 369.0,319.7 368.6,319.5 368.2,319.4 367.9,319.2 367.5,319.1 367.2,319.0 366.8,318.8 366.5,318.7 366.1,318.5 365.8,318.3 365.5,318.2 365.0,318.0 364.8,317.9 364.4,317.8 364.0,317.5 363.8,317.4 363.3,317.2 363.0,317.1 362.7,317.0 362.2,316.8 362.0,316.7 361.5,316.6 361.0,316.5 360.5,316.6 360.0,316.8 359.8,317.0 359.6,317.2 359.4,317.5 359.3,318.0 359.2,318.2 359.2,318.8 359.2,319.2 359.2,319.8 359.2,320.2 359.2,320.8 359.3,321.0 359.3,321.5 359.4,322.0 359.5,322.5 359.5,322.8 359.6,323.2 359.6,323.8 359.7,324.2 359.8,324.6 359.8,325.0 359.9,325.5 359.9,326.0 360.0,326.5 360.0,326.8 360.0,327.2 360.1,327.8 360.1,328.2 360.1,328.8 360.2,329.2 360.2,329.8 360.2,330.2 360.2,330.8 360.2,331.2 360.2,331.8 360.1,332.2 360.1,332.8 360.0,333.2 360.0,333.7 360.0,334.0 359.9,334.5 359.8,335.0 359.8,335.5 359.7,335.8 359.6,336.2 359.5,336.8 359.5,337.0 359.3,337.5 359.2,337.8 359.1,338.2 359.0,338.7 358.9,339.0 358.8,339.5 358.7,339.8 358.5,340.2 358.4,340.5 358.2,340.9 358.1,341.2 358.0,341.5 357.8,342.0 357.7,342.2 357.5,342.7 357.3,343.0 357.2,343.2 357.0,343.7 356.8,344.0 356.7,344.2 356.5,344.6 356.3,345.0 356.1,345.2 356.0,345.5 355.8,345.9 355.5,346.2 355.3,346.5 355.2,346.8 355.0,347.0 354.8,347.4 354.5,347.7 354.3,348.0 354.1,348.2 353.9,348.5 353.7,348.8 353.5,349.1 353.2,349.4 353.0,349.7 352.8,350.0 352.6,350.2 352.4,350.5 352.2,350.8 352.0,351.0 351.7,351.2 351.5,351.5 351.2,351.8 351.0,352.1 350.8,352.4 350.5,352.7 350.3,353.0 350.1,353.2 349.8,353.5 349.6,353.8 349.4,354.0 349.2,354.2 349.0,354.5 348.8,354.8 348.5,355.1 348.2,355.4 348.0,355.7 347.8,356.0 347.6,356.2 347.4,356.5 347.2,356.8 347.0,357.0 346.8,357.3 346.5,357.6 346.2,357.9 346.0,358.2 345.8,358.5 345.6,358.8 345.4,359.0 345.2,359.2 345.0,359.5 344.8,359.8 344.5,360.1 344.2,360.4 344.0,360.8 343.8,361.0 343.6,361.2 343.4,361.5 343.2,361.8 343.0,362.0 342.8,362.3 342.5,362.6 342.2,362.9 342.0,363.2 341.8,363.5 341.5,363.8 341.3,364.0 341.1,364.2 340.9,364.5 340.7,364.8 340.4,365.0 340.2,365.2 339.9,365.5 339.7,365.8 339.5,366.0 339.2,366.2 338.9,366.5 338.7,366.8 338.4,367.0 338.1,367.2 337.8,367.5 337.5,367.8 337.2,368.0 337.0,368.2 336.8,368.4 336.5,368.6 336.2,368.8 335.9,369.0 335.6,369.2 335.2,369.5 335.0,369.6 334.8,369.8 334.4,370.0 334.0,370.2 333.8,370.4 333.5,370.5 333.0,370.7 332.8,370.9 332.4,371.0 332.0,371.2 331.8,371.3 331.2,371.5 331.0,371.6 330.5,371.7 330.2,371.8 329.8,372.0 329.5,372.0 329.0,372.1 328.5,372.2 328.2,372.3Z"/>
<path d="M327.8,370.5 327.2,370.6 326.8,370.7 326.2,370.7 325.8,370.7 325.2,370.7 324.8,370.7 324.2,370.7 323.8,370.7 323.2,370.6 322.8,370.5 322.5,370.5 322.0,370.4 321.6,370.2 321.2,370.2 320.8,370.0 320.5,369.9 320.1,369.8 319.8,369.6 319.5,369.5 319.0,369.3 318.8,369.2 318.4,369.0 318.0,368.8 317.8,368.6 317.5,368.5 317.1,368.2 316.8,368.0 316.5,367.8 316.2,367.6 316.0,367.5 315.7,367.2 315.4,367.0 315.1,366.8 314.9,366.5 314.6,366.2 314.3,366.0 314.1,365.8 313.8,365.5 313.6,365.2 313.4,365.0 313.2,364.8 312.9,364.5 312.7,364.2 312.5,363.9 312.2,363.6 312.0,363.3 311.8,363.0 311.7,362.8 311.5,362.5 311.2,362.1 311.0,361.8 310.9,361.5 310.8,361.2 310.5,360.8 310.4,360.5 310.2,360.2 310.0,359.8 309.9,359.5 309.8,359.2 309.6,358.8 309.5,358.5 309.3,358.0 309.2,357.8 309.0,357.2 309.0,357.0 308.8,356.5 308.7,356.2 308.6,355.8 308.5,355.3 308.4,355.0 308.3,354.5 308.2,354.1 308.2,353.8 308.1,353.2 308.1,352.8 308.0,352.2 308.0,352.0 307.9,351.5 307.9,351.0 307.9,350.5 307.9,350.0 307.9,349.5 307.9,349.0 307.9,348.5 308.0,348.0 308.0,347.6 308.0,347.2 308.1,346.8 308.2,346.2 308.2,345.8 308.3,345.5 308.4,345.0 308.5,344.5 308.6,344.2 308.7,343.8 308.8,343.5 308.9,343.0 309.0,342.7 309.1,342.2 309.2,341.9 309.4,341.5 309.5,341.2 309.7,340.8 309.8,340.5 310.0,340.1 310.2,339.8 310.3,339.5 310.5,339.1 310.7,338.8 310.8,338.5 311.0,338.1 311.2,337.8 311.4,337.5 311.6,337.2 311.8,336.9 312.0,336.6 312.2,336.2 312.4,336.0 312.6,335.8 312.8,335.5 313.0,335.2 313.2,335.0 313.5,334.7 313.8,334.4 314.0,334.1 314.2,333.8 314.5,333.6 314.8,333.3 315.0,333.1 315.2,332.9 315.5,332.6 315.8,332.4 316.0,332.2 316.3,332.0 316.6,331.8 316.9,331.5 317.2,331.2 317.5,331.0 317.8,330.9 318.0,330.7 318.3,330.5 318.7,330.2 319.0,330.1 319.2,329.9 319.5,329.8 320.0,329.5 320.2,329.3 320.5,329.2 320.9,329.0 321.2,328.8 321.5,328.7 321.9,328.5 322.2,328.4 322.5,328.2 323.0,328.0 323.2,327.9 323.7,327.8 324.0,327.6 324.3,327.5 324.8,327.4 325.0,327.2 325.5,327.1 325.8,327.0 326.2,326.8 326.5,326.8 327.0,326.6 327.4,326.5 327.8,326.4 328.2,326.2 328.5,326.2 329.0,326.0 329.2,325.9 329.8,325.8 330.0,325.7 330.5,325.6 330.8,325.5 331.2,325.3 331.5,325.2 332.0,325.1 332.2,325.0 332.7,324.8 333.0,324.6 333.2,324.5 333.6,324.2 334.0,324.0 334.2,323.8 334.5,323.5 334.7,323.2 334.8,323.0 334.9,322.5 334.8,322.0 334.6,321.8 334.5,321.5 334.2,321.2 333.9,321.0 333.6,320.8 333.2,320.5 333.0,320.4 332.8,320.2 332.3,320.0 332.0,319.8 331.8,319.7 331.4,319.5 331.0,319.3 330.8,319.2 330.4,319.0 330.0,318.8 329.8,318.7 329.4,318.5 329.0,318.3 328.8,318.1 328.5,318.0 328.1,317.8 327.8,317.5 327.5,317.4 327.2,317.2 326.9,317.0 326.5,316.8 326.2,316.5 326.0,316.4 325.8,316.2 325.5,316.0 325.2,315.8 324.9,315.5 324.6,315.2 324.3,315.0 324.1,314.8 323.8,314.5 323.6,314.2 323.3,314.0 323.1,313.8 322.9,313.5 322.7,313.2 322.4,313.0 322.2,312.8 322.0,312.4 321.8,312.1 321.5,311.8 321.3,311.5 321.2,311.2 321.0,311.0 320.8,310.5 320.6,310.2 320.5,310.0 320.2,309.6 320.1,309.2 320.0,309.0 319.8,308.5 319.7,308.2 319.5,307.8 319.4,307.5 319.3,307.0 319.2,306.8 319.1,306.2 319.0,305.9 318.9,305.5 318.9,305.0 318.8,304.5 318.8,304.0 318.8,303.5 318.8,303.0 318.9,302.5 318.9,302.0 319.0,301.7 319.1,301.2 319.2,300.9 319.4,300.5 319.5,300.2 319.8,299.8 319.9,299.5 320.1,299.2 320.2,299.0 320.5,298.6 320.8,298.3 321.0,298.1 321.2,297.8 321.5,297.6 321.8,297.4 322.0,297.2 322.3,297.0 322.6,296.8 323.0,296.5 323.2,296.4 323.5,296.2 324.0,296.0 324.2,295.9 324.7,295.8 325.0,295.7 325.5,295.5 325.8,295.4 326.2,295.3 326.6,295.2 327.0,295.2 327.5,295.1 328.0,295.1 328.5,295.0 328.9,295.0 329.2,295.0 329.8,295.0 330.2,295.0 330.7,295.0 331.0,295.0 331.5,295.0 332.0,295.1 332.5,295.1 333.0,295.1 333.5,295.2 334.0,295.2 334.5,295.2 334.8,295.3 335.2,295.3 335.8,295.3 336.2,295.3 336.8,295.3 337.2,295.3 337.8,295.3 338.2,295.3 338.5,295.2 339.0,295.2 339.5,295.2 340.0,295.2 340.5,295.1 341.0,295.1 341.5,295.1 342.0,295.0 342.5,295.0 343.0,295.0 343.5,295.0 344.0,295.0 344.5,295.0 345.0,295.1 345.5,295.1 346.0,295.2 346.5,295.2 346.8,295.3 347.2,295.4 347.8,295.5 348.0,295.6 348.5,295.7 348.8,295.8 349.2,296.0 349.5,296.1 350.0,296.2 350.2,296.4 350.5,296.5 351.0,296.7 351.2,296.9 351.5,297.0 351.9,297.2 352.2,297.4 352.5,297.6 352.8,297.8 353.1,298.0 353.5,298.2 353.8,298.5 354.0,298.6 354.2,298.8 354.5,299.0 354.8,299.2 355.2,299.5 355.5,299.7 355.8,299.9 356.0,300.0 356.5,300.2 356.8,300.3 357.2,300.3 357.6,300.2 358.0,300.1 358.2,299.9 358.5,299.7 358.8,299.5 359.0,299.2 359.2,298.9 359.5,298.6 359.8,298.3 360.0,298.0 360.2,297.8 360.3,297.5 360.5,297.2 360.8,296.9 361.0,296.6 361.2,296.3 361.5,296.0 361.6,295.8 361.8,295.5 362.0,295.2 362.2,295.0 362.5,294.6 362.8,294.3 363.0,294.0 363.2,293.8 363.5,293.5 363.7,293.2 363.9,293.0 364.1,292.8 364.4,292.5 364.6,292.2 364.9,292.0 365.2,291.8 365.4,291.5 365.7,291.2 366.0,291.0 366.2,290.8 366.5,290.6 366.8,290.4 367.0,290.2 367.3,290.0 367.6,289.8 368.0,289.5 368.2,289.4 368.5,289.2 368.9,289.0 369.2,288.8 369.5,288.7 369.8,288.5 370.2,288.3 370.5,288.2 370.9,288.0 371.2,287.9 371.6,287.8 372.0,287.6 372.3,287.5 372.8,287.3 373.1,287.2 373.5,287.1 374.0,287.0 374.2,286.9 374.8,286.8 375.0,286.7 375.5,286.6 375.9,286.5 376.2,286.4 376.8,286.3 377.0,286.2 377.5,286.0 377.8,286.0 378.2,285.8 378.5,285.7 379.0,285.5 379.2,285.4 379.7,285.2 380.0,285.1 380.3,285.0 380.8,284.8 381.0,284.7 381.5,284.5 381.8,284.4 382.1,284.2 382.5,284.1 382.8,284.0 383.2,283.8 383.5,283.7 384.0,283.5 384.2,283.4 384.8,283.3 385.0,283.2 385.5,283.0 385.8,283.0 386.2,282.9 386.8,282.8 387.0,282.7 387.5,282.6 388.0,282.6 388.5,282.6 389.0,282.6 389.5,282.6 390.0,282.6 390.5,282.7 390.8,282.8 391.2,282.9 391.6,283.0 392.0,283.1 392.3,283.2 392.8,283.5 393.0,283.6 393.2,283.8 393.6,284.0 393.9,284.2 394.2,284.5 394.5,284.7 394.8,285.0 395.0,285.2 395.2,285.5 395.4,285.8 395.6,286.0 395.8,286.3 396.0,286.7 396.2,287.0 396.3,287.2 396.5,287.8 396.6,288.0 396.8,288.5 396.8,288.8 397.0,289.2 397.0,289.5 397.1,290.0 397.2,290.5 397.3,290.8 397.3,291.2 397.4,291.8 397.4,292.2 397.4,292.8 397.4,293.2 397.4,293.8 397.3,294.2 397.3,294.8 397.2,295.2 397.2,295.5 397.1,296.0 397.1,296.5 397.0,296.8 396.9,297.2 396.8,297.8 396.7,298.0 396.6,298.5 396.5,299.0 396.4,299.2 396.3,299.8 396.2,300.0 396.1,300.5 396.0,300.8 395.8,301.2 395.7,301.5 395.6,302.0 395.5,302.2 395.3,302.8 395.2,303.0 395.0,303.5 394.9,303.8 394.8,304.1 394.6,304.5 394.5,304.8 394.3,305.2 394.2,305.5 394.0,305.9 393.9,306.2 393.7,306.5 393.5,307.0 393.4,307.2 393.2,307.6 393.0,308.0 392.9,308.2 392.8,308.6 392.5,309.0 392.4,309.2 392.2,309.5 392.0,309.9 391.8,310.2 391.7,310.5 391.5,310.8 391.2,311.1 391.0,311.5 390.8,311.8 390.6,312.0 390.5,312.2 390.2,312.5 390.0,312.8 389.8,313.1 389.5,313.4 389.2,313.7 389.0,314.0 388.8,314.2 388.5,314.5 388.2,314.7 388.0,314.9 387.8,315.2 387.5,315.4 387.2,315.6 387.0,315.8 386.7,316.0 386.3,316.2 386.0,316.5 385.8,316.6 385.5,316.8 385.1,317.0 384.8,317.2 384.5,317.3 384.2,317.5 383.8,317.7 383.5,317.8 383.1,318.0 382.8,318.1 382.4,318.2 382.0,318.4 381.6,318.5 381.2,318.6 380.8,318.7 380.5,318.8 380.0,318.9 379.5,319.0 379.2,319.0 378.8,319.1 378.2,319.1 377.8,319.2 377.2,319.2 376.8,319.2 376.2,319.2 375.8,319.1 375.2,319.1 374.8,319.0 374.5,319.0 374.0,318.9 373.5,318.8 373.1,318.8 372.8,318.7 372.2,318.5 372.0,318.5 371.5,318.3 371.2,318.2 370.8,318.1 370.5,318.0 370.0,317.8 369.8,317.7 369.4,317.5 369.0,317.3 368.8,317.2 368.4,317.0 368.0,316.8 367.8,316.7 367.5,316.5 367.1,316.2 366.8,316.1 366.5,315.9 366.2,315.7 365.9,315.5 365.6,315.2 365.3,315.0 365.0,314.8 364.8,314.6 364.5,314.3 364.2,314.1 364.0,313.9 363.8,313.7 363.5,313.4 363.2,313.2 363.0,312.9 362.8,312.6 362.5,312.4 362.2,312.1 362.0,311.8 361.8,311.5 361.5,311.2 361.3,311.0 361.1,310.8 360.9,310.5 360.7,310.2 360.5,310.0 360.2,309.7 360.0,309.4 359.8,309.2 359.5,308.9 359.2,308.7 359.0,308.4 358.7,308.2 358.3,308.0 358.0,307.9 357.5,308.0 357.2,308.1 357.0,308.3 356.8,308.5 356.5,308.8 356.2,309.1 356.0,309.5 355.9,309.8 355.7,310.0 355.5,310.4 355.3,310.8 355.2,311.0 355.0,311.5 354.9,311.8 354.8,312.1 354.6,312.5 354.5,312.8 354.3,313.2 354.2,313.5 354.1,314.0 354.0,314.5 353.9,314.8 353.9,315.2 353.8,315.8 353.8,316.2 353.8,316.8 353.8,317.2 353.9,317.8 354.0,318.2 354.0,318.5 354.2,319.0 354.3,319.2 354.4,319.8 354.5,320.0 354.7,320.5 354.8,320.8 355.0,321.1 355.1,321.5 355.2,321.8 355.5,322.2 355.6,322.5 355.7,323.0 355.8,323.2 356.0,323.7 356.1,324.0 356.2,324.4 356.3,324.8 356.5,325.2 356.6,325.5 356.7,326.0 356.8,326.3 356.9,326.8 356.9,327.2 357.0,327.6 357.1,328.0 357.1,328.5 357.2,329.0 357.2,329.5 357.2,329.8 357.3,330.2 357.3,330.8 357.3,331.2 357.3,331.8 357.2,332.2 357.2,332.5 357.2,333.0 357.1,333.5 357.1,334.0 357.0,334.5 357.0,334.8 356.9,335.2 356.8,335.8 356.7,336.0 356.6,336.5 356.5,336.8 356.4,337.2 356.2,337.6 356.1,338.0 356.0,338.4 355.9,338.8 355.8,339.0 355.6,339.5 355.4,339.8 355.2,340.2 355.1,340.5 355.0,340.8 354.8,341.2 354.6,341.5 354.4,341.8 354.2,342.1 354.0,342.5 353.9,342.8 353.7,343.0 353.5,343.3 353.2,343.7 353.0,344.0 352.9,344.2 352.7,344.5 352.5,344.8 352.2,345.1 352.0,345.4 351.8,345.7 351.5,346.0 351.3,346.2 351.1,346.5 350.9,346.8 350.7,347.0 350.5,347.2 350.2,347.5 350.0,347.8 349.8,348.1 349.5,348.4 349.2,348.7 349.0,349.0 348.8,349.2 348.5,349.5 348.3,349.8 348.1,350.0 347.9,350.2 347.7,350.5 347.5,350.8 347.2,351.1 347.0,351.4 346.8,351.7 346.5,352.0 346.4,352.2 346.2,352.5 346.0,352.8 345.8,353.1 345.5,353.5 345.3,353.8 345.1,354.0 345.0,354.2 344.8,354.6 344.5,355.0 344.3,355.2 344.2,355.5 344.0,355.8 343.8,356.2 343.5,356.5 343.4,356.8 343.2,357.0 343.0,357.4 342.8,357.8 342.6,358.0 342.5,358.2 342.2,358.6 342.0,359.0 341.8,359.2 341.7,359.5 341.5,359.8 341.2,360.1 341.0,360.5 340.8,360.8 340.7,361.0 340.5,361.3 340.2,361.6 340.0,362.0 339.8,362.2 339.6,362.5 339.4,362.8 339.2,363.0 339.0,363.3 338.8,363.6 338.5,363.9 338.2,364.2 338.0,364.4 337.8,364.7 337.5,365.0 337.2,365.2 337.0,365.5 336.8,365.7 336.5,366.0 336.2,366.2 336.0,366.4 335.8,366.6 335.5,366.8 335.2,367.1 335.0,367.2 334.7,367.5 334.3,367.8 334.0,368.0 333.8,368.1 333.5,368.3 333.2,368.5 332.8,368.7 332.5,368.9 332.2,369.0 331.8,369.2 331.5,369.4 331.2,369.5 330.8,369.7 330.5,369.8 330.0,370.0 329.8,370.1 329.2,370.2 329.0,370.3 328.5,370.4 328.0,370.5 327.8,370.5Z"/>
<path d="M377.5,317.0 377.0,317.0 376.5,317.0 376.2,317.0 375.8,317.0 375.2,316.9 374.8,316.8 374.3,316.8 374.0,316.7 373.5,316.6 373.2,316.5 372.8,316.4 372.4,316.2 372.0,316.1 371.7,316.0 371.2,315.8 371.0,315.7 370.5,315.5 370.2,315.4 370.0,315.2 369.6,315.0 369.2,314.8 369.0,314.7 368.8,314.5 368.4,314.2 368.1,314.0 367.8,313.8 367.5,313.6 367.2,313.4 367.0,313.1 366.8,312.9 366.5,312.7 366.2,312.4 366.0,312.1 365.8,311.9 365.5,311.6 365.2,311.3 365.0,311.0 364.8,310.8 364.7,310.5 364.5,310.2 364.2,309.9 364.0,309.5 363.9,309.2 363.7,309.0 363.5,308.5 363.4,308.2 363.2,308.0 363.0,307.5 362.9,307.2 362.8,306.8 362.6,306.5 362.5,306.0 362.4,305.8 362.3,305.2 362.2,304.9 362.2,304.5 362.1,304.0 362.1,303.5 362.1,303.0 362.1,302.5 362.1,302.0 362.2,301.5 362.2,301.2 362.4,300.8 362.5,300.2 362.6,300.0 362.7,299.5 362.8,299.2 363.0,298.8 363.1,298.5 363.2,298.2 363.5,297.8 363.6,297.5 363.8,297.2 364.0,296.8 364.2,296.5 364.3,296.2 364.5,296.0 364.8,295.6 365.0,295.3 365.2,295.0 365.4,294.8 365.6,294.5 365.8,294.2 366.1,294.0 366.3,293.8 366.5,293.5 366.8,293.2 367.1,293.0 367.3,292.8 367.6,292.5 367.9,292.2 368.2,292.0 368.5,291.8 368.8,291.6 369.0,291.5 369.3,291.2 369.7,291.0 370.0,290.8 370.2,290.7 370.6,290.5 371.0,290.3 371.2,290.2 371.7,290.0 372.0,289.8 372.2,289.7 372.8,289.5 373.0,289.4 373.5,289.3 373.8,289.2 374.2,289.0 374.5,288.9 374.9,288.8 375.2,288.6 375.6,288.5 376.0,288.4 376.3,288.2 376.8,288.1 377.0,288.0 377.5,287.8 377.8,287.6 378.0,287.5 378.5,287.3 378.8,287.1 379.0,287.0 379.5,286.8 379.8,286.6 380.0,286.5 380.5,286.2 380.8,286.1 381.0,286.0 381.4,285.8 381.8,285.6 382.0,285.5 382.5,285.2 382.8,285.1 383.0,285.0 383.5,284.8 383.8,284.7 384.2,284.5 384.5,284.4 384.9,284.2 385.2,284.1 385.8,284.0 386.0,283.9 386.5,283.8 386.9,283.8 387.2,283.7 387.8,283.6 388.2,283.6 388.8,283.6 389.2,283.6 389.8,283.7 390.2,283.7 390.5,283.8 391.0,283.9 391.2,284.0 391.8,284.2 392.0,284.3 392.4,284.5 392.8,284.7 393.0,284.9 393.2,285.1 393.5,285.3 393.8,285.5 394.0,285.8 394.2,286.0 394.5,286.3 394.8,286.7 395.0,287.0 395.1,287.2 395.3,287.5 395.5,288.0 395.6,288.2 395.8,288.5 395.9,289.0 396.0,289.3 396.1,289.8 396.2,290.2 396.3,290.5 396.4,291.0 396.4,291.5 396.5,292.0 396.5,292.5 396.5,292.8 396.5,293.2 396.5,293.5 396.5,294.0 396.4,294.5 396.4,295.0 396.3,295.5 396.2,295.9 396.2,296.2 396.1,296.8 396.0,297.2 395.9,297.5 395.8,298.0 395.7,298.2 395.6,298.8 395.5,299.1 395.4,299.5 395.2,299.8 395.1,300.2 395.0,300.5 394.8,301.0 394.7,301.2 394.5,301.8 394.4,302.0 394.2,302.4 394.1,302.8 394.0,303.0 393.8,303.5 393.6,303.8 393.5,304.0 393.2,304.5 393.1,304.8 393.0,305.0 392.8,305.5 392.6,305.8 392.4,306.0 392.2,306.4 392.0,306.8 391.9,307.0 391.7,307.2 391.5,307.6 391.3,308.0 391.1,308.2 390.9,308.5 390.8,308.8 390.5,309.1 390.2,309.5 390.1,309.8 389.9,310.0 389.7,310.2 389.5,310.5 389.2,310.8 389.0,311.1 388.8,311.4 388.5,311.7 388.2,311.9 388.0,312.2 387.8,312.4 387.5,312.7 387.2,312.9 387.0,313.1 386.8,313.4 386.5,313.6 386.2,313.8 385.9,314.0 385.6,314.2 385.2,314.5 385.0,314.6 384.8,314.8 384.4,315.0 384.0,315.2 383.8,315.4 383.5,315.5 383.0,315.7 382.8,315.8 382.4,316.0 382.0,316.1 381.7,316.2 381.2,316.4 380.9,316.5 380.5,316.6 380.0,316.7 379.8,316.8 379.2,316.8 378.8,316.9 378.2,317.0 377.8,317.0 377.5,317.0Z"/>
<path d="M344.0,316.8 343.5,316.8 343.0,316.8 342.5,316.9 342.0,316.8 341.5,316.8 341.0,316.8 340.5,316.8 340.2,316.7 339.8,316.7 339.2,316.6 338.8,316.6 338.2,316.5 338.0,316.5 337.5,316.4 337.0,316.3 336.5,316.3 336.2,316.2 335.8,316.2 335.2,316.1 334.9,316.0 334.5,315.9 334.0,315.8 333.7,315.8 333.2,315.7 332.8,315.5 332.5,315.5 332.0,315.3 331.7,315.2 331.2,315.1 331.0,315.0 330.5,314.8 330.2,314.7 329.8,314.5 329.5,314.4 329.1,314.2 328.8,314.1 328.5,313.9 328.2,313.8 327.8,313.5 327.5,313.3 327.2,313.2 327.0,313.0 326.6,312.8 326.3,312.5 326.0,312.2 325.8,312.0 325.5,311.8 325.2,311.5 325.0,311.3 324.8,311.0 324.5,310.8 324.3,310.5 324.1,310.2 323.9,310.0 323.8,309.7 323.5,309.3 323.3,309.0 323.2,308.8 323.0,308.4 322.8,308.0 322.7,307.8 322.5,307.3 322.4,307.0 322.2,306.5 322.2,306.2 322.1,305.8 322.0,305.3 322.0,305.0 321.9,304.5 321.9,304.0 322.0,303.5 322.0,303.2 322.1,302.8 322.2,302.2 322.3,302.0 322.5,301.6 322.7,301.2 322.8,301.0 323.0,300.7 323.2,300.4 323.5,300.1 323.8,299.8 324.0,299.6 324.2,299.4 324.5,299.2 324.8,299.0 325.2,298.8 325.5,298.6 325.8,298.5 326.2,298.3 326.5,298.2 327.0,298.1 327.5,298.0 327.8,298.0 328.2,297.9 328.8,297.8 329.2,297.8 329.8,297.8 330.2,297.8 330.8,297.8 331.2,297.9 331.8,297.9 332.2,297.9 332.8,298.0 333.0,298.0 333.5,298.1 334.0,298.1 334.5,298.2 335.0,298.2 335.5,298.2 335.8,298.2 336.2,298.3 336.8,298.3 337.2,298.3 337.5,298.2 338.0,298.2 338.5,298.2 339.0,298.1 339.5,298.1 340.0,298.0 340.4,298.0 340.8,298.0 341.2,297.9 341.8,297.9 342.2,297.8 342.8,297.8 343.2,297.8 343.8,297.8 344.2,297.8 344.8,297.9 345.2,297.9 345.7,298.0 346.0,298.1 346.5,298.2 346.8,298.3 347.2,298.4 347.5,298.5 348.0,298.7 348.2,298.8 348.5,299.0 349.0,299.2 349.2,299.4 349.5,299.6 349.8,299.8 350.0,300.0 350.2,300.3 350.5,300.5 350.8,300.8 351.0,301.2 351.2,301.5 351.4,301.8 351.5,302.0 351.7,302.5 351.8,302.8 352.0,303.2 352.0,303.5 352.1,304.0 352.1,304.5 352.2,305.0 352.1,305.5 352.1,306.0 352.0,306.5 352.0,306.8 351.9,307.2 351.8,307.6 351.6,308.0 351.5,308.5 351.4,308.8 351.2,309.1 351.1,309.5 351.0,309.8 350.8,310.2 350.7,310.5 350.5,310.8 350.3,311.2 350.2,311.5 350.0,311.8 349.8,312.2 349.6,312.5 349.4,312.8 349.2,313.0 349.0,313.4 348.8,313.7 348.5,314.0 348.3,314.2 348.1,314.5 347.8,314.8 347.6,315.0 347.3,315.2 347.0,315.5 346.8,315.7 346.5,315.9 346.2,316.0 345.8,316.2 345.5,316.4 345.2,316.5 344.8,316.6 344.2,316.7 344.0,316.8Z"/>
<path d="M326.8,368.8 326.2,368.8 325.8,368.9 325.2,368.9 324.8,368.9 324.2,368.8 323.8,368.8 323.3,368.8 323.0,368.7 322.5,368.6 322.0,368.5 321.8,368.4 321.2,368.3 321.0,368.2 320.5,368.0 320.2,367.9 319.8,367.8 319.5,367.6 319.2,367.5 318.8,367.2 318.5,367.1 318.2,366.9 317.9,366.8 317.5,366.5 317.2,366.3 317.0,366.1 316.8,365.9 316.5,365.7 316.2,365.5 315.9,365.2 315.6,365.0 315.4,364.8 315.1,364.5 314.9,364.2 314.6,364.0 314.4,363.8 314.2,363.5 314.0,363.2 313.8,363.0 313.5,362.6 313.2,362.3 313.0,362.0 312.9,361.8 312.7,361.5 312.5,361.2 312.2,360.8 312.1,360.5 312.0,360.2 311.8,359.8 311.6,359.5 311.5,359.2 311.2,358.8 311.1,358.5 311.0,358.2 310.8,357.8 310.7,357.5 310.6,357.0 310.5,356.8 310.3,356.2 310.2,356.0 310.1,355.5 310.0,355.0 309.9,354.8 309.8,354.2 309.8,353.8 309.7,353.5 309.6,353.0 309.6,352.5 309.5,352.0 309.5,351.7 309.5,351.2 309.5,350.8 309.4,350.2 309.4,349.8 309.5,349.2 309.5,348.8 309.5,348.5 309.6,348.0 309.6,347.5 309.7,347.0 309.8,346.6 309.8,346.2 309.9,345.8 310.0,345.3 310.1,345.0 310.2,344.5 310.3,344.2 310.4,343.8 310.5,343.5 310.7,343.0 310.8,342.8 311.0,342.2 311.1,342.0 311.2,341.6 311.4,341.2 311.5,341.0 311.8,340.6 311.9,340.2 312.1,340.0 312.2,339.7 312.5,339.3 312.7,339.0 312.9,338.8 313.0,338.5 313.2,338.2 313.5,337.9 313.8,337.5 314.0,337.2 314.2,337.0 314.4,336.8 314.6,336.5 314.9,336.2 315.1,336.0 315.4,335.8 315.7,335.5 315.9,335.2 316.2,335.0 316.5,334.8 316.8,334.6 317.0,334.4 317.2,334.2 317.5,334.0 317.9,333.8 318.2,333.5 318.5,333.4 318.8,333.2 319.1,333.0 319.5,332.8 319.8,332.7 320.1,332.5 320.5,332.3 320.8,332.2 321.2,332.0 321.5,331.9 321.9,331.8 322.2,331.6 322.6,331.5 323.0,331.4 323.5,331.2 323.8,331.2 324.2,331.1 324.6,331.0 325.0,330.9 325.5,330.8 326.0,330.8 326.2,330.7 326.8,330.7 327.2,330.6 327.8,330.6 328.2,330.5 328.8,330.5 329.2,330.5 329.8,330.5 330.2,330.5 330.8,330.5 331.2,330.5 331.8,330.6 332.2,330.6 332.8,330.6 333.2,330.6 333.8,330.6 334.2,330.6 334.8,330.6 335.2,330.6 335.8,330.6 336.2,330.5 336.5,330.5 337.0,330.4 337.5,330.3 337.8,330.2 338.2,330.1 338.5,330.0 339.0,329.8 339.2,329.7 339.6,329.5 340.0,329.3 340.2,329.1 340.5,329.0 340.9,328.8 341.2,328.5 341.5,328.3 341.8,328.1 342.0,327.9 342.2,327.7 342.5,327.5 342.8,327.2 343.1,327.0 343.4,326.8 343.7,326.5 344.0,326.3 344.2,326.1 344.5,325.9 344.8,325.7 345.0,325.5 345.4,325.2 345.8,325.1 346.0,324.9 346.4,324.8 346.8,324.6 347.2,324.5 347.5,324.5 348.0,324.5 348.2,324.5 348.8,324.6 349.1,324.8 349.5,324.9 349.8,325.1 350.0,325.2 350.4,325.5 350.6,325.8 350.9,326.0 351.1,326.2 351.3,326.5 351.5,326.8 351.8,327.2 351.9,327.5 352.0,327.8 352.2,328.2 352.3,328.5 352.5,329.0 352.5,329.2 352.6,329.8 352.7,330.2 352.8,330.5 352.8,331.0 352.8,331.5 352.8,332.0 352.8,332.5 352.8,333.0 352.8,333.3 352.7,333.8 352.6,334.2 352.5,334.6 352.4,335.0 352.3,335.5 352.2,335.8 352.0,336.2 351.9,336.5 351.8,336.9 351.6,337.2 351.4,337.5 351.2,337.9 351.0,338.2 350.9,338.5 350.7,338.8 350.5,339.1 350.3,339.5 350.1,339.8 349.9,340.0 349.7,340.2 349.5,340.5 349.2,340.8 349.0,341.1 348.8,341.4 348.5,341.7 348.3,342.0 348.0,342.2 347.8,342.5 347.6,342.8 347.4,343.0 347.2,343.2 347.0,343.5 346.7,343.8 346.5,344.0 346.2,344.4 346.0,344.7 345.8,345.0 345.6,345.2 345.4,345.5 345.2,345.8 345.0,346.1 344.8,346.5 344.6,346.8 344.5,347.0 344.2,347.4 344.1,347.8 343.9,348.0 343.8,348.3 343.6,348.8 343.4,349.0 343.2,349.4 343.1,349.8 343.0,350.0 342.8,350.5 342.7,350.8 342.5,351.2 342.4,351.5 342.2,351.8 342.1,352.2 342.0,352.5 341.8,353.0 341.7,353.2 341.5,353.7 341.4,354.0 341.2,354.3 341.1,354.8 341.0,355.0 340.8,355.5 340.7,355.8 340.5,356.1 340.3,356.5 340.2,356.8 340.0,357.2 339.9,357.5 339.7,357.8 339.5,358.2 339.4,358.5 339.2,358.8 339.0,359.2 338.8,359.5 338.7,359.8 338.5,360.0 338.2,360.4 338.1,360.8 337.9,361.0 337.7,361.2 337.5,361.6 337.2,361.9 337.0,362.2 336.8,362.5 336.6,362.8 336.4,363.0 336.2,363.2 336.0,363.5 335.8,363.8 335.5,364.0 335.2,364.3 335.0,364.6 334.8,364.8 334.5,365.0 334.2,365.2 334.0,365.5 333.6,365.8 333.3,366.0 333.0,366.2 332.8,366.4 332.5,366.6 332.2,366.8 331.8,367.0 331.5,367.2 331.2,367.3 330.9,367.5 330.5,367.7 330.2,367.8 329.8,368.0 329.5,368.1 329.0,368.2 328.8,368.3 328.2,368.5 328.0,368.5 327.5,368.6 327.0,368.7 326.8,368.8Z"/>
<path d="M377.8,314.5 377.2,314.5 376.8,314.5 376.5,314.5 376.0,314.4 375.5,314.4 375.0,314.3 374.8,314.2 374.2,314.1 373.8,314.0 373.5,313.9 373.0,313.8 372.8,313.6 372.4,313.5 372.0,313.3 371.8,313.2 371.4,313.0 371.0,312.8 370.8,312.6 370.5,312.5 370.2,312.2 369.9,312.0 369.6,311.8 369.3,311.5 369.0,311.3 368.8,311.0 368.5,310.8 368.2,310.5 368.0,310.2 367.8,310.0 367.6,309.8 367.4,309.5 367.2,309.2 367.0,308.8 366.8,308.5 366.6,308.2 366.5,308.0 366.3,307.5 366.2,307.2 366.0,306.9 365.9,306.5 365.8,306.1 365.6,305.8 365.5,305.2 365.5,305.0 365.4,304.5 365.3,304.0 365.3,303.5 365.3,303.0 365.3,302.5 365.3,302.0 365.4,301.5 365.4,301.0 365.5,300.7 365.6,300.2 365.8,299.8 365.9,299.5 366.0,299.1 366.2,298.8 366.3,298.5 366.5,298.0 366.6,297.8 366.8,297.5 367.0,297.2 367.2,296.8 367.4,296.5 367.6,296.2 367.8,296.0 368.0,295.8 368.3,295.5 368.5,295.2 368.8,295.0 369.0,294.7 369.3,294.5 369.5,294.2 369.8,294.0 370.2,293.8 370.5,293.5 370.8,293.3 371.0,293.2 371.3,293.0 371.7,292.8 372.0,292.6 372.2,292.4 372.6,292.2 373.0,292.0 373.2,291.9 373.5,291.8 374.0,291.5 374.2,291.4 374.5,291.2 375.0,291.0 375.2,290.9 375.5,290.7 375.9,290.5 376.2,290.3 376.5,290.2 376.8,290.0 377.2,289.8 377.5,289.6 377.8,289.4 378.0,289.2 378.4,289.0 378.8,288.8 379.0,288.6 379.2,288.4 379.5,288.2 379.9,288.0 380.2,287.8 380.5,287.6 380.8,287.5 381.1,287.2 381.5,287.0 381.8,286.9 382.0,286.7 382.4,286.5 382.8,286.3 383.0,286.2 383.4,286.0 383.8,285.8 384.0,285.7 384.5,285.5 384.8,285.4 385.2,285.3 385.5,285.2 386.0,285.0 386.2,285.0 386.8,284.9 387.2,284.8 387.7,284.8 388.0,284.7 388.5,284.7 389.0,284.7 389.2,284.8 389.8,284.8 390.2,284.9 390.5,285.0 391.0,285.2 391.2,285.3 391.7,285.5 392.0,285.6 392.2,285.8 392.5,286.0 392.8,286.2 393.1,286.5 393.4,286.8 393.6,287.0 393.8,287.2 394.0,287.5 394.2,287.9 394.4,288.2 394.6,288.5 394.8,288.9 394.9,289.2 395.0,289.6 395.1,290.0 395.2,290.5 395.3,290.8 395.4,291.2 395.5,291.8 395.5,292.1 395.5,292.5 395.5,293.0 395.5,293.5 395.5,294.0 395.5,294.3 395.5,294.8 395.4,295.2 395.3,295.8 395.2,296.2 395.2,296.5 395.1,297.0 395.0,297.3 394.9,297.8 394.8,298.2 394.7,298.5 394.5,299.0 394.4,299.2 394.2,299.7 394.1,300.0 394.0,300.3 393.8,300.8 393.7,301.0 393.5,301.4 393.4,301.8 393.2,302.0 393.0,302.5 392.8,302.8 392.7,303.0 392.5,303.4 392.3,303.8 392.1,304.0 392.0,304.2 391.8,304.6 391.5,305.0 391.4,305.2 391.2,305.5 391.0,305.8 390.8,306.1 390.5,306.5 390.3,306.8 390.1,307.0 389.9,307.2 389.7,307.5 389.5,307.8 389.2,308.0 389.0,308.3 388.8,308.6 388.5,308.9 388.2,309.2 388.0,309.4 387.8,309.7 387.5,309.9 387.2,310.2 387.0,310.4 386.8,310.6 386.5,310.8 386.2,311.0 386.0,311.2 385.7,311.5 385.3,311.8 385.0,312.0 384.8,312.2 384.5,312.3 384.2,312.5 383.8,312.8 383.5,312.9 383.2,313.0 382.8,313.2 382.5,313.4 382.2,313.5 381.8,313.7 381.5,313.8 381.0,314.0 380.8,314.0 380.2,314.2 379.8,314.2 379.5,314.3 379.0,314.4 378.5,314.5 378.0,314.5 377.8,314.5Z"/>
<path d="M341.0,310.0 340.5,310.1 340.0,310.2 339.5,310.2 339.0,310.2 338.5,310.2 338.0,310.2 337.5,310.2 337.0,310.2 336.5,310.2 336.0,310.1 335.5,310.1 335.0,310.0 334.8,310.0 334.2,309.9 333.8,309.8 333.5,309.7 333.0,309.6 332.6,309.5 332.2,309.4 331.8,309.2 331.5,309.1 331.2,309.0 330.8,308.8 330.5,308.6 330.2,308.4 330.0,308.2 329.7,308.0 329.4,307.8 329.2,307.5 329.0,307.2 328.8,306.8 328.6,306.5 328.5,306.2 328.4,305.8 328.4,305.2 328.5,304.9 328.7,304.5 328.9,304.2 329.2,304.0 329.5,303.9 329.9,303.8 330.2,303.7 330.8,303.6 331.2,303.7 331.8,303.7 332.1,303.8 332.5,303.8 333.0,303.9 333.4,304.0 333.8,304.1 334.2,304.2 334.7,304.2 335.0,304.3 335.5,304.3 336.0,304.4 336.5,304.4 337.0,304.4 337.5,304.3 338.0,304.3 338.2,304.2 338.8,304.1 339.2,304.0 339.5,304.0 340.0,303.9 340.5,303.8 340.8,303.7 341.2,303.6 341.8,303.5 342.2,303.5 342.5,303.5 343.0,303.5 343.2,303.5 343.8,303.6 344.1,303.8 344.5,304.0 344.8,304.2 345.0,304.4 345.2,304.8 345.3,305.0 345.5,305.5 345.5,306.0 345.4,306.5 345.3,307.0 345.1,307.2 345.0,307.5 344.8,307.9 344.5,308.2 344.2,308.5 344.0,308.7 343.8,308.9 343.5,309.1 343.2,309.2 342.8,309.5 342.5,309.6 342.1,309.8 341.8,309.9 341.2,310.0 341.0,310.0Z"/>
<path d="M326.0,366.8 325.5,366.8 325.0,366.8 324.5,366.8 324.0,366.8 323.5,366.8 323.2,366.7 322.8,366.6 322.2,366.5 322.0,366.5 321.5,366.3 321.2,366.2 320.8,366.1 320.5,366.0 320.0,365.8 319.8,365.6 319.5,365.5 319.1,365.2 318.8,365.1 318.5,364.9 318.2,364.7 317.9,364.5 317.6,364.2 317.2,364.0 317.0,363.8 316.8,363.6 316.5,363.4 316.2,363.1 316.0,362.9 315.8,362.6 315.5,362.3 315.2,362.0 315.0,361.8 314.8,361.5 314.6,361.2 314.4,361.0 314.2,360.7 314.0,360.3 313.8,360.0 313.6,359.8 313.5,359.5 313.2,359.1 313.1,358.8 313.0,358.5 312.8,358.0 312.6,357.8 312.5,357.4 312.3,357.0 312.2,356.8 312.1,356.2 312.0,356.0 311.8,355.5 311.8,355.1 311.7,354.8 311.5,354.2 311.5,354.0 311.4,353.5 311.3,353.0 311.3,352.5 311.2,352.2 311.2,351.8 311.2,351.2 311.2,350.8 311.1,350.2 311.2,349.8 311.2,349.2 311.2,348.8 311.2,348.5 311.3,348.0 311.4,347.5 311.5,347.0 311.5,346.8 311.6,346.2 311.7,345.8 311.8,345.5 312.0,345.0 312.0,344.8 312.2,344.2 312.3,344.0 312.5,343.5 312.6,343.2 312.8,342.9 313.0,342.5 313.1,342.2 313.2,341.9 313.5,341.5 313.6,341.2 313.8,341.0 314.0,340.7 314.2,340.3 314.5,340.0 314.7,339.8 314.9,339.5 315.1,339.2 315.3,339.0 315.5,338.8 315.8,338.5 316.0,338.2 316.3,338.0 316.5,337.8 316.8,337.5 317.1,337.2 317.5,337.0 317.8,336.8 318.0,336.6 318.2,336.4 318.6,336.2 319.0,336.0 319.2,335.9 319.5,335.7 320.0,335.5 320.2,335.4 320.5,335.2 321.0,335.1 321.2,335.0 321.8,334.8 322.0,334.7 322.5,334.6 322.9,334.5 323.2,334.4 323.8,334.3 324.2,334.3 324.5,334.2 325.0,334.2 325.5,334.2 326.0,334.2 326.5,334.2 327.0,334.2 327.3,334.2 327.8,334.3 328.2,334.4 328.8,334.5 329.0,334.5 329.5,334.6 330.0,334.7 330.2,334.8 330.8,335.0 331.0,335.1 331.5,335.2 331.8,335.3 332.1,335.5 332.5,335.7 332.8,335.8 333.2,336.0 333.5,336.2 333.8,336.3 334.1,336.5 334.5,336.8 334.8,336.9 335.0,337.1 335.2,337.3 335.5,337.5 335.8,337.8 336.1,338.0 336.4,338.2 336.6,338.5 336.8,338.8 337.1,339.0 337.3,339.2 337.5,339.6 337.8,340.0 337.9,340.2 338.1,340.5 338.2,340.9 338.4,341.2 338.5,341.5 338.7,342.0 338.8,342.2 338.9,342.8 339.0,343.2 339.0,343.5 339.1,344.0 339.2,344.5 339.2,345.0 339.3,345.2 339.3,345.8 339.3,346.2 339.3,346.8 339.3,347.2 339.3,347.8 339.3,348.2 339.2,348.5 339.2,349.0 339.2,349.5 339.1,350.0 339.0,350.5 339.0,350.8 338.9,351.2 338.9,351.8 338.8,352.2 338.7,352.5 338.6,353.0 338.5,353.4 338.4,353.8 338.3,354.2 338.2,354.5 338.1,355.0 338.0,355.2 337.8,355.8 337.7,356.0 337.5,356.5 337.4,356.8 337.2,357.2 337.1,357.5 337.0,357.8 336.8,358.2 336.7,358.5 336.5,358.8 336.3,359.2 336.1,359.5 336.0,359.8 335.8,360.1 335.5,360.5 335.3,360.8 335.2,361.0 335.0,361.2 334.8,361.6 334.5,361.9 334.2,362.2 334.0,362.5 333.8,362.7 333.5,363.0 333.3,363.2 333.0,363.5 332.8,363.7 332.5,363.9 332.2,364.1 332.0,364.3 331.8,364.5 331.4,364.8 331.0,365.0 330.8,365.2 330.5,365.3 330.2,365.5 329.8,365.7 329.5,365.8 329.1,366.0 328.8,366.1 328.4,366.2 328.0,366.4 327.6,366.5 327.2,366.6 326.8,366.7 326.2,366.7 326.0,366.8Z"/>
<path d="M379.8,311.5 379.2,311.6 378.8,311.6 378.2,311.7 377.8,311.7 377.2,311.6 376.8,311.6 376.2,311.5 376.0,311.5 375.5,311.3 375.2,311.2 374.8,311.1 374.4,311.0 374.0,310.8 373.8,310.7 373.3,310.5 373.0,310.3 372.8,310.2 372.5,310.0 372.2,309.8 371.8,309.5 371.6,309.2 371.3,309.0 371.0,308.8 370.8,308.5 370.6,308.2 370.4,308.0 370.2,307.8 370.0,307.4 369.8,307.0 369.6,306.8 369.5,306.5 369.3,306.0 369.2,305.8 369.0,305.2 368.9,305.0 368.8,304.5 368.8,304.0 368.7,303.8 368.7,303.2 368.7,302.8 368.7,302.2 368.8,301.9 368.8,301.5 368.9,301.0 369.0,300.7 369.1,300.2 369.2,300.0 369.4,299.5 369.6,299.2 369.8,298.9 370.0,298.5 370.1,298.2 370.3,298.0 370.5,297.7 370.8,297.4 371.0,297.1 371.2,296.8 371.5,296.6 371.8,296.3 372.0,296.1 372.2,295.9 372.5,295.6 372.8,295.4 373.0,295.2 373.3,295.0 373.6,294.8 373.9,294.5 374.2,294.2 374.5,294.0 374.8,293.8 375.0,293.6 375.2,293.4 375.5,293.2 375.8,293.0 376.1,292.8 376.4,292.5 376.7,292.2 377.0,292.0 377.2,291.8 377.5,291.6 377.8,291.3 378.0,291.1 378.2,290.9 378.5,290.7 378.8,290.5 379.1,290.2 379.4,290.0 379.7,289.8 380.0,289.5 380.2,289.3 380.5,289.1 380.8,288.9 381.0,288.7 381.3,288.5 381.7,288.2 382.0,288.1 382.2,287.9 382.5,287.8 382.9,287.5 383.2,287.3 383.5,287.2 383.9,287.0 384.2,286.8 384.5,286.7 385.0,286.5 385.2,286.4 385.8,286.3 386.0,286.2 386.5,286.1 387.0,286.0 387.2,286.0 387.8,285.9 388.2,285.9 388.8,285.9 389.2,286.0 389.5,286.0 390.0,286.2 390.3,286.2 390.8,286.4 391.0,286.5 391.4,286.8 391.8,287.0 392.0,287.2 392.2,287.4 392.5,287.6 392.8,287.9 393.0,288.2 393.2,288.5 393.4,288.8 393.5,289.0 393.7,289.5 393.9,289.8 394.0,290.1 394.1,290.5 394.2,291.0 394.3,291.2 394.4,291.8 394.5,292.2 394.5,292.6 394.5,293.0 394.5,293.5 394.5,294.0 394.5,294.3 394.5,294.8 394.4,295.2 394.3,295.8 394.2,296.2 394.2,296.5 394.1,297.0 394.0,297.2 393.9,297.8 393.8,298.1 393.6,298.5 393.5,298.8 393.3,299.2 393.2,299.5 393.0,300.0 392.9,300.2 392.8,300.6 392.5,301.0 392.4,301.2 392.2,301.5 392.0,302.0 391.9,302.2 391.7,302.5 391.5,302.8 391.2,303.2 391.1,303.5 390.9,303.8 390.7,304.0 390.5,304.3 390.2,304.6 390.0,304.9 389.8,305.2 389.5,305.5 389.3,305.8 389.1,306.0 388.8,306.2 388.6,306.5 388.3,306.8 388.1,307.0 387.8,307.2 387.6,307.5 387.3,307.8 387.0,308.0 386.8,308.2 386.5,308.4 386.2,308.6 386.0,308.8 385.7,309.0 385.3,309.2 385.0,309.5 384.8,309.6 384.5,309.8 384.1,310.0 383.8,310.2 383.5,310.3 383.1,310.5 382.8,310.6 382.5,310.8 382.0,310.9 381.8,311.0 381.2,311.2 381.0,311.3 380.5,311.4 380.0,311.5 379.8,311.5Z"/>
<path d="M326.0,364.5 325.5,364.6 325.0,364.6 324.5,364.6 324.0,364.6 323.5,364.5 323.2,364.5 322.8,364.4 322.2,364.3 322.0,364.2 321.5,364.1 321.2,364.0 320.8,363.8 320.5,363.6 320.2,363.5 319.8,363.3 319.5,363.1 319.2,363.0 318.9,362.8 318.6,362.5 318.3,362.2 318.0,362.0 317.8,361.8 317.5,361.6 317.2,361.3 317.0,361.1 316.8,360.8 316.5,360.5 316.3,360.2 316.1,360.0 315.9,359.8 315.7,359.5 315.5,359.2 315.2,358.8 315.1,358.5 314.9,358.2 314.8,357.9 314.6,357.5 314.4,357.2 314.2,356.8 314.1,356.5 314.0,356.2 313.8,355.8 313.8,355.5 313.6,355.0 313.5,354.6 313.4,354.2 313.3,353.8 313.2,353.4 313.2,353.0 313.1,352.5 313.1,352.0 313.0,351.5 313.0,351.0 313.0,350.5 313.0,350.0 313.1,349.5 313.1,349.0 313.2,348.5 313.2,348.0 313.3,347.8 313.4,347.2 313.5,346.8 313.6,346.5 313.7,346.0 313.8,345.8 314.0,345.2 314.1,345.0 314.2,344.6 314.4,344.2 314.5,344.0 314.8,343.6 314.9,343.2 315.1,343.0 315.2,342.7 315.5,342.3 315.7,342.0 315.9,341.8 316.1,341.5 316.3,341.2 316.6,341.0 316.8,340.8 317.0,340.5 317.3,340.2 317.6,340.0 317.9,339.8 318.2,339.5 318.5,339.3 318.8,339.1 319.0,339.0 319.3,338.8 319.8,338.5 320.0,338.4 320.3,338.2 320.8,338.1 321.0,338.0 321.5,337.8 321.8,337.7 322.2,337.6 322.7,337.5 323.0,337.4 323.5,337.4 324.0,337.3 324.5,337.3 325.0,337.3 325.5,337.3 326.0,337.4 326.5,337.5 326.8,337.5 327.2,337.6 327.7,337.8 328.0,337.8 328.4,338.0 328.8,338.1 329.1,338.2 329.5,338.5 329.8,338.6 330.0,338.8 330.5,339.0 330.8,339.2 331.0,339.4 331.2,339.5 331.5,339.8 331.8,340.0 332.1,340.2 332.4,340.5 332.6,340.8 332.8,341.0 333.1,341.2 333.3,341.5 333.5,341.8 333.8,342.1 334.0,342.5 334.1,342.8 334.3,343.0 334.5,343.4 334.7,343.8 334.8,344.0 335.0,344.4 335.1,344.8 335.2,345.1 335.4,345.5 335.5,345.9 335.6,346.2 335.7,346.8 335.8,347.0 335.9,347.5 335.9,348.0 336.0,348.5 336.0,348.8 336.1,349.2 336.1,349.8 336.1,350.2 336.1,350.8 336.1,351.2 336.0,351.8 336.0,352.0 335.9,352.5 335.9,353.0 335.8,353.5 335.7,353.8 335.6,354.2 335.5,354.7 335.4,355.0 335.3,355.5 335.2,355.8 335.0,356.2 334.9,356.5 334.8,357.0 334.6,357.2 334.5,357.5 334.3,358.0 334.1,358.2 334.0,358.5 333.8,359.0 333.6,359.2 333.4,359.5 333.2,359.8 333.0,360.1 332.8,360.4 332.5,360.7 332.3,361.0 332.0,361.2 331.8,361.5 331.5,361.8 331.2,362.0 331.0,362.2 330.8,362.4 330.5,362.6 330.2,362.8 329.9,363.0 329.5,363.2 329.2,363.4 329.0,363.5 328.6,363.8 328.2,363.9 328.0,364.0 327.5,364.2 327.2,364.2 326.8,364.4 326.2,364.5 326.0,364.5Z"/>
<path d="M381.8,308.3 381.2,308.3 380.8,308.4 380.2,308.4 379.8,308.4 379.2,308.4 378.8,308.3 378.4,308.2 378.0,308.2 377.5,308.0 377.2,307.9 376.8,307.8 376.5,307.6 376.2,307.4 375.9,307.2 375.6,307.0 375.3,306.8 375.0,306.5 374.8,306.2 374.6,306.0 374.4,305.8 374.2,305.5 374.0,305.1 373.8,304.8 373.7,304.5 373.5,304.0 373.5,303.8 373.4,303.2 373.4,302.8 373.4,302.2 373.4,301.8 373.5,301.2 373.5,301.0 373.7,300.5 373.8,300.2 373.9,299.8 374.0,299.5 374.2,299.0 374.4,298.8 374.5,298.5 374.8,298.1 374.9,297.8 375.1,297.5 375.2,297.2 375.5,296.9 375.7,296.5 375.9,296.2 376.1,296.0 376.3,295.8 376.5,295.4 376.8,295.1 377.0,294.8 377.2,294.5 377.4,294.2 377.6,294.0 377.8,293.8 378.0,293.5 378.2,293.2 378.5,292.9 378.8,292.6 379.0,292.4 379.2,292.1 379.5,291.8 379.8,291.6 380.0,291.3 380.2,291.1 380.5,290.9 380.8,290.6 381.0,290.4 381.2,290.2 381.5,290.0 381.8,289.8 382.1,289.5 382.5,289.2 382.8,289.1 383.0,288.9 383.3,288.8 383.7,288.5 384.0,288.3 384.2,288.2 384.7,288.0 385.0,287.9 385.4,287.8 385.8,287.6 386.2,287.5 386.5,287.4 387.0,287.4 387.5,287.3 388.0,287.3 388.5,287.3 389.0,287.4 389.4,287.5 389.8,287.6 390.1,287.8 390.5,287.9 390.8,288.1 391.0,288.3 391.3,288.5 391.6,288.8 391.8,289.0 392.0,289.3 392.2,289.6 392.5,290.0 392.6,290.2 392.8,290.6 392.9,291.0 393.0,291.2 393.1,291.8 393.2,292.2 393.3,292.5 393.3,293.0 393.4,293.5 393.4,294.0 393.3,294.5 393.3,295.0 393.2,295.3 393.2,295.8 393.1,296.2 393.0,296.6 392.9,297.0 392.8,297.5 392.7,297.8 392.5,298.2 392.4,298.5 392.2,298.9 392.1,299.2 392.0,299.5 391.8,300.0 391.6,300.2 391.5,300.5 391.2,300.9 391.0,301.2 390.9,301.5 390.7,301.8 390.5,302.1 390.2,302.4 390.0,302.8 389.8,303.0 389.6,303.2 389.4,303.5 389.2,303.8 388.9,304.0 388.7,304.2 388.5,304.5 388.2,304.8 387.9,305.0 387.6,305.2 387.3,305.5 387.0,305.8 386.8,306.0 386.5,306.2 386.2,306.3 386.0,306.5 385.6,306.8 385.2,306.9 385.0,307.1 384.7,307.2 384.2,307.5 384.0,307.6 383.5,307.8 383.2,307.9 382.8,308.0 382.5,308.1 382.0,308.2 381.8,308.3Z"/>
<path d="M325.5,361.8 325.0,361.8 324.5,361.8 324.0,361.8 323.5,361.8 323.2,361.7 322.8,361.6 322.3,361.5 322.0,361.4 321.6,361.2 321.2,361.1 321.0,361.0 320.5,360.8 320.2,360.6 320.0,360.4 319.8,360.2 319.5,360.0 319.2,359.8 318.9,359.5 318.6,359.2 318.4,359.0 318.2,358.8 317.9,358.5 317.7,358.2 317.5,357.9 317.2,357.6 317.1,357.2 316.9,357.0 316.8,356.7 316.5,356.2 316.4,356.0 316.2,355.6 316.1,355.2 316.0,355.0 315.8,354.5 315.8,354.2 315.6,353.8 315.5,353.2 315.5,353.0 315.4,352.5 315.4,352.0 315.3,351.5 315.3,351.0 315.3,350.5 315.4,350.0 315.4,349.5 315.5,349.0 315.5,348.8 315.6,348.2 315.7,347.8 315.8,347.5 316.0,347.0 316.1,346.8 316.2,346.3 316.4,346.0 316.5,345.7 316.7,345.2 316.9,345.0 317.0,344.8 317.2,344.4 317.5,344.1 317.8,343.8 318.0,343.5 318.2,343.2 318.5,343.0 318.7,342.8 319.0,342.5 319.2,342.3 319.5,342.1 319.8,342.0 320.1,341.8 320.5,341.5 320.8,341.4 321.1,341.2 321.5,341.1 321.8,341.0 322.2,340.9 322.8,340.8 323.0,340.7 323.5,340.7 324.0,340.7 324.5,340.7 325.0,340.7 325.2,340.8 325.8,340.9 326.2,341.0 326.5,341.1 327.0,341.2 327.2,341.3 327.6,341.5 328.0,341.7 328.2,341.9 328.5,342.0 328.8,342.2 329.2,342.5 329.5,342.8 329.7,343.0 330.0,343.2 330.2,343.5 330.5,343.8 330.7,344.0 330.9,344.2 331.0,344.5 331.2,344.8 331.5,345.2 331.7,345.5 331.8,345.8 332.0,346.2 332.2,346.5 332.3,346.8 332.4,347.2 332.5,347.5 332.7,348.0 332.8,348.3 332.8,348.8 332.9,349.2 333.0,349.7 333.0,350.0 333.1,350.5 333.1,351.0 333.1,351.5 333.1,352.0 333.0,352.5 333.0,352.8 332.9,353.2 332.9,353.8 332.8,354.2 332.7,354.5 332.5,355.0 332.5,355.2 332.3,355.8 332.2,356.0 332.0,356.4 331.9,356.8 331.7,357.0 331.5,357.4 331.3,357.8 331.1,358.0 331.0,358.2 330.8,358.5 330.5,358.8 330.2,359.1 330.0,359.4 329.8,359.6 329.5,359.9 329.2,360.1 329.0,360.3 328.7,360.5 328.3,360.8 328.0,360.9 327.8,361.0 327.3,361.2 327.0,361.4 326.6,361.5 326.2,361.6 325.8,361.7 325.5,361.8Z"/>
<path d="M383.8,305.3 383.2,305.4 382.8,305.4 382.2,305.5 381.8,305.5 381.2,305.4 380.8,305.3 380.5,305.2 380.0,305.1 379.8,304.9 379.4,304.8 379.1,304.5 378.8,304.2 378.5,304.0 378.3,303.8 378.1,303.5 378.0,303.2 377.8,302.8 377.6,302.5 377.5,302.0 377.4,301.8 377.4,301.2 377.3,300.8 377.3,300.2 377.4,299.8 377.5,299.2 377.5,299.0 377.6,298.5 377.8,298.1 377.9,297.8 378.0,297.3 378.1,297.0 378.2,296.7 378.5,296.2 378.6,296.0 378.8,295.7 379.0,295.2 379.1,295.0 379.3,294.8 379.5,294.4 379.8,294.1 380.0,293.8 380.1,293.5 380.3,293.2 380.5,293.0 380.8,292.8 381.0,292.5 381.2,292.2 381.5,291.9 381.8,291.7 382.0,291.5 382.2,291.2 382.5,291.0 382.9,290.8 383.2,290.5 383.5,290.3 383.8,290.1 384.0,290.0 384.4,289.8 384.8,289.6 385.0,289.5 385.5,289.3 385.8,289.2 386.2,289.1 386.6,289.0 387.0,289.0 387.5,288.9 388.0,289.0 388.3,289.0 388.8,289.1 389.2,289.2 389.5,289.4 389.8,289.5 390.1,289.8 390.4,290.0 390.6,290.2 390.8,290.5 391.0,290.8 391.2,291.1 391.4,291.5 391.5,291.8 391.7,292.2 391.8,292.5 391.9,293.0 391.9,293.5 392.0,294.0 392.0,294.5 391.9,295.0 391.9,295.5 391.8,296.0 391.7,296.2 391.6,296.8 391.5,297.2 391.4,297.5 391.2,297.9 391.1,298.2 391.0,298.5 390.8,299.0 390.6,299.2 390.5,299.5 390.2,300.0 390.1,300.2 389.9,300.5 389.7,300.8 389.5,301.1 389.2,301.4 389.0,301.7 388.8,302.0 388.5,302.2 388.3,302.5 388.0,302.8 387.8,303.0 387.5,303.2 387.2,303.4 387.0,303.6 386.8,303.8 386.5,304.0 386.1,304.2 385.8,304.4 385.5,304.6 385.1,304.8 384.8,304.9 384.5,305.0 384.0,305.2 383.8,305.3Z"/>
<path d="M324.2,358.0 324.0,358.0 323.5,358.0 323.0,357.8 322.7,357.8 322.2,357.6 322.0,357.5 321.6,357.2 321.3,357.0 321.0,356.8 320.8,356.6 320.5,356.3 320.2,356.1 320.0,355.8 319.8,355.5 319.7,355.2 319.5,355.0 319.2,354.5 319.1,354.2 319.0,353.9 318.9,353.5 318.8,353.1 318.7,352.8 318.6,352.2 318.5,351.8 318.5,351.2 318.5,350.8 318.6,350.2 318.6,349.8 318.8,349.3 318.8,349.0 319.0,348.5 319.1,348.2 319.2,348.0 319.5,347.5 319.7,347.2 319.8,347.0 320.0,346.8 320.3,346.5 320.5,346.2 320.8,346.0 321.1,345.8 321.5,345.5 321.8,345.4 322.1,345.2 322.5,345.1 322.9,345.0 323.2,344.9 323.8,344.9 324.2,344.9 324.8,345.0 325.0,345.0 325.5,345.2 325.8,345.3 326.1,345.5 326.5,345.7 326.8,345.9 327.0,346.1 327.2,346.3 327.5,346.5 327.8,346.8 328.0,347.1 328.2,347.4 328.4,347.8 328.6,348.0 328.8,348.3 328.9,348.8 329.0,349.0 329.2,349.5 329.3,349.8 329.4,350.2 329.4,350.8 329.5,351.2 329.5,351.8 329.5,352.2 329.4,352.8 329.3,353.2 329.2,353.6 329.1,354.0 329.0,354.3 328.8,354.8 328.7,355.0 328.5,355.4 328.3,355.8 328.1,356.0 327.9,356.2 327.6,356.5 327.4,356.8 327.1,357.0 326.8,357.2 326.5,357.4 326.2,357.5 325.8,357.7 325.5,357.8 325.0,357.9 324.5,358.0 324.2,358.0Z"/>
<path d="M383.8,302.5 383.2,302.5 383.0,302.5 382.5,302.4 382.2,302.2 381.8,302.0 381.5,301.8 381.2,301.6 381.0,301.3 380.8,301.0 380.7,300.8 380.5,300.3 380.4,300.0 380.3,299.5 380.3,299.0 380.3,298.5 380.4,298.0 380.5,297.5 380.5,297.2 380.7,296.8 380.8,296.5 380.9,296.0 381.1,295.8 381.2,295.4 381.5,295.0 381.6,294.8 381.8,294.5 382.0,294.2 382.2,293.8 382.5,293.5 382.8,293.3 383.0,293.0 383.2,292.8 383.5,292.6 383.8,292.4 384.0,292.2 384.2,292.0 384.7,291.8 385.0,291.6 385.2,291.5 385.8,291.3 386.0,291.2 386.5,291.1 387.0,291.1 387.5,291.1 388.0,291.2 388.2,291.4 388.5,291.5 388.9,291.8 389.2,292.0 389.4,292.2 389.5,292.5 389.8,292.9 389.9,293.2 390.0,293.6 390.1,294.0 390.1,294.5 390.1,295.0 390.1,295.5 390.0,296.0 390.0,296.2 389.9,296.8 389.8,297.1 389.6,297.5 389.5,297.8 389.3,298.2 389.1,298.5 389.0,298.8 388.8,299.1 388.5,299.5 388.3,299.8 388.1,300.0 387.9,300.2 387.7,300.5 387.4,300.8 387.1,301.0 386.8,301.2 386.5,301.5 386.2,301.6 386.0,301.8 385.6,302.0 385.2,302.2 385.0,302.3 384.5,302.4 384.0,302.5 383.8,302.5Z"/>
<path d="M385.2,298.3 384.8,298.3 384.5,298.2 384.2,297.9 384.0,297.5 384.0,297.0 384.1,296.5 384.2,296.2 384.5,295.8 384.7,295.5 385.0,295.2 385.2,295.1 385.5,294.9 386.0,294.9 386.5,295.0 386.8,295.2 386.9,295.5 387.0,296.0 386.9,296.5 386.8,296.9 386.6,297.2 386.4,297.5 386.2,297.8 385.9,298.0 385.5,298.2 385.2,298.3Z"/>
</g>
<path d="M50.8,43.0H52.6M48.8,52.6H52.6M50.8,74.8H52.6M50.8,69.2H52.6M50.8,65.3H52.6M50.8,62.2H52.6M50.8,59.7H52.6M50.8,57.5H52.6M50.8,55.7H52.6M50.8,54.1H52.6M48.8,84.4H52.6M50.8,106.6H52.6M50.8,101.0H52.6M50.8,97.1H52.6M50.8,94.0H52.6M50.8,91.5H52.6M50.8,89.3H52.6M50.8,87.5H52.6M50.8,85.9H52.6M48.8,116.2H52.6M50.8,138.4H52.6M50.8,132.8H52.6M50.8,128.9H52.6M50.8,125.8H52.6M50.8,123.3H52.6M50.8,121.1H52.6M50.8,119.3H52.6M50.8,117.7H52.6M48.8,148.0H52.6M50.8,170.2H52.6M50.8,164.6H52.6M50.8,160.7H52.6M50.8,157.6H52.6M50.8,155.1H52.6M50.8,152.9H52.6M50.8,151.1H52.6M50.8,149.5H52.6M48.8,179.8H52.6M50.8,182.9H52.6M50.8,181.3H52.6M60.6,183.4V187.2M53.5,183.4V185.2M55.7,183.4V185.2M57.5,183.4V185.2M59.1,183.4V185.2M92.4,183.4V187.2M70.2,183.4V185.2M75.8,183.4V185.2M79.7,183.4V185.2M82.8,183.4V185.2M85.3,183.4V185.2M87.5,183.4V185.2M89.3,183.4V185.2M90.9,183.4V185.2M124.2,183.4V187.2M102.0,183.4V185.2M107.6,183.4V185.2M111.5,183.4V185.2M114.6,183.4V185.2M117.1,183.4V185.2M119.3,183.4V185.2M121.1,183.4V185.2M122.7,183.4V185.2M156.0,183.4V187.2M133.8,183.4V185.2M139.4,183.4V185.2M143.3,183.4V185.2M146.4,183.4V185.2M148.9,183.4V185.2M151.1,183.4V185.2M152.9,183.4V185.2M154.5,183.4V185.2M187.8,183.4V187.2M165.6,183.4V185.2M171.2,183.4V185.2M175.1,183.4V185.2M178.2,183.4V185.2M180.7,183.4V185.2M182.9,183.4V185.2M184.7,183.4V185.2M186.3,183.4V185.2" stroke="#333" stroke-width="0.9" fill="none"/>
<path d="M52.6,39.3H196.7" stroke="#555" stroke-width="1.1" fill="none"/>
<path d="M196.7,39.3V183.4" stroke="#888" stroke-width="1.1" fill="none"/>
<path d="M52.6,39.3V183.4H196.7" stroke="#333" stroke-width="1.1" fill="none"/>
<path d="M293.7,41.2H295.5M291.7,50.8H295.5M293.7,73.0H295.5M293.7,67.4H295.5M293.7,63.5H295.5M293.7,60.4H295.5M293.7,57.9H295.5M293.7,55.7H295.5M293.7,53.9H295.5M293.7,52.3H295.5M291.7,82.6H295.5M293.7,104.8H295.5M293.7,99.2H295.5M293.7,95.3H295.5M293.7,92.2H295.5M293.7,89.7H295.5M293.7,87.5H295.5M293.7,85.7H295.5M293.7,84.1H295.5M291.7,114.4H295.5M293.7,136.6H295.5M293.7,131.0H295.5M293.7,127.1H295.5M293.7,124.0H295.5M293.7,121.5H295.5M293.7,119.3H295.5M293.7,117.5H295.5M293.7,115.9H295.5M291.7,146.2H295.5M293.7,168.4H295.5M293.7,162.8H295.5M293.7,158.9H295.5M293.7,155.8H295.5M293.7,153.3H295.5M293.7,151.1H295.5M293.7,149.3H295.5M293.7,147.7H295.5M291.7,178.0H295.5M303.5,179.5V183.3M296.4,179.5V181.3M298.6,179.5V181.3M300.4,179.5V181.3M302.0,179.5V181.3M335.3,179.5V183.3M313.1,179.5V181.3M318.7,179.5V181.3M322.6,179.5V181.3M325.7,179.5V181.3M328.2,179.5V181.3M330.4,179.5V181.3M332.2,179.5V181.3M333.8,179.5V181.3M367.1,179.5V183.3M344.9,179.5V181.3M350.5,179.5V181.3M354.4,179.5V181.3M357.5,179.5V181.3M360.0,179.5V181.3M362.2,179.5V181.3M364.0,179.5V181.3M365.6,179.5V181.3M398.9,179.5V183.3M376.7,179.5V181.3M382.3,179.5V181.3M386.2,179.5V181.3M389.3,179.5V181.3M391.8,179.5V181.3M394.0,179.5V181.3M395.8,179.5V181.3M397.4,179.5V181.3M430.7,179.5V183.3M408.5,179.5V181.3M414.1,179.5V181.3M418.0,179.5V181.3M421.1,179.5V181.3M423.6,179.5V181.3M425.8,179.5V181.3M427.6,179.5V181.3M429.2,179.5V181.3" stroke="#333" stroke-width="0.9" fill="none"/>
<path d="M295.5,37.5H437.5" stroke="#555" stroke-width="1.1" fill="none"/>
<path d="M437.5,37.5V179.5" stroke="#888" stroke-width="1.1" fill="none"/>
<path d="M295.5,37.5V179.5H437.5" stroke="#333" stroke-width="1.1" fill="none"/>
<path d="M53.8,246.9H55.6M51.8,256.5H55.6M53.8,278.7H55.6M53.8,273.1H55.6M53.8,269.2H55.6M53.8,266.1H55.6M53.8,263.6H55.6M53.8,261.4H55.6M53.8,259.6H55.6M53.8,258.0H55.6M51.8,288.3H55.6M53.8,310.5H55.6M53.8,304.9H55.6M53.8,301.0H55.6M53.8,297.9H55.6M53.8,295.4H55.6M53.8,293.2H55.6M53.8,291.4H55.6M53.8,289.8H55.6M51.8,320.1H55.6M53.8,342.3H55.6M53.8,336.7H55.6M53.8,332.8H55.6M53.8,329.7H55.6M53.8,327.2H55.6M53.8,325.0H55.6M53.8,323.2H55.6M53.8,321.6H55.6M51.8,351.9H55.6M53.8,374.1H55.6M53.8,368.5H55.6M53.8,364.6H55.6M53.8,361.5H55.6M53.8,359.0H55.6M53.8,356.8H55.6M53.8,355.0H55.6M53.8,353.4H55.6M51.8,383.7H55.6M53.8,385.2H55.6M63.6,386.3V390.1M56.5,386.3V388.1M58.7,386.3V388.1M60.5,386.3V388.1M62.1,386.3V388.1M95.4,386.3V390.1M73.2,386.3V388.1M78.8,386.3V388.1M82.7,386.3V388.1M85.8,386.3V388.1M88.3,386.3V388.1M90.5,386.3V388.1M92.3,386.3V388.1M93.9,386.3V388.1M127.2,386.3V390.1M105.0,386.3V388.1M110.6,386.3V388.1M114.5,386.3V388.1M117.6,386.3V388.1M120.1,386.3V388.1M122.3,386.3V388.1M124.1,386.3V388.1M125.7,386.3V388.1M159.0,386.3V390.1M136.8,386.3V388.1M142.4,386.3V388.1M146.3,386.3V388.1M149.4,386.3V388.1M151.9,386.3V388.1M154.1,386.3V388.1M155.9,386.3V388.1M157.5,386.3V388.1M190.8,386.3V390.1M168.6,386.3V388.1M174.2,386.3V388.1M178.1,386.3V388.1M181.2,386.3V388.1M183.7,386.3V388.1M185.9,386.3V388.1M187.7,386.3V388.1M189.3,386.3V388.1" stroke="#333" stroke-width="0.9" fill="none"/>
<path d="M55.6,243.2H198.6" stroke="#555" stroke-width="1.1" fill="none"/>
<path d="M198.6,243.2V386.3" stroke="#888" stroke-width="1.1" fill="none"/>
<path d="M55.6,243.2V386.3H198.6" stroke="#333" stroke-width="1.1" fill="none"/>
<path d="M307.7,247.2H309.5M305.7,256.8H309.5M307.7,279.0H309.5M307.7,273.4H309.5M307.7,269.5H309.5M307.7,266.4H309.5M307.7,263.9H309.5M307.7,261.7H309.5M307.7,259.9H309.5M307.7,258.3H309.5M305.7,288.6H309.5M307.7,310.8H309.5M307.7,305.2H309.5M307.7,301.3H309.5M307.7,298.2H309.5M307.7,295.7H309.5M307.7,293.5H309.5M307.7,291.7H309.5M307.7,290.1H309.5M305.7,320.4H309.5M307.7,342.6H309.5M307.7,337.0H309.5M307.7,333.1H309.5M307.7,330.0H309.5M307.7,327.5H309.5M307.7,325.3H309.5M307.7,323.5H309.5M307.7,321.9H309.5M305.7,352.2H309.5M307.7,374.4H309.5M307.7,368.8H309.5M307.7,364.9H309.5M307.7,361.8H309.5M307.7,359.3H309.5M307.7,357.1H309.5M307.7,355.3H309.5M307.7,353.7H309.5M305.7,384.0H309.5M307.7,385.5H309.5M317.5,386.5V390.3M310.4,386.5V388.3M312.6,386.5V388.3M314.4,386.5V388.3M316.0,386.5V388.3M349.3,386.5V390.3M327.1,386.5V388.3M332.7,386.5V388.3M336.6,386.5V388.3M339.7,386.5V388.3M342.2,386.5V388.3M344.4,386.5V388.3M346.2,386.5V388.3M347.8,386.5V388.3M381.1,386.5V390.3M358.9,386.5V388.3M364.5,386.5V388.3M368.4,386.5V388.3M371.5,386.5V388.3M374.0,386.5V388.3M376.2,386.5V388.3M378.0,386.5V388.3M379.6,386.5V388.3M412.9,386.5V390.3M390.7,386.5V388.3M396.3,386.5V388.3M400.2,386.5V388.3M403.3,386.5V388.3M405.8,386.5V388.3M408.0,386.5V388.3M409.8,386.5V388.3M411.4,386.5V388.3M444.7,386.5V390.3M422.5,386.5V388.3M428.1,386.5V388.3M432.0,386.5V388.3M435.1,386.5V388.3M437.6,386.5V388.3M439.8,386.5V388.3M441.6,386.5V388.3M443.2,386.5V388.3" stroke="#333" stroke-width="0.9" fill="none"/>
<path d="M309.5,243.5H453.5" stroke="#555" stroke-width="1.1" fill="none"/>
<path d="M453.5,243.5V386.5" stroke="#888" stroke-width="1.1" fill="none"/>
<path d="M309.5,243.5V386.5H453.5" stroke="#333" stroke-width="1.1" fill="none"/>
<rect x="63.5" y="84.5" width="45" height="45.5" fill="none" stroke="#777" stroke-width="1"/>
<rect x="112.5" y="137.5" width="77" height="41" fill="none" stroke="#777" stroke-width="1"/>
<rect x="304.5" y="81.5" width="46" height="45.5" fill="none" stroke="#777" stroke-width="1"/>
<rect x="353.5" y="135.5" width="77" height="40" fill="none" stroke="#777" stroke-width="1"/>
<line x1="106.5" y1="243.5" x2="106.5" y2="386.5" stroke="#777" stroke-width="1"/>
<line x1="55.5" y1="326.5" x2="198.6" y2="326.5" stroke="#777" stroke-width="1"/>
<line x1="360.5" y1="243.5" x2="360.5" y2="386.5" stroke="#777" stroke-width="1"/>
<line x1="309.5" y1="327.5" x2="453.5" y2="327.5" stroke="#777" stroke-width="1"/>
<text x="91.30" y="30.55" font-size="18.3" font-weight="normal" fill="#000">WT YS</text>
<text x="327.50" y="27.27" font-size="18.5" font-weight="normal" fill="#000">WT P-Sp</text>
<text transform="translate(39.85,133.00) rotate(-90)" font-size="18.2" font-weight="normal" fill="#000">VE-cad</text>
<text transform="translate(277.85,137.20) rotate(-90)" font-size="18.2" font-weight="normal" fill="#000">VE-cad</text>
<text x="93.50" y="208.62" font-size="18" font-weight="normal" fill="#000">CD41</text>
<text x="336.60" y="206.93" font-size="18" font-weight="normal" fill="#000">CD41</text>
<text x="68.00" y="75.08" font-size="14.3" font-weight="normal" fill="#000">3.8</text>
<text x="162.00" y="130.88" font-size="14.3" font-weight="normal" fill="#000">3.0</text>
<text x="311.40" y="76.17" font-size="14.2" font-weight="normal" fill="#000">0.47</text>
<text x="398.30" y="126.38" font-size="14.2" font-weight="normal" fill="#000">0.22</text>
<line x1="169" y1="158.6" x2="212.5" y2="158.6" stroke="#000" stroke-width="1.4"/>
<path d="M208.0,155.79999999999998 L213.5,158.6 L208.0,161.4" fill="none" stroke="#000" stroke-width="1.4" stroke-linejoin="miter"/>
<line x1="421.3" y1="155.5" x2="463" y2="155.5" stroke="#000" stroke-width="1.4"/>
<path d="M458.5,152.7 L464,155.5 L458.5,158.3" fill="none" stroke="#000" stroke-width="1.4" stroke-linejoin="miter"/>
<text x="218.50" y="163.32" font-size="12.6" font-weight="normal" fill="#000">No T cell</text>
<text x="469.60" y="160.03" font-size="12.6" font-weight="normal" fill="#000">No T cell</text>
<line x1="60.6" y1="139" x2="60.6" y2="233.4" stroke="#000" stroke-width="1.5"/>
<path d="M57.4,228.9 L60.6,235.4 L63.800000000000004,228.9" fill="none" stroke="#000" stroke-width="1.5"/>
<line x1="304.9" y1="138" x2="304.9" y2="232.6" stroke="#000" stroke-width="1.5"/>
<path d="M301.7,228.1 L304.9,234.6 L308.09999999999997,228.1" fill="none" stroke="#000" stroke-width="1.5"/>
<text transform="translate(41.45,334.30) rotate(-90)" font-size="18.2" font-weight="normal" fill="#000">CD8</text>
<text transform="translate(296.45,334.80) rotate(-90)" font-size="18.2" font-weight="normal" fill="#000">CD8</text>
<text x="98.50" y="412.82" font-size="18" font-weight="normal" fill="#000">CD4</text>
<text x="360.00" y="414.02" font-size="18" font-weight="normal" fill="#000">CD4</text>
<text x="58.80" y="254.47" font-size="10.0" font-weight="normal" fill="#000">11</text>
<text x="177.40" y="254.28" font-size="10.0" font-weight="normal" fill="#000">57.4</text>
<text x="59.00" y="384.40" font-size="10.0" font-weight="normal" fill="#000">26.1</text>
<text x="177.20" y="384.70" font-size="10.0" font-weight="normal" fill="#000">5.43</text>
<text x="312.30" y="255.20" font-size="10.0" font-weight="normal" fill="#000">17.2</text>
<text x="431.80" y="254.50" font-size="10.0" font-weight="normal" fill="#000">34.7</text>
<text x="311.70" y="384.38" font-size="10.0" font-weight="normal" fill="#000">44.7</text>
<text x="431.70" y="384.50" font-size="10.0" font-weight="normal" fill="#000">3.54</text>
<line x1="78" y1="453" x2="78" y2="597.5" stroke="#aaa" stroke-width="1"/>
<line x1="78" y1="597.5" x2="192.5" y2="597.5" stroke="#aaa" stroke-width="1"/>
<line x1="75.5" y1="597.5" x2="78" y2="597.5" stroke="#aaa" stroke-width="1"/>
<text x="63.80" y="600.02" font-size="11.6" font-weight="normal" fill="#404040">0</text>
<line x1="75.5" y1="583.05" x2="78" y2="583.05" stroke="#aaa" stroke-width="1"/>
<text x="57.42" y="585.57" font-size="11.6" font-weight="normal" fill="#404040">10</text>
<line x1="75.5" y1="568.6" x2="78" y2="568.6" stroke="#aaa" stroke-width="1"/>
<text x="57.42" y="571.12" font-size="11.6" font-weight="normal" fill="#404040">20</text>
<line x1="75.5" y1="554.15" x2="78" y2="554.15" stroke="#aaa" stroke-width="1"/>
<text x="57.42" y="556.67" font-size="11.6" font-weight="normal" fill="#404040">30</text>
<line x1="75.5" y1="539.7" x2="78" y2="539.7" stroke="#aaa" stroke-width="1"/>
<text x="57.42" y="542.23" font-size="11.6" font-weight="normal" fill="#404040">40</text>
<line x1="75.5" y1="525.25" x2="78" y2="525.25" stroke="#aaa" stroke-width="1"/>
<text x="57.42" y="527.77" font-size="11.6" font-weight="normal" fill="#404040">50</text>
<line x1="75.5" y1="510.8" x2="78" y2="510.8" stroke="#aaa" stroke-width="1"/>
<text x="57.42" y="513.33" font-size="11.6" font-weight="normal" fill="#404040">60</text>
<line x1="75.5" y1="496.35" x2="78" y2="496.35" stroke="#aaa" stroke-width="1"/>
<text x="57.42" y="498.88" font-size="11.6" font-weight="normal" fill="#404040">70</text>
<line x1="75.5" y1="481.9" x2="78" y2="481.9" stroke="#aaa" stroke-width="1"/>
<text x="57.42" y="484.42" font-size="11.6" font-weight="normal" fill="#404040">80</text>
<line x1="75.5" y1="467.45000000000005" x2="78" y2="467.45000000000005" stroke="#aaa" stroke-width="1"/>
<text x="57.42" y="469.98" font-size="11.6" font-weight="normal" fill="#404040">90</text>
<line x1="75.5" y1="453.0" x2="78" y2="453.0" stroke="#aaa" stroke-width="1"/>
<text x="50.92" y="455.52" font-size="11.6" font-weight="normal" fill="#404040">100</text>
<text x="96.33" y="611.67" font-size="11.2" font-weight="normal" fill="#404040">100</text>
<text x="126.62" y="611.67" font-size="11.2" font-weight="normal" fill="#404040">200</text>
<text x="156.22" y="613.08" font-size="11.2" font-weight="normal" fill="#404040">300</text>
<text x="186.12" y="611.67" font-size="11.2" font-weight="normal" fill="#404040">400</text>
<line x1="78" y1="462.3" x2="155.3" y2="597.5" stroke="#000" stroke-width="1.1"/>
<line x1="78" y1="544" x2="124.3" y2="544" stroke="#000" stroke-width="2"/>
<line x1="123.5" y1="544" x2="123.5" y2="595.0" stroke="#000" stroke-width="2"/>
<path d="M120.0,590.0 L123.5,597.0 L127.0,590.0" fill="none" stroke="#000" stroke-width="2"/>
<path d="M99.4,491.09999999999997 L102.7,494.4 L99.4,497.7 L96.10000000000001,494.4Z" fill="#000"/>
<path d="M120.8,564.2 L124.1,567.5 L120.8,570.8 L117.5,567.5Z" fill="#000"/>
<path d="M163.7,593.5 L167.0,596.8 L163.7,600.0999999999999 L160.39999999999998,596.8Z" fill="#000"/>
<text x="150.00" y="530.95" font-size="11" font-weight="normal" fill="#000">X=37</text>
<text x="150.00" y="547.75" font-size="11" font-weight="normal" fill="#000">Y=162</text>
<text x="71.00" y="444.80" font-size="11.7" font-weight="normal" fill="#000">(%)</text>
<text transform="translate(42.67,579.50) rotate(-90)" font-size="14.4" font-weight="normal" fill="#000">%negative wells</text>
<text x="47.00" y="634.10" font-size="14.5" font-weight="normal" fill="#000">Number of the cells per well</text>
<line x1="334" y1="451" x2="334" y2="597.7" stroke="#aaa" stroke-width="1"/>
<line x1="334" y1="597.7" x2="449" y2="597.7" stroke="#aaa" stroke-width="1"/>
<line x1="331.5" y1="597.7" x2="334" y2="597.7" stroke="#aaa" stroke-width="1"/>
<text x="316.60" y="600.23" font-size="11.6" font-weight="normal" fill="#404040">0</text>
<line x1="331.5" y1="583.0300000000001" x2="334" y2="583.0300000000001" stroke="#aaa" stroke-width="1"/>
<text x="310.23" y="585.56" font-size="11.6" font-weight="normal" fill="#404040">10</text>
<line x1="331.5" y1="568.36" x2="334" y2="568.36" stroke="#aaa" stroke-width="1"/>
<text x="310.23" y="570.88" font-size="11.6" font-weight="normal" fill="#404040">20</text>
<line x1="331.5" y1="553.69" x2="334" y2="553.69" stroke="#aaa" stroke-width="1"/>
<text x="310.23" y="556.22" font-size="11.6" font-weight="normal" fill="#404040">30</text>
<line x1="331.5" y1="539.02" x2="334" y2="539.02" stroke="#aaa" stroke-width="1"/>
<text x="310.23" y="541.54" font-size="11.6" font-weight="normal" fill="#404040">40</text>
<line x1="331.5" y1="524.35" x2="334" y2="524.35" stroke="#aaa" stroke-width="1"/>
<text x="310.23" y="526.88" font-size="11.6" font-weight="normal" fill="#404040">50</text>
<line x1="331.5" y1="509.68" x2="334" y2="509.68" stroke="#aaa" stroke-width="1"/>
<text x="310.23" y="512.20" font-size="11.6" font-weight="normal" fill="#404040">60</text>
<line x1="331.5" y1="495.01" x2="334" y2="495.01" stroke="#aaa" stroke-width="1"/>
<text x="310.23" y="497.53" font-size="11.6" font-weight="normal" fill="#404040">70</text>
<line x1="331.5" y1="480.34000000000003" x2="334" y2="480.34000000000003" stroke="#aaa" stroke-width="1"/>
<text x="310.23" y="482.87" font-size="11.6" font-weight="normal" fill="#404040">80</text>
<line x1="331.5" y1="465.66999999999996" x2="334" y2="465.66999999999996" stroke="#aaa" stroke-width="1"/>
<text x="310.23" y="468.19" font-size="11.6" font-weight="normal" fill="#404040">90</text>
<line x1="331.5" y1="451.0" x2="334" y2="451.0" stroke="#aaa" stroke-width="1"/>
<text x="303.73" y="453.52" font-size="11.6" font-weight="normal" fill="#404040">100</text>
<text x="352.12" y="613.67" font-size="11.2" font-weight="normal" fill="#404040">100</text>
<text x="383.52" y="613.67" font-size="11.2" font-weight="normal" fill="#404040">200</text>
<text x="410.62" y="613.67" font-size="11.2" font-weight="normal" fill="#404040">300</text>
<text x="438.32" y="613.67" font-size="11.2" font-weight="normal" fill="#404040">400</text>
<line x1="334" y1="459.2" x2="412.3" y2="597.7" stroke="#000" stroke-width="1.1"/>
<line x1="334" y1="544.5" x2="382.3" y2="544.5" stroke="#000" stroke-width="2"/>
<line x1="381.5" y1="544.5" x2="381.5" y2="595.2" stroke="#000" stroke-width="2"/>
<path d="M378.0,590.2 L381.5,597.2 L385.0,590.2" fill="none" stroke="#000" stroke-width="2"/>
<path d="M355.4,484.5 L358.7,487.8 L355.4,491.1 L352.09999999999997,487.8Z" fill="#000"/>
<path d="M377,564.5 L380.3,567.8 L377,571.0999999999999 L373.7,567.8Z" fill="#000"/>
<path d="M420,593.9000000000001 L423.3,597.2 L420,600.5 L416.7,597.2Z" fill="#000"/>
<text x="392.30" y="533.15" font-size="11" font-weight="normal" fill="#000">X=37</text>
<text x="401.50" y="547.55" font-size="11" font-weight="normal" fill="#000">Y=165</text>
<text x="325.50" y="448.80" font-size="11.7" font-weight="normal" fill="#000">(%)</text>
<text transform="translate(293.77,581.50) rotate(-90)" font-size="14.4" font-weight="normal" fill="#000">%negative wells</text>
<text x="311.00" y="637.30" font-size="14.5" font-weight="normal" fill="#000">Number of the cells per well</text>
</svg>
</body></html>
